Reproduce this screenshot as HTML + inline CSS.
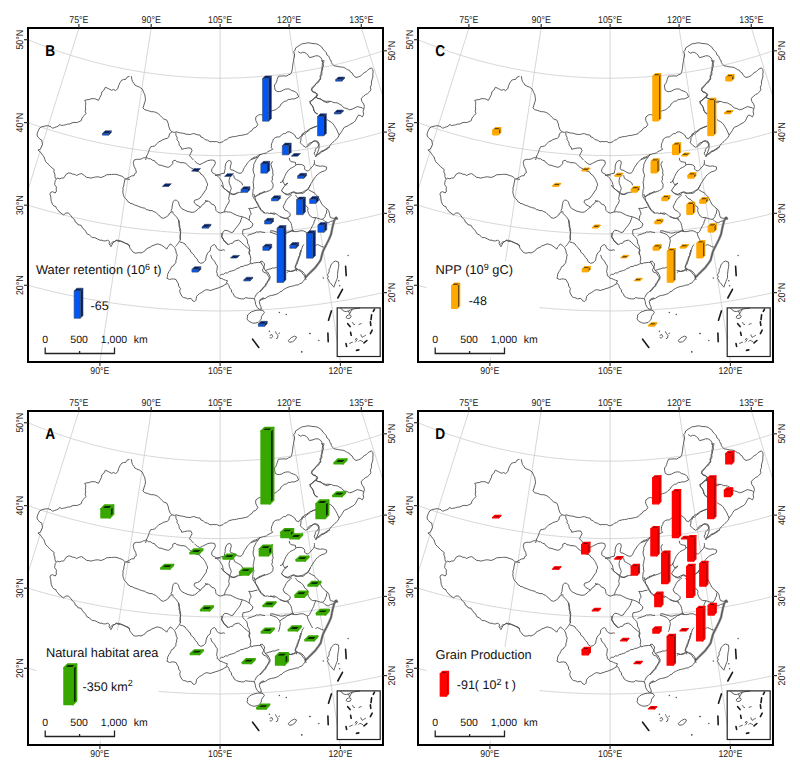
<!DOCTYPE html>
<html><head><meta charset="utf-8"><style>
html,body{margin:0;padding:0;background:#fff;}
svg{display:block;}
.tl{font-size:9.9px;fill:#1a1a1a;}
.pl{font-size:15.6px;font-weight:bold;fill:#000;}
.lg{font-size:12.8px;fill:#111;}
.lv{font-size:12.5px;fill:#111;}
.sup{font-size:9px;}
.sc{font-size:10.5px;fill:#111;}
.tk{stroke:#333;stroke-width:1.2;}
text{font-family:"Liberation Sans",Arial,Helvetica,sans-serif;text-rendering:geometricPrecision;}
</style></head><body>
<svg width="800" height="773" viewBox="0 0 800 773">
<defs><clipPath id="clip"><rect x="28" y="28" width="355" height="334"/></clipPath></defs>
<rect width="800" height="773" fill="#fff"/>
<g transform="translate(0,0)"><g fill="none" stroke="#cdcdcd" stroke-width="0.8" clip-path="url(#clip)"><polyline points="-102.9,235.8 -96.2,239 -89.5,242.2 -82.8,245.3 -76,248.4 -69.2,251.4 -62.3,254.3 -55.4,257.1 -48.5,259.9 -41.6,262.6 -34.7,265.2 -27.7,267.7 -20.7,270.2 -13.6,272.6 -6.6,275 0.5,277.2 7.6,279.4 14.7,281.6 21.9,283.6 29,285.6 36.2,287.5 43.4,289.3 50.7,291.1 57.9,292.8 65.2,294.4 72.4,295.9 79.7,297.4 87,298.8 94.4,300.1 101.7,301.3 109,302.5 116.4,303.6 123.7,304.6 131.1,305.5 138.5,306.4 145.9,307.2 153.3,307.9 160.7,308.6 168.1,309.1 175.5,309.6 183,310 190.4,310.4 197.8,310.6 205.3,310.8 212.7,310.9 220.1,311 227.6,310.9 235,310.8 242.4,310.6 249.9,310.4 257.3,310 264.7,309.6 272.1,309.1 279.5,308.6 287,307.9 294.4,307.2 301.7,306.4 309.1,305.5 316.5,304.6 323.9,303.6 331.2,302.5 338.6,301.3 345.9,300.1 353.2,298.8 360.5,297.4 367.8,295.9 375.1,294.4 382.3,292.8 389.6,291.1 396.8,289.3 404,287.5 411.2,285.6 418.4,283.6 425.5,281.6 432.6,279.4 439.8,277.2 446.8,275 453.9,272.6 460.9,270.2 467.9,267.7 474.9,265.2 481.9,262.6 488.8,259.9 495.7,257.1 502.6,254.3 509.4,251.4 516.2,248.4 523,245.3 529.8,242.2 536.5,239 543.2,235.8"/><polyline points="-68.9,166.7 -62.9,169.6 -56.9,172.5 -50.9,175.3 -44.8,178 -38.7,180.6 -32.6,183.2 -26.5,185.8 -20.3,188.2 -14.1,190.7 -7.8,193 -1.6,195.3 4.7,197.5 11,199.7 17.3,201.8 23.6,203.8 30,205.8 36.3,207.7 42.7,209.5 49.2,211.3 55.6,213 62,214.6 68.5,216.2 75,217.7 81.5,219.1 88,220.5 94.5,221.8 101,223.1 107.6,224.2 114.1,225.3 120.7,226.4 127.3,227.4 133.9,228.3 140.5,229.1 147.1,229.9 153.7,230.6 160.3,231.2 167,231.8 173.6,232.3 180.2,232.8 186.9,233.1 193.5,233.4 200.2,233.7 206.8,233.8 213.5,233.9 220.1,234 226.8,233.9 233.4,233.8 240.1,233.7 246.7,233.4 253.4,233.1 260,232.8 266.7,232.3 273.3,231.8 279.9,231.2 286.5,230.6 293.2,229.9 299.8,229.1 306.4,228.3 313,227.4 319.5,226.4 326.1,225.3 332.7,224.2 339.2,223.1 345.8,221.8 352.3,220.5 358.8,219.1 365.3,217.7 371.8,216.2 378.2,214.6 384.7,213 391.1,211.3 397.5,209.5 403.9,207.7 410.3,205.8 416.6,203.8 423,201.8 429.3,199.7 435.6,197.5 441.9,195.3 448.1,193 454.3,190.7 460.5,188.2 466.7,185.8 472.9,183.2 479,180.6 485.1,178 491.2,175.3 497.2,172.5 503.2,169.6 509.2,166.7"/><polyline points="-34.3,96.4 -29.1,99 -23.8,101.5 -18.5,103.9 -13.1,106.3 -7.7,108.7 -2.3,110.9 3.1,113.2 8.5,115.4 14,117.5 19.4,119.5 24.9,121.6 30.5,123.5 36,125.4 41.6,127.3 47.1,129 52.7,130.8 58.3,132.4 64,134.1 69.6,135.6 75.3,137.1 81,138.6 86.6,139.9 92.4,141.3 98.1,142.5 103.8,143.8 109.5,144.9 115.3,146 121.1,147 126.8,148 132.6,148.9 138.4,149.8 144.2,150.6 150,151.3 155.8,152 161.7,152.6 167.5,153.2 173.3,153.7 179.2,154.2 185,154.5 190.9,154.9 196.7,155.1 202.6,155.3 208.4,155.5 214.3,155.6 220.1,155.6 226,155.6 231.8,155.5 237.7,155.3 243.5,155.1 249.4,154.9 255.2,154.5 261.1,154.2 266.9,153.7 272.8,153.2 278.6,152.6 284.4,152 290.2,151.3 296,150.6 301.8,149.8 307.6,148.9 313.4,148 319.2,147 325,146 330.7,144.9 336.5,143.8 342.2,142.5 347.9,141.3 353.6,139.9 359.3,138.6 365,137.1 370.6,135.6 376.3,134.1 381.9,132.4 387.5,130.8 393.1,129 398.7,127.3 404.3,125.4 409.8,123.5 415.3,121.6 420.8,119.5 426.3,117.5 431.8,115.4 437.2,113.2 442.6,110.9 448,108.7 453.4,106.3 458.7,103.9 464,101.5 469.3,99 474.6,96.4"/><polyline points="-0.1,26.9 4.4,29.1 9,31.3 13.6,33.4 18.2,35.5 22.9,37.5 27.5,39.5 32.2,41.4 36.9,43.3 41.7,45.2 46.4,46.9 51.2,48.7 55.9,50.4 60.7,52 65.6,53.6 70.4,55.2 75.2,56.7 80.1,58.1 85,59.5 89.8,60.9 94.7,62.2 99.7,63.4 104.6,64.6 109.5,65.8 114.5,66.8 119.4,67.9 124.4,68.9 129.4,69.8 134.4,70.7 139.4,71.6 144.4,72.4 149.4,73.1 154.4,73.8 159.4,74.5 164.5,75.1 169.5,75.6 174.6,76.1 179.6,76.5 184.7,76.9 189.7,77.2 194.8,77.5 199.9,77.8 204.9,77.9 210,78.1 215.1,78.1 220.1,78.2 225.2,78.1 230.3,78.1 235.3,77.9 240.4,77.8 245.5,77.5 250.5,77.2 255.6,76.9 260.6,76.5 265.7,76.1 270.7,75.6 275.8,75.1 280.8,74.5 285.8,73.8 290.9,73.1 295.9,72.4 300.9,71.6 305.9,70.7 310.9,69.8 315.9,68.9 320.8,67.9 325.8,66.8 330.7,65.8 335.7,64.6 340.6,63.4 345.5,62.2 350.4,60.9 355.3,59.5 360.2,58.1 365,56.7 369.9,55.2 374.7,53.6 379.5,52 384.3,50.4 389.1,48.7 393.8,46.9 398.6,45.2 403.3,43.3 408,41.4 412.7,39.5 417.4,37.5 422,35.5 426.6,33.4 431.3,31.3 435.8,29.1 440.4,26.9"/><line x1="-32.4" y1="381.7" x2="88.1" y2="-1.1"/><line x1="92.4" y1="410.7" x2="153.3" y2="14"/><line x1="220.1" y1="420.4" x2="220.1" y2="19.1"/><line x1="347.9" y1="410.7" x2="286.9" y2="14"/><line x1="472.6" y1="381.7" x2="352.2" y2="-1.1"/></g><rect x="337.2" y="307.9" width="43" height="48.6" fill="#fff"/><g fill="none" stroke="#8a8a8a" stroke-width="2.4" stroke-linejoin="round"><polyline points="337.5,219.2 336.2,217.6 334.2,220.7 333.1,224.8 332.1,229 331.1,234.2 329,239.3 326.9,243.5 324.8,247.6 322.8,251.8 321.7,255.9 320.7,260 318.6,263.1 315.5,267.3 311.4,271.4 308.3,274.5 305.2,277.6"/></g><g fill="none" stroke="#4d4d4d" stroke-width="0.9" stroke-linejoin="round"><polyline points="131.3,76.2 131.9,79.4 132.5,81.6 133.9,83.3 134.8,85 136.5,85.9 139.7,87.2 142.3,89.1 143.6,92.3 144.9,94.9 145.1,96.9 145.5,98.8 145.1,101.5 144.2,104 143.7,106 142.9,107.9 144.9,109.8 147.2,110.3 149.4,111.1 151.3,111.7 153.3,111.7 155.3,112.2 157.2,113 158.9,114.2 160.4,115.6 161.9,117.3 163.6,118.9 166.9,120.2 168.2,123.4 168.8,126.6 170.1,129.9 172,131.8 174.3,132.4 176.6,131.8 179.1,132.7 181.7,133.1 183.9,133.4 186,134.2 188.2,134.4 190.4,134.5 192.5,133.7 194.7,133.7 197.2,134.8 199.9,135 200.9,137 203.1,137.6 204.9,139.6 207.6,140.2 210,141.8 212.8,141.5 214.8,141.7 216.7,141.5 219.3,142.8 221.2,142.3 223,141.7 224.4,140.2 226.6,139.6 228.2,138.3 230,137"/><polyline points="172,131.8 169.5,133.7 168.8,137 167.1,138.4 164.9,138.9 162.8,139.7 161,140.9 158.8,141.7 157.2,143.4 156,144.8 154.6,146 152.7,146.4 150.7,146.7 149.4,149.3 148.8,151.2 148.1,153.1 147.3,154.8 146.4,156.4 146.2,158.3 145.5,160"/><polyline points="175.9,132.4 175.9,135.2 177.2,137.6 177,139.8 178.5,141.5 179.1,143.4 179.2,145.4 181,147 181.7,149.3 184.3,148.6 187.6,148 190.8,148 192.1,150.6 190.8,153.1 189.5,155.7 190.7,157.1 192.1,158.3 193.4,160"/><polyline points="230,137.6 232.1,136.8 234.3,136.6 236.5,136.3 238.6,135.6 240.8,135.5 242.9,135 245.5,134.5 248.1,133.7 249.7,131.7 252,130.5 253.4,128.2 255.9,127.3 257.8,124.7 256.9,122.7 255.9,120.8 255.6,118.8 255.9,116.9 258.5,115 260.4,114.5 262.3,115 264.2,114.8 265.8,113.8 267.5,113 269.5,112.7 271.1,111.5 272.7,110.5 274.7,110.1 276.6,109.2 278,107.6 279.8,106.6 281.1,104 282.7,102.7 284.3,101.4 286.5,100.9 288.2,99.5 290.2,99.4 292.1,98.8 294.1,99 296,98.2 298.6,96.9 297.3,93.6 295.6,91.9 293.4,91 291.3,90.4 289.5,89.1 287.6,88.9 285.6,89.1 283.6,89.9 281.7,91 279.8,91.5 277.9,91.7 275.3,90.4 274.6,87.2 274.5,85 275.9,83.3 276.7,81.4 277.2,79.4 278.5,76.2"/><polyline points="323.8,60 323.8,62 323.1,63.9 323.5,66 322.5,67.8 322.6,69.8 321.8,71.6 321.9,74.4 320.6,76.8 320.8,79 319.3,80.7 318.4,82.4 316.7,83.3 315.2,84.4 314.1,85.9 312.4,87.1 311.5,89.1 312.8,91.7 315.4,92.3 316.7,94.3 316,97.5 314,98.3 312.8,100.1 309.6,101.4 310.9,104 312.8,106.6 313.6,108.5 314.1,110.5 315.4,113 317.3,114.3"/><polyline points="316.7,126 314.7,126.8 312.8,127.9 310.6,128.9 308.9,130.5 306.3,132.4 304.4,134.4"/><polyline points="316,97.5 318.2,98.5 320.6,98.8 322,100.2 323.9,100.8 325.7,101.4 327.9,101.2 330,101.4"/><polyline points="250.7,159.6 252.3,158.5 253.9,157.3 255.9,157 257.6,156.1 259,154.7 261,154.4 263.5,153.5 266.2,153.1 268,151.6 270.1,150.6 272.7,149.3 271.3,147.6 271.4,145.4 271.7,143.3 272.7,141.5 273.3,139.1 275.3,137.6 277.2,136.9 279.2,137 281.7,135 283.4,133.6 285.6,133.7 287.1,131.9 289.5,131.8 292.1,133.1 294.7,135 296,137.6 298.6,138.9 299.5,137.2 301.2,136.3 302.4,133.7 304.4,134.4"/><polyline points="307.6,145.4 308.6,143.8 310.2,142.8 312.4,142.3 314.1,140.9 316.1,140.9 318,141.5 319.3,144.1 318,146.7 316.6,147.9 315.4,149.3 315.2,151.4 314.1,153.1 315.4,155.7"/><polyline points="315.4,157 316.7,155.7 317.9,154.3 319.3,153.1 320.9,151.4 323.1,150.6 325.2,149.5 327,148 330,146.7"/><polyline points="330.8,60 331.4,62.6 332.6,64.3 334,65.8 336,66.1 337.9,66.5 339.8,66.9 341.7,67.1 343.8,67.4 345.6,68.4 347.4,69.6 349.5,70.3 350.4,72 352.1,72.9 353.4,75.5 356,77.5 358.6,76.8 360.8,75.9 362.4,74.2 364.2,72.7 366.3,71.6 367.5,70.3 368.9,69.1 371.5,67.8 372.8,69.7 373.1,72 372.8,74.2 372.9,76.9 372.1,79.4 371.4,82 371.5,84.6 370.3,87.1 370.9,89.8 369.4,91.9 367.6,93.6 365.4,94.6 363.7,96.2 362.2,97.3 361.2,98.8 361.8,101.4 363.7,104 364.4,106.6 363.7,109.2 363.1,111.7 363.7,114.3 362.4,116.9 360.5,115.6 358.6,115 357.3,116.9 356.3,118.9 355.3,120.8 353.9,122.3 352.1,123.4 349.5,124.7 347.6,126 344.3,127.3 343,129.2 342.4,130.5 341.1,132.4 339.2,135 337.9,137.6 336.5,138.8 335.3,140.2 334,141.5 332.5,142.6 331.2,143.9 330.1,145.4 328.8,147.6 326.9,149.3 325.1,150.1 323.6,151.2 321.3,151.9 319.8,153.8 317.3,154.3 315.9,156.4"/><polyline points="315.9,156.4 316.8,154.1 317.8,151.8 318.5,149.9 319.1,148 319,145.3 317.8,142.8 315.2,140.9 312.6,141.5 310.7,144.1 308.1,146 305.5,147.3"/><polyline points="305.5,147.3 302.9,145.4 301.6,144.1 300.3,142.8 300.9,140.2 301,137.6 302.2,136.2 302.9,134.4"/><polyline points="317.2,126 315.4,127 313.3,127.3 311.3,128.2 309.4,129.2 306.8,131.2 304.2,132.4 302.9,134.4"/><polyline points="321.7,60 322.5,62.5 322.3,65.2 322,67.7 321.7,70.3 321.1,72.2 321,74.2 320,76 320.4,78.1 318.5,80.7 317.2,82.3 315.9,83.9 314.9,85.8 313.3,87.2 312.2,88.7 311.3,90.4 313.3,92.3 315.9,93 317.8,94.3 317.2,96.2 315.1,97.3 313.3,98.8 312.1,100.2 310.7,101.4 310.1,103.3 312,105.3 313.3,107.9 313.9,111.1 315.9,113 317.8,113.7"/><polyline points="315.9,96.9 317.6,98.4 319.8,98.8 321.9,99.8 323.6,101.4 325.5,102.2 327.5,102.7 329.3,101.7 331.4,101.4 333.2,102.5 335.3,102.7 337.4,102.9 339.2,104 341.7,105.3 342.8,106.8 344.3,107.9 346.9,108.5 349.5,109.8 352.1,109.2 354.7,107.9 357.3,106.6 359.9,107.2 362.4,107.9 363.7,109.2"/><polyline points="326.9,119.5 328.8,120.8 330.9,121.9 332.7,123.4 334.1,125.3 335.3,127.3 336.3,128.9 337.2,130.6 337.9,132.4 339.2,135"/><polyline points="57.2,178.1 55.2,180.7 54.9,182.6 54.6,184.6 56.5,187.2 56.1,189.1 56.5,191 55.2,193 52.6,191.7 50.7,192.3 49.9,194.2 50.7,196.2 50.9,198.8 51.3,201.4 52.6,204.6 54,206 55.9,206.6 56.4,208.4 57.8,209.8 59.1,211.7 61,213 63.6,215 65.6,213 68.2,213 69.7,214.1 70.8,215.6 72.7,218.2 74.7,219.7 75.3,222.1 77,223 77.9,224.7 81.1,225.3 82,227 83,228.6 84.5,229.7 85.6,231.2 86.9,233.7 89.5,235 90.9,236.2 92.1,237.6 94.7,237.6 97.3,238.9 99.9,240.2 101.9,240.2 103.7,240.9 105.7,240.9 107.6,240.2 109.6,241.5 109.1,243.6 110.2,245.4 110.9,246.7 112,244.8 112.8,242.8 115.4,240.9 118,240.2 120.6,240.9 123.1,242.1 125.7,243.4 128.3,244.1 130,246"/><polyline points="57.2,178.1 59.8,178.8 61.6,178 63.6,178.1 64.9,176.2 66.2,174.2 68.8,172.9 70.8,173.3 72.7,174.2 74.8,174.4 76.6,175.5 79.2,174.2 81.7,173.6 84.3,175.5 86.9,177.5 88.9,177.6 90.8,178.1 93.4,177.5 95.3,177 97.3,176.8 99.3,177.1 101.2,177.5 104.4,176.2 106.3,174.9 108.9,174.6 111.5,174.5 113.7,174.3 115.9,174.3 118,174.9 119.9,175.6 121.8,176.2 123.6,177.3 125.1,178.8 127.5,179.2 130,179.4"/><polyline points="125.1,178.8 124.4,182 123.9,183.9 123.8,185.9 122.9,187.8 123.1,189.8 122.8,191.7 123.1,193.6 123.6,195.6 124.4,197.5 125.8,198.7 127,200.1 128.1,201.9 130,202.7"/><polyline points="146.8,157.5 148.6,158.7 150.7,158.8 152.4,160.2 154.6,160.7 155.5,162.4 157.2,163.3 158.7,165 161,165.2 162.9,165.9 164.9,166.5 166.8,167.1 168.8,167.2 171.4,165.2 172.7,163.5 172.7,161.3 175.3,160.1 176.9,161.8 179.2,162 181,162.8 183,162.6 185.6,163.3 187.1,164.4 188.2,165.9 190.8,167.8 193.4,169.1 196,171 198,171.4 199.9,172.3 200.7,174 202.4,174.9 204.4,177.5 205.6,179.3 206.3,181.4 207.3,183.2 207.6,185.3 206.5,187.1 206.3,189.2 204.9,191 203.7,193 201.8,195.6 199.9,198.2 197.3,199.5 194.7,200.2 194,202.1 196,204.7 198.6,206 200.5,207.3"/><polyline points="130,203.4 132.1,203.6 133.9,204.7 135.8,205.4 137.8,206 139.4,206.8 141.2,207.3 142.9,207.9 144.8,208.2 146.3,209.5 148.1,209.9 150,210.7 152,210.5 153.8,211.7 155.9,212.4 157.1,213.8 158.5,215 160,216.1 161,217.6 163.6,218.3 166.2,217 168.8,215 169.5,213.1 171.4,212.4 171.1,210.4 172,208.6 172.2,206 172.7,203.4 173.1,201.5 174.6,200.2 176.6,200.2 178.5,202.1 179,204.1 179.8,206 181.7,208.6 184.3,209.9 186.9,211.2 189.5,211.8 192.1,212.4 194.7,211.8 197.3,209.9 198.7,208.3 200.5,207.3"/><polyline points="172.7,211.2 173.1,213.4 174.6,215 176.4,216.8 177.9,218.9 179.3,221.3 179.2,224.1 179,226.3 179.9,228.4 179.8,230.6 180.6,232.4 180.2,234.4 180.5,236.2 179.9,238.2 180.5,240"/><polyline points="200.5,207.3 202.4,204.7 204.1,203.8 205,202.1 207.6,200.8"/><polyline points="194.7,160.7 195.8,162.2 197.3,163.3 199.9,164.6 202.4,163.3 205,162 207.6,160.7 210.2,160.1 212.8,160.1 214.7,160.7 215.4,163.3 214.1,165.9 212.1,168.5 211.5,171 212.4,172.7 214.1,173.6 216.7,174.9 219.3,174.9 220.6,176.2"/><polyline points="110,244.6 111.2,243.2 112.6,242 114.8,241.5 116.5,240.1 118.2,241.4 120.3,241.3 122.3,241.9 124.2,242.6 126.8,243.9 129.4,245.9 129.9,248.1 131.3,249.8 133.3,252.3 135.2,253.1 137.2,253 139.1,252.5 141,253 143.6,251.7 145.2,250.7 146.2,249.1 148.1,248 150.1,247.2 151.9,245.9 154,245.2 155.9,244.3 157.9,243.9 159.8,244.6 161.7,245.2 164.3,247.2 166.9,249.1 167.5,247.2 168.9,245.9 170.2,243.9 172.1,245.2 173.4,246.5 174.7,247.8 176,251 176.2,253.1 177.3,254.9 176.7,256.8 176.6,258.8 175.8,260.7 176,262.7 174.4,264 173.4,265.9 171.6,266.7 170.8,268.5 170,270.2 168.9,271.7 167.6,274.3 167.5,276.3 166.9,278.2 169.5,279.5 171.4,279 173.4,278.9 176,279.5 177.3,282.1 178.5,283.9 178.6,286 180.5,288.6 179.8,290.4 179.9,292.4 181.2,295 182.2,296.6 183.7,297.6 185.8,297.9 187.6,298.9 190.9,298.3 192.8,300.9 194.7,301.5 196,300.2 196.3,298.2 196.7,296.3 197.9,294.9 199.3,293.7 201.8,292.4 204.4,290.5 206.3,289.7 208.3,289.9 210,290.5"/><polyline points="178.6,220 178.6,222 179.2,223.9 179.8,225.8 179.9,227.8 180.7,230.3 180.5,232.9 180.3,234.9 179.9,236.8 180.6,238.8 179.9,240.7 178.6,242.6 177.3,244.6 175.3,246.5"/><polyline points="179.9,242 182.4,242.6 185,243.9 186.1,245.7 187.6,247.2 188.6,248.8 190.2,249.8 190.8,252.2 192.8,253.6 194.2,255.5 195.4,257.5 197.2,259.1 198,261.4 200.6,263.3 203.1,262.7 204.5,261.5 205.7,260.1 205.9,258.1 206.4,256.2 207.1,254.1 208.3,252.3 210,251"/><polyline points="221,232.9 221.9,234.8 221.7,236.8 223.3,238.4 223.6,240.7 225,241.9 226.2,243.3 228.8,244.6 230.6,243.4 232.7,243.3 233.8,241.4 235.9,240.7 238.5,240.1 241.1,242 243,243.9 245,245.9 247.6,247.8 249.5,249.8 248.9,253 250.2,255.6 250.8,258.8 250.2,261.4 251.4,264 253.6,263 256,262.7 258.6,262.4 261.2,262.7"/><polyline points="210.1,251 210.5,249.1 210.7,247.2 212.6,245.2 214.6,244.6 215.9,245.9 216.5,247.8 218.5,249.8 221,250.4 223.6,249.8 224.9,250.4"/><polyline points="210.7,254.9 211.3,256.9 212,258.8 213.5,259.9 214.6,261.4 215.9,264 217.3,265.7 217.2,267.9 217,269.8 216.5,271.7 217.3,273.6 217.2,275.6 218.9,276.5 219.8,278.2 221.8,278.5 223.6,279.5 225.5,280.2 227.5,280.8 226.2,283.4"/><polyline points="219.8,275.6 221.5,274.3 223.6,274.3 225.3,272.8 227.5,273 229.2,271.6 231.4,271.1 233.4,270.5 235.3,269.8 237,268.4 239.2,267.9 240.9,266.5 243,266.6 244.7,265.3 246.9,265.3 248.9,264.3 250.8,263.3"/><polyline points="261.2,262.7 262.4,265.3 263.9,267 264.4,269.2 266.3,271.7 268.1,272.5 268.9,274.3 270.2,276.9 269.6,279.5 267.6,282.1 266.3,284.7 265.4,286.4 263.7,287.3 262.2,288.4 261.2,289.9 259.8,291.1 258.6,292.4 257,293.4 256,295 254.7,297.6"/><polyline points="265,270.5 267,269.9 268.9,269.2 270.9,268.8 272.8,267.9 274.8,268.1 276.7,267.2 279.3,266.6"/><polyline points="210.1,290.6 212,289.9 214,289.3 215.9,288.6 217.9,288.1 219.8,287.3 223,286 224.9,284.7 227.5,283.4 228.8,285.3 229.6,287.9 231.4,289.9 231.6,292.2 233.3,293.7 234.3,296.2 236.6,297.6 239.1,298.5 241.7,298.9 243.9,298.9 245.6,297.6 248.2,298.2 250.8,298.3 252.8,298.4 254.7,298.9"/><polyline points="221.3,185 223.1,187.7 224.9,189.1 226.7,190.4 229.4,192.2 232.1,194 234,194.2 235.8,193.6 237.6,192.2"/><polyline points="229.4,193.1 229.4,195 229,196.8 228.6,198.7 229.4,200.4 228.5,203.1 226.7,205.8 225.4,208.5 224.5,211.2 223.6,212.1"/><polyline points="205,200.4 206.7,201.1 208.6,201.3 210.3,202.3 211.3,204 214,204.9 215.4,206.7 215.7,208.5 215.9,210.3 217.7,212.1 220.4,213.1 223.6,212.1"/><polyline points="223.6,212.1 226.7,211.7 228.5,212.1 230.3,212.1 232.2,213 234,214 236.7,215.3 239.4,216.2 242.1,216.7 244.8,217.6 247.5,218.9 249.3,220.3"/><polyline points="242.1,217.1 241.2,219.4 240.3,222.1 238.5,224.8 236.7,227.1 234.9,229.3 233.1,232.1 231.2,232.5 229.4,231.6 227.6,230.7 224.9,230.2 223.1,232.1 222.2,234.8 221.7,237.5 223.1,239.3 224.9,241.1 226.7,242.9 227.6,244.7"/><polyline points="249.3,220.3 251.2,222.1 253,223.9 252.1,226.6 249.3,228.4 247.5,228.9 245.7,229.3 243,229.8 242.6,232.1 243,234.8 244.8,236.6 246.6,238.4 247.5,241.1 247.5,243 248.4,244.7 249.3,246.4 249.3,248.3 250,250.5 249.2,252.8 249.8,255"/><polyline points="248.4,208.5 250.2,208.3 252.1,208.5 254.8,207.6 257.5,207.2"/><polyline points="249.3,208.5 250.2,211.2 251.2,214 249.8,215.8 249.3,218.5 249.3,220.3"/><polyline points="253.9,194 254.8,196.8 257.5,195 259,193.5 261.1,193.1 263,192.2 265,191.3"/><polyline points="254.8,196.8 255.4,198.6 255.7,200.4 257.5,203.1 258.4,204.9 259.3,206.7 261.1,209.4 262.9,211.2 265,213.1"/><polyline points="247.5,235.7 249.2,234.7 251.2,234.3 252.9,233.5 254.8,233 256.4,231.9 258.4,232.1 260.2,231.6 262,232.1 265,232.5"/><polyline points="281.6,190.4 282.8,192.3 284.7,193.5 287.8,194.3 290.9,192.8 293.2,192 295.5,193.5 297.5,193.3 299.4,192.8 302.5,193.5 304.2,192.5 305.6,191.2 308,188.9 309.5,186.6 310.3,185"/><polyline points="308.7,189.7 311.1,191.2 314.2,192.8 316.5,195.1 317.8,196.5 318.8,198.2 320.4,201.3 321.9,204.4 323.6,205.8 325,207.5 327.4,209.1 328.9,211.4 329.4,213.3 329.7,215.3 330.5,217.6 333.6,218.4 335.9,217.6 337.5,219.2"/><polyline points="295.5,195.1 296.6,196.7 297.9,198.2 301,199.8 303.3,202.1 304.8,205.2 307.2,206.7 308,208.3 307.6,210.6 308.7,213.7 310.3,216.1 312.6,217.6 315.7,217.6 318,218.4 320.4,219.2 322.7,219.2 325,216.8 325.4,214.7 326.6,213 326.6,210.6 327.4,209.1"/><polyline points="322.7,219.2 325,221.5 328.1,223 330.5,221.5 333.6,220.7"/><polyline points="315.7,217.6 315,219.6 314.2,221.5 313.7,223.6 312.6,225.4 311.1,228.5 309.5,231.6 308,233.1 306.4,232.4"/><polyline points="306.4,232.4 303.3,230.8 300.2,230.8 297.1,231.6 294,231.6 291.6,230.8 289.8,231.9 287.8,232.4 286.3,233.7 284.7,234.7 282.3,236.2 280,237.8"/><polyline points="307.2,233.1 308,236.2 309.5,239.3 311.1,242.5 312.6,245"/><polyline points="291.6,195.1 290.1,196.6 287.8,198.2 286.2,200.5 284.7,203.6 283.1,206.7 284.7,209.8 287.8,211.4 290.1,213.7 290.1,216.1 287.8,217.6 285.4,218.4 282.3,217.6 280,216.8"/><polyline points="287.8,218.4 288.5,220.3 290.1,221.5 291.1,223.4 291.6,225.4 292,227.3 292.4,229.3 293.2,231.6"/><polyline points="260,301.2 261.4,299.6 263.5,298.9 265.4,298.4 267,297.2 269.2,296 271.6,295.4 274,295 276.3,294.2 278.4,293.5 279.8,291.9 281.9,291.3 283.3,289.6 285.6,288.4 287.9,287.3 290.2,286.5 292.6,286.1 294.4,285.7 296.1,284.9 298.1,285.1 299.6,283.8 301.7,283.1 303.1,281.4 304.5,279.8 305.4,277.9"/><polyline points="305.4,277.9 305.4,275.4 304.2,273.3 301.9,271 300.3,270 298.4,269.8 296.1,268.6 294.9,267.5 295.6,265.8 296.1,264 296.8,262.3 297.3,260.5 298.2,258.9 298.4,257 299.8,255.5 299.6,253.5 300.4,251.8 300.7,250"/><polyline points="286.8,272.7 288.3,271.5 290.3,271.5 293.8,271 296.1,269.8"/><polyline points="260,261.6 262.3,261.1 263.4,262.6 264.7,264 264.1,266.3 263.5,268.2 262.3,269.8 263.5,272.1 265.2,272.7 267,273.3 267.6,275.4 269.3,276.8 269,278.7 268.1,280.3 267.1,282.2 265.8,283.8 264.9,285.7 263.5,287.3 262.7,289.2 261.2,290.7 260,291.9"/><polyline points="254.2,298.3 255.2,301.4 255.7,304.5 257.3,307.6 259.3,309.2 261.4,309.2 260.9,306.6 259.9,304.5 259.3,301.4 260.4,299.3 263.5,297.8 264,299"/><polyline points="288.3,340.7 289.7,339 291.4,337.6 294.5,336.1 296.6,337.1 295.1,339.7 292.5,341.8 289.4,342.3 288.3,340.7"/><polyline points="269.7,335.5 271.8,334.5 272.8,336.6 271.2,338.1 269.7,337.6"/><polyline points="275.4,331.4 276.4,333.5 278,335.5 277.5,338.1 275.9,338.7"/><polyline points="278.5,333.5 280,333"/><polyline points="247.5,315 249.4,313.4 251.3,311.9 253.2,311.4 255,310.6 257.5,310.2 260,310 263.1,310.6 264.4,312.5 262.5,315 261.4,316.7 261.3,318.8 260,320.6 258.1,322.5 255,323.1 253.1,323.2 251.3,322.5 248.8,321.3 246.9,318.8 247.7,317 247.5,315"/><polyline points="278.5,76.2 281.5,76 284.1,75.9 286.8,76 288.4,74.8 290.3,74.3 291.4,72.7 292,70.8 292.4,68.5 292.7,66.1 292.9,63.8 293.4,61.6 293.6,59.4 294.3,57.2 294.6,55 293.8,51.5 295.2,50 295.5,48 298.1,46.3 300.8,44.5 302.5,43.7 304.3,43.6 307.8,42.8 310.4,43.1 313,43.6 315.7,43.7 318.3,44.5 320,45.8 321.8,47.1 322.9,49 324.4,50.6 326.2,52.5 327,55 328.8,56.3 329.6,58.4 330.5,60.3"/><polyline points="298.1,51.5 300.8,53.3 302.4,52.3 304.3,52.4 306.3,53.4 307.8,55 309.5,57.6 313,56.8 315.6,55.8 318.3,55.9 320.9,57.6 322,59.7 322.6,62"/><polyline points="340.5,308 342,309.8 344.1,311.2 346.3,311.6 348.5,310.9 350.7,309.8 352.8,309.1 355,308.7 357.9,308.3 360.1,308"/><polyline points="348.5,310.9 349.2,312.7 349.6,314.1"/><polyline points="352.8,309.4 351,311.2 349.9,313.1 349.6,314.1"/><polyline points="346.7,316 348.5,314.9 350.3,314.9 351.2,316.3 350.1,318.1 347.8,318.6 346.2,317.6 346.7,316"/><polyline points="352.5,322.1 353.2,323.6 353.9,324.7 355,324.3"/><polyline points="358.6,324.7 360.1,323.9 361.5,323.6"/><polyline points="355,340.2 356.5,338.1 357.2,339.5 355.7,341.7 355,342.4"/><polyline points="360.8,334.4 361.5,336.6 363,337.3 364.4,335.9 365.9,335.2"/><polyline points="358.6,341.7 360.1,340.2 361.5,341 363,341.7"/><polyline points="349.2,343.5 351,342.8 352.8,342"/><polyline points="215,175.6 217.3,175.2 219.7,174.4 222,173.6 224.3,173.2"/><polyline points="224.3,173.2 224.7,170.5 225.3,168.6 225.1,166.6 225.9,163.5 227.4,161.2 229.4,160.4 230.9,161.2 231.3,163.5 230.5,165.9 230.1,168.2 230.9,169.8 232.9,170.1 235.2,171.3 237.1,172.5 239.1,173.2 241,173.2 242.6,171.7 243.3,169.8 244.5,167.4 246.1,165.1 247.6,162.8 249.2,161.2 250.7,159.7 253,158.9 255.4,158.1 257.3,157.3 258.9,156.2 260,155"/><polyline points="216.6,175.2 218.9,177.5 220.4,178.8 221.2,180.6 222.4,182.4 222.8,184.5 223.5,187.6 225.9,189.9 228.2,191.9 229.4,193"/><polyline points="232.1,175.2 229.8,177.5 229,180.6 229.4,183.7 230.5,186.1 231.3,188.4 230.5,190.7 229.4,193"/><polyline points="233.6,175.2 234.4,178.3 236.3,179.5 238.3,180.6 240.1,181.7 241.8,183 242.6,185.3"/><polyline points="241.8,192.3 239.8,192.3 237.5,193 235.2,194.2 232.9,194.6 230.5,193.8 229.4,193"/><polyline points="258.5,156.6 257.3,158.2 256.1,159.7 254.6,162.8 253.7,164.6 253.8,166.6 253,169 253.4,172.1 254.6,175.2 253.8,178.3 253.7,180.3 253,182.2 253.5,184.1 253.4,186.1 254,188.1 253,189.9 253,191.9 252.7,193.8 253,196.9 254.6,199.3 256.1,201.6 257.7,204.7 259.3,207.8 260.8,210.1 263.1,212.5 265.5,213.2 267.5,212.9 269.3,213.6 271.3,213.3 273.2,214 275,214.4"/><polyline points="272.5,161.2 270.9,164.3 271.7,167.4 272.8,170.5 272.7,172.9 273.2,175.2 272.1,177 272.5,179.1 271.7,181.4 273.2,184.5 272.8,187.6 271.7,189.2 269.3,190.7 267,191.5 264.7,192.3 262.4,193 260,194.2 257.7,195.4 254.6,196.9"/><polyline points="280,182.6 282.3,181.8 283.5,179.5 284.7,176.4 286.2,173.3 287.8,171 290.1,168.6 292.4,167.5 294.8,166.3 295.9,164.8 297.9,164.4 300.2,164.4 302.5,164.8 304.1,165.9 304.8,167.5 304.5,169 305.6,170.2 307.2,171 308.7,170.6 310.3,169 311.8,167.1 313.4,165.5 314.2,164"/><polyline points="314.2,164 315.7,165.1 318,165.9 320.4,166.3 322.3,165.9 324.3,166.3 326.6,167.1 326.6,169 325.8,170.2 324.3,171 321.9,171.7 319.6,172.9 317.3,174.8 315.7,176.4 314.2,178.7 312.6,181.1 311.1,183.4 309.9,185.7 308.7,188 308,189.6"/><polyline points="283.1,179.5 282.7,181.1 283.9,183.4 284.7,184.9 287,183.4 287.8,183 286.6,184.7 284.7,185.7 283.1,188 281.6,190.4 282.3,191.5 284.7,193.5 286.2,194.6 288.5,195 290.9,194.6 291.6,193.5 292.4,192.3 294,191.9 296.3,192.7 298.6,193.5 301,192.7 303.3,191.9 305.6,190.4 308,189.6"/><polyline points="289.3,157.8 289.7,160.1 290.9,161.6 293.2,162 295.5,162.4 295.5,164 295.9,164.8"/><polyline points="314.2,164 314.5,161.6 314.2,160.1"/><polyline points="55.7,178.8 54.9,176.5 54.9,174.1 53.8,171.9 54.2,169.5 52.2,168 50.3,166.4 48.8,164.8 47.3,163.1 45.6,161.7 44.8,159.4 44.1,157 42.8,155.5 41.7,153.9 40.1,151.7 37.9,150.1 39.9,149.4 41,147.7 42.5,144.6 42.1,142.3 41.7,140 39.9,139.1 38.6,137.6 37.2,136 37.1,133.8 37.8,131.8 38.6,129.9 39.7,127.9 41.7,126.8 44.9,126 48,125.7 51.1,126.8 52.6,128.3 54.5,127.5 56.5,126.8 58.4,126.1 59.6,124.4 61.4,125.5 63.5,125.2 65.5,124.8 67.4,124.1 69.8,124 72,122.9 74,122.3 76.2,122.6 78.2,122.1 81.3,120.6 81.8,118.5 82.9,116.7 84.5,115.2 86,113.6 85.2,111.3 85.7,108.9 85.4,106.6 85.7,104.3 85.7,102.2 84.7,100.4 86.9,99.8 89.1,99.6 91.1,98.7 93.2,98.7 95.3,98.8 98.4,100.4 100,97.3 101.5,94.2 101.9,91.8 103.8,90.3 105.4,87.2 108.5,88.7 111.6,90.3 113.6,89.5 115.5,90.6 117.8,88.7 118.6,85.6 120.1,82.5 121.7,80.2 123.6,79.6 125.6,79.4 127.1,77.1 129.5,76.3"/><polyline points="126.4,178.8 129.5,177.2 131.6,175.9 134.1,175.7 134.7,173.7 136.4,172.6 135.7,169.5 134.1,166.4 133.6,164.5 133.3,162.5 134.1,160.1 136.4,159.3 138.8,159.4 141.2,159 143.4,157.8 145.5,157.7 147,156.3"/><polyline points="335.5,261 338.4,262 338.8,264.9 338.6,267.2 338.1,269.4 337.8,272 337.5,274.6 337.5,277.8 336.6,279.7 335.9,281.7 334.6,285 333.9,287.2 332,285 330.7,283.2 329.1,281.7 328.7,279.9 327.4,278.5 328.3,276.6 327.4,274.6 328.6,273.1 329.2,271.4 329.1,269.4 330.2,267.8 330.7,266 331.3,264.2 333.6,262 335.5,261"/><polyline points="270,212.9 272.1,213.5 274.1,212.9 277.2,214.5 278.7,215.8 280.4,216.6 283.5,218.1 286.6,218.6 289.2,219.2"/><polyline points="315.5,245.5 317.6,244.5 319.7,245.5 321.8,246.6 323.8,247.1"/><polyline points="304.2,244.5 302.8,245.8 302.1,247.6 301.4,249.7 301.1,251.8 300,254.9 299,258 298,261.1 296.9,264.2 295.6,266.1 295.9,268.3 296.9,271.4"/><polyline points="270,232.1 273.1,233.1 276.2,234.2 277.9,235.6 279.3,237.3 280.4,240.4 279.8,243.5 279.3,246.6 278.3,248.7"/><polyline points="270,231.1 272.1,230.7 274.1,231.1 276.1,232 278.3,232.4 280.4,233.1 283,233 285.5,232.1 288.2,232.2 290.7,231.1 293.8,230.5"/><polyline points="286.6,270.4 288.7,270.7 290.7,271.4 293.8,270.4 295.9,268.8 298,269.4 299.3,270.7 301.1,271.4 302.1,272.9 303.1,274.5 304.7,275.7 305.2,277.6 306.2,280"/><polyline points="337.5,219.2 336.2,217.6 334.2,220.7 333.1,224.8 332.1,229 331.1,234.2 329,239.3 326.9,243.5 324.8,247.6 322.8,251.8 321.7,255.9 320.7,260 318.6,263.1 315.5,267.3 311.4,271.4 308.3,274.5 305.2,277.6"/></g><rect x="337.2" y="307.9" width="43" height="48.6" fill="none" stroke="#222" stroke-width="1.2"/><g stroke="#1a1a1a" stroke-width="1.6" stroke-linecap="round"><line x1="337.8" y1="298.0" x2="342.5" y2="289.3"/><line x1="328.5" y1="320.2" x2="331.4" y2="310.9"/><line x1="327.9" y1="333.0" x2="328.2" y2="341.7"/><line x1="345.6" y1="266.3" x2="346.2" y2="275.6"/><line x1="252.6" y1="339.2" x2="258.8" y2="347.5"/><line x1="374.5" y1="309.1" x2="373.3" y2="311.4"/><line x1="371.6" y1="314.9" x2="371.0" y2="319.6"/><line x1="370.4" y1="321.9" x2="370.8" y2="325.4"/><line x1="372.2" y1="330.1" x2="370.4" y2="333.6"/><line x1="366.9" y1="340.5" x2="364.0" y2="342.9"/><line x1="356.5" y1="350.4" x2="358.8" y2="349.9"/><line x1="346.0" y1="343.5" x2="346.6" y2="346.4"/><line x1="350.6" y1="332.4" x2="351.2" y2="335.3"/><line x1="347.7" y1="323.7" x2="350.1" y2="326.6"/></g><g fill="#555"><circle cx="279.4" cy="312.5" r="0.75"/><circle cx="286.3" cy="314.4" r="0.75"/><circle cx="269.4" cy="331.3" r="0.75"/><circle cx="310" cy="333.5" r="0.75"/><circle cx="318.8" cy="340.6" r="0.75"/><circle cx="301.9" cy="351.9" r="0.75"/><circle cx="348.1" cy="255.4" r="0.75"/><circle cx="323.3" cy="278" r="0.75"/><circle cx="309.9" cy="333.6" r="0.75"/><circle cx="301.6" cy="351.7" r="0.75"/><circle cx="339.6" cy="285.7" r="0.75"/><circle cx="338.8" cy="280.7" r="0.75"/></g><polygon points="335.6,79.8 341.8,79.8 344.5,77.1 338.3,77.1" fill="#00206e" stroke="#3a4a66" stroke-width="0.6" stroke-linejoin="round"/><polygon points="341.8,79.8 341.8,81.2 344.5,78.5 344.5,77.1" fill="#00206e" stroke="#3a4a66" stroke-width="0.6" stroke-linejoin="round"/><rect x="335.6" y="79.8" width="6.2" height="1.4" fill="#0057f5" stroke="#3a4a66" stroke-width="0.6" stroke-linejoin="round"/><polygon points="334.3,112.8 340.5,112.8 343.2,110.1 337,110.1" fill="#00206e" stroke="#3a4a66" stroke-width="0.6" stroke-linejoin="round"/><polygon points="340.5,112.8 340.5,114 343.2,111.3 343.2,110.1" fill="#00206e" stroke="#3a4a66" stroke-width="0.6" stroke-linejoin="round"/><rect x="334.3" y="112.8" width="6.2" height="1.2" fill="#0057f5" stroke="#3a4a66" stroke-width="0.6" stroke-linejoin="round"/><polygon points="262.5,78.6 268.7,78.6 271.4,75.9 265.2,75.9" fill="#00206e" stroke="#3a4a66" stroke-width="0.6" stroke-linejoin="round"/><polygon points="268.7,78.6 268.7,121.2 271.4,118.5 271.4,75.9" fill="#00206e" stroke="#3a4a66" stroke-width="0.6" stroke-linejoin="round"/><rect x="262.5" y="78.6" width="6.2" height="42.6" fill="#0057f5" stroke="#3a4a66" stroke-width="0.6" stroke-linejoin="round"/><polygon points="102.4,133.5 108.6,133.5 111.3,130.8 105.1,130.8" fill="#00206e" stroke="#3a4a66" stroke-width="0.6" stroke-linejoin="round"/><polygon points="108.6,133.5 108.6,135.2 111.3,132.5 111.3,130.8" fill="#00206e" stroke="#3a4a66" stroke-width="0.6" stroke-linejoin="round"/><rect x="102.4" y="133.5" width="6.2" height="1.7" fill="#0057f5" stroke="#3a4a66" stroke-width="0.6" stroke-linejoin="round"/><polygon points="317.5,116.5 323.7,116.5 326.4,113.8 320.2,113.8" fill="#00206e" stroke="#3a4a66" stroke-width="0.6" stroke-linejoin="round"/><polygon points="323.7,116.5 323.7,135.9 326.4,133.2 326.4,113.8" fill="#00206e" stroke="#3a4a66" stroke-width="0.6" stroke-linejoin="round"/><rect x="317.5" y="116.5" width="6.2" height="19.4" fill="#0057f5" stroke="#3a4a66" stroke-width="0.6" stroke-linejoin="round"/><polygon points="282.3,145.8 288.5,145.8 291.2,143.1 285,143.1" fill="#00206e" stroke="#3a4a66" stroke-width="0.6" stroke-linejoin="round"/><polygon points="288.5,145.8 288.5,154.9 291.2,152.2 291.2,143.1" fill="#00206e" stroke="#3a4a66" stroke-width="0.6" stroke-linejoin="round"/><rect x="282.3" y="145.8" width="6.2" height="9.1" fill="#0057f5" stroke="#3a4a66" stroke-width="0.6" stroke-linejoin="round"/><polygon points="291.3,156.2 297.5,156.2 300.2,153.5 294,153.5" fill="#00206e" stroke="#3a4a66" stroke-width="0.6" stroke-linejoin="round"/><polygon points="297.5,156.2 297.5,156.2 300.2,153.5 300.2,153.5" fill="#00206e" stroke="#3a4a66" stroke-width="0.6" stroke-linejoin="round"/><polygon points="191.5,171.2 197.7,171.2 200.4,168.5 194.2,168.5" fill="#00206e" stroke="#3a4a66" stroke-width="0.6" stroke-linejoin="round"/><polygon points="197.7,171.2 197.7,171.2 200.4,168.5 200.4,168.5" fill="#00206e" stroke="#3a4a66" stroke-width="0.6" stroke-linejoin="round"/><polygon points="260.8,164 267,164 269.7,161.3 263.5,161.3" fill="#00206e" stroke="#3a4a66" stroke-width="0.6" stroke-linejoin="round"/><polygon points="267,164 267,173.2 269.7,170.5 269.7,161.3" fill="#00206e" stroke="#3a4a66" stroke-width="0.6" stroke-linejoin="round"/><rect x="260.8" y="164" width="6.2" height="9.2" fill="#0057f5" stroke="#3a4a66" stroke-width="0.6" stroke-linejoin="round"/><polygon points="224.5,176.4 230.7,176.4 233.4,173.7 227.2,173.7" fill="#00206e" stroke="#3a4a66" stroke-width="0.6" stroke-linejoin="round"/><polygon points="230.7,176.4 230.7,176.4 233.4,173.7 233.4,173.7" fill="#00206e" stroke="#3a4a66" stroke-width="0.6" stroke-linejoin="round"/><polygon points="297.6,176 303.8,176 306.5,173.3 300.3,173.3" fill="#00206e" stroke="#3a4a66" stroke-width="0.6" stroke-linejoin="round"/><polygon points="303.8,176 303.8,178.4 306.5,175.7 306.5,173.3" fill="#00206e" stroke="#3a4a66" stroke-width="0.6" stroke-linejoin="round"/><rect x="297.6" y="176" width="6.2" height="2.4" fill="#0057f5" stroke="#3a4a66" stroke-width="0.6" stroke-linejoin="round"/><polygon points="162.3,186.5 168.5,186.5 171.2,183.8 165,183.8" fill="#00206e" stroke="#3a4a66" stroke-width="0.6" stroke-linejoin="round"/><polygon points="168.5,186.5 168.5,186.5 171.2,183.8 171.2,183.8" fill="#00206e" stroke="#3a4a66" stroke-width="0.6" stroke-linejoin="round"/><polygon points="241,189.5 247.2,189.5 249.9,186.8 243.7,186.8" fill="#00206e" stroke="#3a4a66" stroke-width="0.6" stroke-linejoin="round"/><polygon points="247.2,189.5 247.2,192.4 249.9,189.7 249.9,186.8" fill="#00206e" stroke="#3a4a66" stroke-width="0.6" stroke-linejoin="round"/><rect x="241" y="189.5" width="6.2" height="2.9" fill="#0057f5" stroke="#3a4a66" stroke-width="0.6" stroke-linejoin="round"/><polygon points="271.5,198.5 277.7,198.5 280.4,195.8 274.2,195.8" fill="#00206e" stroke="#3a4a66" stroke-width="0.6" stroke-linejoin="round"/><polygon points="277.7,198.5 277.7,200.9 280.4,198.2 280.4,195.8" fill="#00206e" stroke="#3a4a66" stroke-width="0.6" stroke-linejoin="round"/><rect x="271.5" y="198.5" width="6.2" height="2.4" fill="#0057f5" stroke="#3a4a66" stroke-width="0.6" stroke-linejoin="round"/><polygon points="309.6,199.3 315.8,199.3 318.5,196.6 312.3,196.6" fill="#00206e" stroke="#3a4a66" stroke-width="0.6" stroke-linejoin="round"/><polygon points="315.8,199.3 315.8,203.5 318.5,200.8 318.5,196.6" fill="#00206e" stroke="#3a4a66" stroke-width="0.6" stroke-linejoin="round"/><rect x="309.6" y="199.3" width="6.2" height="4.2" fill="#0057f5" stroke="#3a4a66" stroke-width="0.6" stroke-linejoin="round"/><polygon points="296.5,199.8 302.7,199.8 305.4,197.1 299.2,197.1" fill="#00206e" stroke="#3a4a66" stroke-width="0.6" stroke-linejoin="round"/><polygon points="302.7,199.8 302.7,214.7 305.4,212 305.4,197.1" fill="#00206e" stroke="#3a4a66" stroke-width="0.6" stroke-linejoin="round"/><rect x="296.5" y="199.8" width="6.2" height="14.9" fill="#0057f5" stroke="#3a4a66" stroke-width="0.6" stroke-linejoin="round"/><polygon points="264.6,221 270.8,221 273.5,218.3 267.3,218.3" fill="#00206e" stroke="#3a4a66" stroke-width="0.6" stroke-linejoin="round"/><polygon points="270.8,221 270.8,224 273.5,221.3 273.5,218.3" fill="#00206e" stroke="#3a4a66" stroke-width="0.6" stroke-linejoin="round"/><rect x="264.6" y="221" width="6.2" height="3" fill="#0057f5" stroke="#3a4a66" stroke-width="0.6" stroke-linejoin="round"/><polygon points="202,227 208.2,227 210.9,224.3 204.7,224.3" fill="#00206e" stroke="#3a4a66" stroke-width="0.6" stroke-linejoin="round"/><polygon points="208.2,227 208.2,228.2 210.9,225.5 210.9,224.3" fill="#00206e" stroke="#3a4a66" stroke-width="0.6" stroke-linejoin="round"/><rect x="202" y="227" width="6.2" height="1.2" fill="#0057f5" stroke="#3a4a66" stroke-width="0.6" stroke-linejoin="round"/><polygon points="317.9,225.1 324.1,225.1 326.8,222.4 320.6,222.4" fill="#00206e" stroke="#3a4a66" stroke-width="0.6" stroke-linejoin="round"/><polygon points="324.1,225.1 324.1,232.3 326.8,229.6 326.8,222.4" fill="#00206e" stroke="#3a4a66" stroke-width="0.6" stroke-linejoin="round"/><rect x="317.9" y="225.1" width="6.2" height="7.2" fill="#0057f5" stroke="#3a4a66" stroke-width="0.6" stroke-linejoin="round"/><polygon points="289.8,245.3 296,245.3 298.7,242.6 292.5,242.6" fill="#00206e" stroke="#3a4a66" stroke-width="0.6" stroke-linejoin="round"/><polygon points="296,245.3 296,248.3 298.7,245.6 298.7,242.6" fill="#00206e" stroke="#3a4a66" stroke-width="0.6" stroke-linejoin="round"/><rect x="289.8" y="245.3" width="6.2" height="3" fill="#0057f5" stroke="#3a4a66" stroke-width="0.6" stroke-linejoin="round"/><polygon points="262.8,246.9 269,246.9 271.7,244.2 265.5,244.2" fill="#00206e" stroke="#3a4a66" stroke-width="0.6" stroke-linejoin="round"/><polygon points="269,246.9 269,250.4 271.7,247.7 271.7,244.2" fill="#00206e" stroke="#3a4a66" stroke-width="0.6" stroke-linejoin="round"/><rect x="262.8" y="246.9" width="6.2" height="3.5" fill="#0057f5" stroke="#3a4a66" stroke-width="0.6" stroke-linejoin="round"/><polygon points="230.4,258.1 236.6,258.1 239.3,255.4 233.1,255.4" fill="#00206e" stroke="#3a4a66" stroke-width="0.6" stroke-linejoin="round"/><polygon points="236.6,258.1 236.6,258.1 239.3,255.4 239.3,255.4" fill="#00206e" stroke="#3a4a66" stroke-width="0.6" stroke-linejoin="round"/><polygon points="306.5,233.4 312.7,233.4 315.4,230.7 309.2,230.7" fill="#00206e" stroke="#3a4a66" stroke-width="0.6" stroke-linejoin="round"/><polygon points="312.7,233.4 312.7,258.2 315.4,255.5 315.4,230.7" fill="#00206e" stroke="#3a4a66" stroke-width="0.6" stroke-linejoin="round"/><rect x="306.5" y="233.4" width="6.2" height="24.8" fill="#0057f5" stroke="#3a4a66" stroke-width="0.6" stroke-linejoin="round"/><polygon points="191.9,269.4 198.1,269.4 200.8,266.7 194.6,266.7" fill="#00206e" stroke="#3a4a66" stroke-width="0.6" stroke-linejoin="round"/><polygon points="198.1,269.4 198.1,272.1 200.8,269.4 200.8,266.7" fill="#00206e" stroke="#3a4a66" stroke-width="0.6" stroke-linejoin="round"/><rect x="191.9" y="269.4" width="6.2" height="2.7" fill="#0057f5" stroke="#3a4a66" stroke-width="0.6" stroke-linejoin="round"/><polygon points="243.8,279.9 250,279.9 252.7,277.2 246.5,277.2" fill="#00206e" stroke="#3a4a66" stroke-width="0.6" stroke-linejoin="round"/><polygon points="250,279.9 250,281 252.7,278.3 252.7,277.2" fill="#00206e" stroke="#3a4a66" stroke-width="0.6" stroke-linejoin="round"/><rect x="243.8" y="279.9" width="6.2" height="1.1" fill="#0057f5" stroke="#3a4a66" stroke-width="0.6" stroke-linejoin="round"/><polygon points="277,228.3 283.2,228.3 285.9,225.6 279.7,225.6" fill="#00206e" stroke="#3a4a66" stroke-width="0.6" stroke-linejoin="round"/><polygon points="283.2,228.3 283.2,282.5 285.9,279.8 285.9,225.6" fill="#00206e" stroke="#3a4a66" stroke-width="0.6" stroke-linejoin="round"/><rect x="277" y="228.3" width="6.2" height="54.2" fill="#0057f5" stroke="#3a4a66" stroke-width="0.6" stroke-linejoin="round"/><polygon points="258.3,324 264.5,324 267.2,321.3 261,321.3" fill="#00206e" stroke="#3a4a66" stroke-width="0.6" stroke-linejoin="round"/><polygon points="264.5,324 264.5,326.4 267.2,323.7 267.2,321.3" fill="#00206e" stroke="#3a4a66" stroke-width="0.6" stroke-linejoin="round"/><rect x="258.3" y="324" width="6.2" height="2.4" fill="#0057f5" stroke="#3a4a66" stroke-width="0.6" stroke-linejoin="round"/><rect x="28" y="28" width="355" height="334" fill="none" stroke="#000" stroke-width="2"/><line x1="78.9" y1="24" x2="78.9" y2="28" class="tk"/><text transform="translate(78.9,23) scale(0.89,1)" class="tl" text-anchor="middle">75°E</text><line x1="151.2" y1="24" x2="151.2" y2="28" class="tk"/><text transform="translate(151.2,23) scale(0.89,1)" class="tl" text-anchor="middle">90°E</text><line x1="220.1" y1="24" x2="220.1" y2="28" class="tk"/><text transform="translate(220.1,23) scale(0.89,1)" class="tl" text-anchor="middle">105°E</text><line x1="289.1" y1="24" x2="289.1" y2="28" class="tk"/><text transform="translate(289.1,23) scale(0.89,1)" class="tl" text-anchor="middle">120°E</text><line x1="361.3" y1="24" x2="361.3" y2="28" class="tk"/><text transform="translate(361.3,23) scale(0.89,1)" class="tl" text-anchor="middle">135°E</text><line x1="99.9" y1="362" x2="99.9" y2="366" class="tk"/><text transform="translate(99.9,374) scale(0.89,1)" class="tl" text-anchor="middle">90°E</text><line x1="220.1" y1="362" x2="220.1" y2="366" class="tk"/><text transform="translate(220.1,374) scale(0.89,1)" class="tl" text-anchor="middle">105°E</text><line x1="340.4" y1="362" x2="340.4" y2="366" class="tk"/><text transform="translate(340.4,374) scale(0.89,1)" class="tl" text-anchor="middle">120°E</text><line x1="24" y1="285.3" x2="28" y2="285.3" class="tk"/><line x1="383" y1="292.6" x2="387" y2="292.6" class="tk"/><text transform="translate(22.6,285.3) rotate(-90) scale(0.89,1)" class="tl" text-anchor="middle">20°N</text><text transform="translate(395,292.6) rotate(-90) scale(0.89,1)" class="tl" text-anchor="middle">20°N</text><line x1="24" y1="205.2" x2="28" y2="205.2" class="tk"/><line x1="383" y1="213.4" x2="387" y2="213.4" class="tk"/><text transform="translate(22.6,205.2) rotate(-90) scale(0.89,1)" class="tl" text-anchor="middle">30°N</text><text transform="translate(395,213.4) rotate(-90) scale(0.89,1)" class="tl" text-anchor="middle">30°N</text><line x1="24" y1="122.6" x2="28" y2="122.6" class="tk"/><line x1="383" y1="132.1" x2="387" y2="132.1" class="tk"/><text transform="translate(22.6,122.6) rotate(-90) scale(0.89,1)" class="tl" text-anchor="middle">40°N</text><text transform="translate(395,132.1) rotate(-90) scale(0.89,1)" class="tl" text-anchor="middle">40°N</text><line x1="24" y1="39.7" x2="28" y2="39.7" class="tk"/><line x1="383" y1="50.8" x2="387" y2="50.8" class="tk"/><text transform="translate(22.6,39.7) rotate(-90) scale(0.89,1)" class="tl" text-anchor="middle">50°N</text><text transform="translate(395,50.8) rotate(-90) scale(0.89,1)" class="tl" text-anchor="middle">50°N</text><text transform="translate(45.2,55.8) scale(0.88,1)" class="pl">B</text><text x="36" y="273.6" class="lg">Water retention (10<tspan dy="-4" class="sup">6</tspan><tspan dy="4"> t)</tspan></text><text x="90.6" y="310" class="lv">-65</text><polygon points="74.1,290.9 80.3,290.9 83,288.2 76.8,288.2" fill="#00206e" stroke="#3a4a66" stroke-width="0.6" stroke-linejoin="round"/><polygon points="80.3,290.9 80.3,318.3 83,315.6 83,288.2" fill="#00206e" stroke="#3a4a66" stroke-width="0.6" stroke-linejoin="round"/><rect x="74.1" y="290.9" width="6.2" height="27.4" fill="#0057f5" stroke="#3a4a66" stroke-width="0.6" stroke-linejoin="round"/><path d="M45.2,347.5 V353.5 H114.5 V347.5 M79.6,351 V353.5" fill="none" stroke="#222" stroke-width="1.3"/><text y="342.5" class="sc"><tspan x="42.2">0</tspan><tspan x="70.3">500</tspan><tspan x="100.8">1,000</tspan><tspan x="133.8">km</tspan></text></g><g transform="translate(390,0)"><g fill="none" stroke="#cdcdcd" stroke-width="0.8" clip-path="url(#clip)"><polyline points="-102.9,235.8 -96.2,239 -89.5,242.2 -82.8,245.3 -76,248.4 -69.2,251.4 -62.3,254.3 -55.4,257.1 -48.5,259.9 -41.6,262.6 -34.7,265.2 -27.7,267.7 -20.7,270.2 -13.6,272.6 -6.6,275 0.5,277.2 7.6,279.4 14.7,281.6 21.9,283.6 29,285.6 36.2,287.5 43.4,289.3 50.7,291.1 57.9,292.8 65.2,294.4 72.4,295.9 79.7,297.4 87,298.8 94.4,300.1 101.7,301.3 109,302.5 116.4,303.6 123.7,304.6 131.1,305.5 138.5,306.4 145.9,307.2 153.3,307.9 160.7,308.6 168.1,309.1 175.5,309.6 183,310 190.4,310.4 197.8,310.6 205.3,310.8 212.7,310.9 220.1,311 227.6,310.9 235,310.8 242.4,310.6 249.9,310.4 257.3,310 264.7,309.6 272.1,309.1 279.5,308.6 287,307.9 294.4,307.2 301.7,306.4 309.1,305.5 316.5,304.6 323.9,303.6 331.2,302.5 338.6,301.3 345.9,300.1 353.2,298.8 360.5,297.4 367.8,295.9 375.1,294.4 382.3,292.8 389.6,291.1 396.8,289.3 404,287.5 411.2,285.6 418.4,283.6 425.5,281.6 432.6,279.4 439.8,277.2 446.8,275 453.9,272.6 460.9,270.2 467.9,267.7 474.9,265.2 481.9,262.6 488.8,259.9 495.7,257.1 502.6,254.3 509.4,251.4 516.2,248.4 523,245.3 529.8,242.2 536.5,239 543.2,235.8"/><polyline points="-68.9,166.7 -62.9,169.6 -56.9,172.5 -50.9,175.3 -44.8,178 -38.7,180.6 -32.6,183.2 -26.5,185.8 -20.3,188.2 -14.1,190.7 -7.8,193 -1.6,195.3 4.7,197.5 11,199.7 17.3,201.8 23.6,203.8 30,205.8 36.3,207.7 42.7,209.5 49.2,211.3 55.6,213 62,214.6 68.5,216.2 75,217.7 81.5,219.1 88,220.5 94.5,221.8 101,223.1 107.6,224.2 114.1,225.3 120.7,226.4 127.3,227.4 133.9,228.3 140.5,229.1 147.1,229.9 153.7,230.6 160.3,231.2 167,231.8 173.6,232.3 180.2,232.8 186.9,233.1 193.5,233.4 200.2,233.7 206.8,233.8 213.5,233.9 220.1,234 226.8,233.9 233.4,233.8 240.1,233.7 246.7,233.4 253.4,233.1 260,232.8 266.7,232.3 273.3,231.8 279.9,231.2 286.5,230.6 293.2,229.9 299.8,229.1 306.4,228.3 313,227.4 319.5,226.4 326.1,225.3 332.7,224.2 339.2,223.1 345.8,221.8 352.3,220.5 358.8,219.1 365.3,217.7 371.8,216.2 378.2,214.6 384.7,213 391.1,211.3 397.5,209.5 403.9,207.7 410.3,205.8 416.6,203.8 423,201.8 429.3,199.7 435.6,197.5 441.9,195.3 448.1,193 454.3,190.7 460.5,188.2 466.7,185.8 472.9,183.2 479,180.6 485.1,178 491.2,175.3 497.2,172.5 503.2,169.6 509.2,166.7"/><polyline points="-34.3,96.4 -29.1,99 -23.8,101.5 -18.5,103.9 -13.1,106.3 -7.7,108.7 -2.3,110.9 3.1,113.2 8.5,115.4 14,117.5 19.4,119.5 24.9,121.6 30.5,123.5 36,125.4 41.6,127.3 47.1,129 52.7,130.8 58.3,132.4 64,134.1 69.6,135.6 75.3,137.1 81,138.6 86.6,139.9 92.4,141.3 98.1,142.5 103.8,143.8 109.5,144.9 115.3,146 121.1,147 126.8,148 132.6,148.9 138.4,149.8 144.2,150.6 150,151.3 155.8,152 161.7,152.6 167.5,153.2 173.3,153.7 179.2,154.2 185,154.5 190.9,154.9 196.7,155.1 202.6,155.3 208.4,155.5 214.3,155.6 220.1,155.6 226,155.6 231.8,155.5 237.7,155.3 243.5,155.1 249.4,154.9 255.2,154.5 261.1,154.2 266.9,153.7 272.8,153.2 278.6,152.6 284.4,152 290.2,151.3 296,150.6 301.8,149.8 307.6,148.9 313.4,148 319.2,147 325,146 330.7,144.9 336.5,143.8 342.2,142.5 347.9,141.3 353.6,139.9 359.3,138.6 365,137.1 370.6,135.6 376.3,134.1 381.9,132.4 387.5,130.8 393.1,129 398.7,127.3 404.3,125.4 409.8,123.5 415.3,121.6 420.8,119.5 426.3,117.5 431.8,115.4 437.2,113.2 442.6,110.9 448,108.7 453.4,106.3 458.7,103.9 464,101.5 469.3,99 474.6,96.4"/><polyline points="-0.1,26.9 4.4,29.1 9,31.3 13.6,33.4 18.2,35.5 22.9,37.5 27.5,39.5 32.2,41.4 36.9,43.3 41.7,45.2 46.4,46.9 51.2,48.7 55.9,50.4 60.7,52 65.6,53.6 70.4,55.2 75.2,56.7 80.1,58.1 85,59.5 89.8,60.9 94.7,62.2 99.7,63.4 104.6,64.6 109.5,65.8 114.5,66.8 119.4,67.9 124.4,68.9 129.4,69.8 134.4,70.7 139.4,71.6 144.4,72.4 149.4,73.1 154.4,73.8 159.4,74.5 164.5,75.1 169.5,75.6 174.6,76.1 179.6,76.5 184.7,76.9 189.7,77.2 194.8,77.5 199.9,77.8 204.9,77.9 210,78.1 215.1,78.1 220.1,78.2 225.2,78.1 230.3,78.1 235.3,77.9 240.4,77.8 245.5,77.5 250.5,77.2 255.6,76.9 260.6,76.5 265.7,76.1 270.7,75.6 275.8,75.1 280.8,74.5 285.8,73.8 290.9,73.1 295.9,72.4 300.9,71.6 305.9,70.7 310.9,69.8 315.9,68.9 320.8,67.9 325.8,66.8 330.7,65.8 335.7,64.6 340.6,63.4 345.5,62.2 350.4,60.9 355.3,59.5 360.2,58.1 365,56.7 369.9,55.2 374.7,53.6 379.5,52 384.3,50.4 389.1,48.7 393.8,46.9 398.6,45.2 403.3,43.3 408,41.4 412.7,39.5 417.4,37.5 422,35.5 426.6,33.4 431.3,31.3 435.8,29.1 440.4,26.9"/><line x1="-32.4" y1="381.7" x2="88.1" y2="-1.1"/><line x1="92.4" y1="410.7" x2="153.3" y2="14"/><line x1="220.1" y1="420.4" x2="220.1" y2="19.1"/><line x1="347.9" y1="410.7" x2="286.9" y2="14"/><line x1="472.6" y1="381.7" x2="352.2" y2="-1.1"/></g><rect x="36.5" y="261" width="113.1" height="96.5" fill="#fff"/><rect x="337.2" y="307.9" width="43" height="48.6" fill="#fff"/><g fill="none" stroke="#8a8a8a" stroke-width="2.4" stroke-linejoin="round"><polyline points="337.5,219.2 336.2,217.6 334.2,220.7 333.1,224.8 332.1,229 331.1,234.2 329,239.3 326.9,243.5 324.8,247.6 322.8,251.8 321.7,255.9 320.7,260 318.6,263.1 315.5,267.3 311.4,271.4 308.3,274.5 305.2,277.6"/></g><g fill="none" stroke="#4d4d4d" stroke-width="0.9" stroke-linejoin="round"><polyline points="131.3,76.2 131.9,79.4 132.5,81.6 133.9,83.3 134.8,85 136.5,85.9 139.7,87.2 142.3,89.1 143.6,92.3 144.9,94.9 145.1,96.9 145.5,98.8 145.1,101.5 144.2,104 143.7,106 142.9,107.9 144.9,109.8 147.2,110.3 149.4,111.1 151.3,111.7 153.3,111.7 155.3,112.2 157.2,113 158.9,114.2 160.4,115.6 161.9,117.3 163.6,118.9 166.9,120.2 168.2,123.4 168.8,126.6 170.1,129.9 172,131.8 174.3,132.4 176.6,131.8 179.1,132.7 181.7,133.1 183.9,133.4 186,134.2 188.2,134.4 190.4,134.5 192.5,133.7 194.7,133.7 197.2,134.8 199.9,135 200.9,137 203.1,137.6 204.9,139.6 207.6,140.2 210,141.8 212.8,141.5 214.8,141.7 216.7,141.5 219.3,142.8 221.2,142.3 223,141.7 224.4,140.2 226.6,139.6 228.2,138.3 230,137"/><polyline points="172,131.8 169.5,133.7 168.8,137 167.1,138.4 164.9,138.9 162.8,139.7 161,140.9 158.8,141.7 157.2,143.4 156,144.8 154.6,146 152.7,146.4 150.7,146.7 149.4,149.3 148.8,151.2 148.1,153.1 147.3,154.8 146.4,156.4 146.2,158.3 145.5,160"/><polyline points="175.9,132.4 175.9,135.2 177.2,137.6 177,139.8 178.5,141.5 179.1,143.4 179.2,145.4 181,147 181.7,149.3 184.3,148.6 187.6,148 190.8,148 192.1,150.6 190.8,153.1 189.5,155.7 190.7,157.1 192.1,158.3 193.4,160"/><polyline points="230,137.6 232.1,136.8 234.3,136.6 236.5,136.3 238.6,135.6 240.8,135.5 242.9,135 245.5,134.5 248.1,133.7 249.7,131.7 252,130.5 253.4,128.2 255.9,127.3 257.8,124.7 256.9,122.7 255.9,120.8 255.6,118.8 255.9,116.9 258.5,115 260.4,114.5 262.3,115 264.2,114.8 265.8,113.8 267.5,113 269.5,112.7 271.1,111.5 272.7,110.5 274.7,110.1 276.6,109.2 278,107.6 279.8,106.6 281.1,104 282.7,102.7 284.3,101.4 286.5,100.9 288.2,99.5 290.2,99.4 292.1,98.8 294.1,99 296,98.2 298.6,96.9 297.3,93.6 295.6,91.9 293.4,91 291.3,90.4 289.5,89.1 287.6,88.9 285.6,89.1 283.6,89.9 281.7,91 279.8,91.5 277.9,91.7 275.3,90.4 274.6,87.2 274.5,85 275.9,83.3 276.7,81.4 277.2,79.4 278.5,76.2"/><polyline points="323.8,60 323.8,62 323.1,63.9 323.5,66 322.5,67.8 322.6,69.8 321.8,71.6 321.9,74.4 320.6,76.8 320.8,79 319.3,80.7 318.4,82.4 316.7,83.3 315.2,84.4 314.1,85.9 312.4,87.1 311.5,89.1 312.8,91.7 315.4,92.3 316.7,94.3 316,97.5 314,98.3 312.8,100.1 309.6,101.4 310.9,104 312.8,106.6 313.6,108.5 314.1,110.5 315.4,113 317.3,114.3"/><polyline points="316.7,126 314.7,126.8 312.8,127.9 310.6,128.9 308.9,130.5 306.3,132.4 304.4,134.4"/><polyline points="316,97.5 318.2,98.5 320.6,98.8 322,100.2 323.9,100.8 325.7,101.4 327.9,101.2 330,101.4"/><polyline points="250.7,159.6 252.3,158.5 253.9,157.3 255.9,157 257.6,156.1 259,154.7 261,154.4 263.5,153.5 266.2,153.1 268,151.6 270.1,150.6 272.7,149.3 271.3,147.6 271.4,145.4 271.7,143.3 272.7,141.5 273.3,139.1 275.3,137.6 277.2,136.9 279.2,137 281.7,135 283.4,133.6 285.6,133.7 287.1,131.9 289.5,131.8 292.1,133.1 294.7,135 296,137.6 298.6,138.9 299.5,137.2 301.2,136.3 302.4,133.7 304.4,134.4"/><polyline points="307.6,145.4 308.6,143.8 310.2,142.8 312.4,142.3 314.1,140.9 316.1,140.9 318,141.5 319.3,144.1 318,146.7 316.6,147.9 315.4,149.3 315.2,151.4 314.1,153.1 315.4,155.7"/><polyline points="315.4,157 316.7,155.7 317.9,154.3 319.3,153.1 320.9,151.4 323.1,150.6 325.2,149.5 327,148 330,146.7"/><polyline points="330.8,60 331.4,62.6 332.6,64.3 334,65.8 336,66.1 337.9,66.5 339.8,66.9 341.7,67.1 343.8,67.4 345.6,68.4 347.4,69.6 349.5,70.3 350.4,72 352.1,72.9 353.4,75.5 356,77.5 358.6,76.8 360.8,75.9 362.4,74.2 364.2,72.7 366.3,71.6 367.5,70.3 368.9,69.1 371.5,67.8 372.8,69.7 373.1,72 372.8,74.2 372.9,76.9 372.1,79.4 371.4,82 371.5,84.6 370.3,87.1 370.9,89.8 369.4,91.9 367.6,93.6 365.4,94.6 363.7,96.2 362.2,97.3 361.2,98.8 361.8,101.4 363.7,104 364.4,106.6 363.7,109.2 363.1,111.7 363.7,114.3 362.4,116.9 360.5,115.6 358.6,115 357.3,116.9 356.3,118.9 355.3,120.8 353.9,122.3 352.1,123.4 349.5,124.7 347.6,126 344.3,127.3 343,129.2 342.4,130.5 341.1,132.4 339.2,135 337.9,137.6 336.5,138.8 335.3,140.2 334,141.5 332.5,142.6 331.2,143.9 330.1,145.4 328.8,147.6 326.9,149.3 325.1,150.1 323.6,151.2 321.3,151.9 319.8,153.8 317.3,154.3 315.9,156.4"/><polyline points="315.9,156.4 316.8,154.1 317.8,151.8 318.5,149.9 319.1,148 319,145.3 317.8,142.8 315.2,140.9 312.6,141.5 310.7,144.1 308.1,146 305.5,147.3"/><polyline points="305.5,147.3 302.9,145.4 301.6,144.1 300.3,142.8 300.9,140.2 301,137.6 302.2,136.2 302.9,134.4"/><polyline points="317.2,126 315.4,127 313.3,127.3 311.3,128.2 309.4,129.2 306.8,131.2 304.2,132.4 302.9,134.4"/><polyline points="321.7,60 322.5,62.5 322.3,65.2 322,67.7 321.7,70.3 321.1,72.2 321,74.2 320,76 320.4,78.1 318.5,80.7 317.2,82.3 315.9,83.9 314.9,85.8 313.3,87.2 312.2,88.7 311.3,90.4 313.3,92.3 315.9,93 317.8,94.3 317.2,96.2 315.1,97.3 313.3,98.8 312.1,100.2 310.7,101.4 310.1,103.3 312,105.3 313.3,107.9 313.9,111.1 315.9,113 317.8,113.7"/><polyline points="315.9,96.9 317.6,98.4 319.8,98.8 321.9,99.8 323.6,101.4 325.5,102.2 327.5,102.7 329.3,101.7 331.4,101.4 333.2,102.5 335.3,102.7 337.4,102.9 339.2,104 341.7,105.3 342.8,106.8 344.3,107.9 346.9,108.5 349.5,109.8 352.1,109.2 354.7,107.9 357.3,106.6 359.9,107.2 362.4,107.9 363.7,109.2"/><polyline points="326.9,119.5 328.8,120.8 330.9,121.9 332.7,123.4 334.1,125.3 335.3,127.3 336.3,128.9 337.2,130.6 337.9,132.4 339.2,135"/><polyline points="57.2,178.1 55.2,180.7 54.9,182.6 54.6,184.6 56.5,187.2 56.1,189.1 56.5,191 55.2,193 52.6,191.7 50.7,192.3 49.9,194.2 50.7,196.2 50.9,198.8 51.3,201.4 52.6,204.6 54,206 55.9,206.6 56.4,208.4 57.8,209.8 59.1,211.7 61,213 63.6,215 65.6,213 68.2,213 69.7,214.1 70.8,215.6 72.7,218.2 74.7,219.7 75.3,222.1 77,223 77.9,224.7 81.1,225.3 82,227 83,228.6 84.5,229.7 85.6,231.2 86.9,233.7 89.5,235 90.9,236.2 92.1,237.6 94.7,237.6 97.3,238.9 99.9,240.2 101.9,240.2 103.7,240.9 105.7,240.9 107.6,240.2 109.6,241.5 109.1,243.6 110.2,245.4 110.9,246.7 112,244.8 112.8,242.8 115.4,240.9 118,240.2 120.6,240.9 123.1,242.1 125.7,243.4 128.3,244.1 130,246"/><polyline points="57.2,178.1 59.8,178.8 61.6,178 63.6,178.1 64.9,176.2 66.2,174.2 68.8,172.9 70.8,173.3 72.7,174.2 74.8,174.4 76.6,175.5 79.2,174.2 81.7,173.6 84.3,175.5 86.9,177.5 88.9,177.6 90.8,178.1 93.4,177.5 95.3,177 97.3,176.8 99.3,177.1 101.2,177.5 104.4,176.2 106.3,174.9 108.9,174.6 111.5,174.5 113.7,174.3 115.9,174.3 118,174.9 119.9,175.6 121.8,176.2 123.6,177.3 125.1,178.8 127.5,179.2 130,179.4"/><polyline points="125.1,178.8 124.4,182 123.9,183.9 123.8,185.9 122.9,187.8 123.1,189.8 122.8,191.7 123.1,193.6 123.6,195.6 124.4,197.5 125.8,198.7 127,200.1 128.1,201.9 130,202.7"/><polyline points="146.8,157.5 148.6,158.7 150.7,158.8 152.4,160.2 154.6,160.7 155.5,162.4 157.2,163.3 158.7,165 161,165.2 162.9,165.9 164.9,166.5 166.8,167.1 168.8,167.2 171.4,165.2 172.7,163.5 172.7,161.3 175.3,160.1 176.9,161.8 179.2,162 181,162.8 183,162.6 185.6,163.3 187.1,164.4 188.2,165.9 190.8,167.8 193.4,169.1 196,171 198,171.4 199.9,172.3 200.7,174 202.4,174.9 204.4,177.5 205.6,179.3 206.3,181.4 207.3,183.2 207.6,185.3 206.5,187.1 206.3,189.2 204.9,191 203.7,193 201.8,195.6 199.9,198.2 197.3,199.5 194.7,200.2 194,202.1 196,204.7 198.6,206 200.5,207.3"/><polyline points="130,203.4 132.1,203.6 133.9,204.7 135.8,205.4 137.8,206 139.4,206.8 141.2,207.3 142.9,207.9 144.8,208.2 146.3,209.5 148.1,209.9 150,210.7 152,210.5 153.8,211.7 155.9,212.4 157.1,213.8 158.5,215 160,216.1 161,217.6 163.6,218.3 166.2,217 168.8,215 169.5,213.1 171.4,212.4 171.1,210.4 172,208.6 172.2,206 172.7,203.4 173.1,201.5 174.6,200.2 176.6,200.2 178.5,202.1 179,204.1 179.8,206 181.7,208.6 184.3,209.9 186.9,211.2 189.5,211.8 192.1,212.4 194.7,211.8 197.3,209.9 198.7,208.3 200.5,207.3"/><polyline points="172.7,211.2 173.1,213.4 174.6,215 176.4,216.8 177.9,218.9 179.3,221.3 179.2,224.1 179,226.3 179.9,228.4 179.8,230.6 180.6,232.4 180.2,234.4 180.5,236.2 179.9,238.2 180.5,240"/><polyline points="200.5,207.3 202.4,204.7 204.1,203.8 205,202.1 207.6,200.8"/><polyline points="194.7,160.7 195.8,162.2 197.3,163.3 199.9,164.6 202.4,163.3 205,162 207.6,160.7 210.2,160.1 212.8,160.1 214.7,160.7 215.4,163.3 214.1,165.9 212.1,168.5 211.5,171 212.4,172.7 214.1,173.6 216.7,174.9 219.3,174.9 220.6,176.2"/><polyline points="110,244.6 111.2,243.2 112.6,242 114.8,241.5 116.5,240.1 118.2,241.4 120.3,241.3 122.3,241.9 124.2,242.6 126.8,243.9 129.4,245.9 129.9,248.1 131.3,249.8 133.3,252.3 135.2,253.1 137.2,253 139.1,252.5 141,253 143.6,251.7 145.2,250.7 146.2,249.1 148.1,248 150.1,247.2 151.9,245.9 154,245.2 155.9,244.3 157.9,243.9 159.8,244.6 161.7,245.2 164.3,247.2 166.9,249.1 167.5,247.2 168.9,245.9 170.2,243.9 172.1,245.2 173.4,246.5 174.7,247.8 176,251 176.2,253.1 177.3,254.9 176.7,256.8 176.6,258.8 175.8,260.7 176,262.7 174.4,264 173.4,265.9 171.6,266.7 170.8,268.5 170,270.2 168.9,271.7 167.6,274.3 167.5,276.3 166.9,278.2 169.5,279.5 171.4,279 173.4,278.9 176,279.5 177.3,282.1 178.5,283.9 178.6,286 180.5,288.6 179.8,290.4 179.9,292.4 181.2,295 182.2,296.6 183.7,297.6 185.8,297.9 187.6,298.9 190.9,298.3 192.8,300.9 194.7,301.5 196,300.2 196.3,298.2 196.7,296.3 197.9,294.9 199.3,293.7 201.8,292.4 204.4,290.5 206.3,289.7 208.3,289.9 210,290.5"/><polyline points="178.6,220 178.6,222 179.2,223.9 179.8,225.8 179.9,227.8 180.7,230.3 180.5,232.9 180.3,234.9 179.9,236.8 180.6,238.8 179.9,240.7 178.6,242.6 177.3,244.6 175.3,246.5"/><polyline points="179.9,242 182.4,242.6 185,243.9 186.1,245.7 187.6,247.2 188.6,248.8 190.2,249.8 190.8,252.2 192.8,253.6 194.2,255.5 195.4,257.5 197.2,259.1 198,261.4 200.6,263.3 203.1,262.7 204.5,261.5 205.7,260.1 205.9,258.1 206.4,256.2 207.1,254.1 208.3,252.3 210,251"/><polyline points="221,232.9 221.9,234.8 221.7,236.8 223.3,238.4 223.6,240.7 225,241.9 226.2,243.3 228.8,244.6 230.6,243.4 232.7,243.3 233.8,241.4 235.9,240.7 238.5,240.1 241.1,242 243,243.9 245,245.9 247.6,247.8 249.5,249.8 248.9,253 250.2,255.6 250.8,258.8 250.2,261.4 251.4,264 253.6,263 256,262.7 258.6,262.4 261.2,262.7"/><polyline points="210.1,251 210.5,249.1 210.7,247.2 212.6,245.2 214.6,244.6 215.9,245.9 216.5,247.8 218.5,249.8 221,250.4 223.6,249.8 224.9,250.4"/><polyline points="210.7,254.9 211.3,256.9 212,258.8 213.5,259.9 214.6,261.4 215.9,264 217.3,265.7 217.2,267.9 217,269.8 216.5,271.7 217.3,273.6 217.2,275.6 218.9,276.5 219.8,278.2 221.8,278.5 223.6,279.5 225.5,280.2 227.5,280.8 226.2,283.4"/><polyline points="219.8,275.6 221.5,274.3 223.6,274.3 225.3,272.8 227.5,273 229.2,271.6 231.4,271.1 233.4,270.5 235.3,269.8 237,268.4 239.2,267.9 240.9,266.5 243,266.6 244.7,265.3 246.9,265.3 248.9,264.3 250.8,263.3"/><polyline points="261.2,262.7 262.4,265.3 263.9,267 264.4,269.2 266.3,271.7 268.1,272.5 268.9,274.3 270.2,276.9 269.6,279.5 267.6,282.1 266.3,284.7 265.4,286.4 263.7,287.3 262.2,288.4 261.2,289.9 259.8,291.1 258.6,292.4 257,293.4 256,295 254.7,297.6"/><polyline points="265,270.5 267,269.9 268.9,269.2 270.9,268.8 272.8,267.9 274.8,268.1 276.7,267.2 279.3,266.6"/><polyline points="210.1,290.6 212,289.9 214,289.3 215.9,288.6 217.9,288.1 219.8,287.3 223,286 224.9,284.7 227.5,283.4 228.8,285.3 229.6,287.9 231.4,289.9 231.6,292.2 233.3,293.7 234.3,296.2 236.6,297.6 239.1,298.5 241.7,298.9 243.9,298.9 245.6,297.6 248.2,298.2 250.8,298.3 252.8,298.4 254.7,298.9"/><polyline points="221.3,185 223.1,187.7 224.9,189.1 226.7,190.4 229.4,192.2 232.1,194 234,194.2 235.8,193.6 237.6,192.2"/><polyline points="229.4,193.1 229.4,195 229,196.8 228.6,198.7 229.4,200.4 228.5,203.1 226.7,205.8 225.4,208.5 224.5,211.2 223.6,212.1"/><polyline points="205,200.4 206.7,201.1 208.6,201.3 210.3,202.3 211.3,204 214,204.9 215.4,206.7 215.7,208.5 215.9,210.3 217.7,212.1 220.4,213.1 223.6,212.1"/><polyline points="223.6,212.1 226.7,211.7 228.5,212.1 230.3,212.1 232.2,213 234,214 236.7,215.3 239.4,216.2 242.1,216.7 244.8,217.6 247.5,218.9 249.3,220.3"/><polyline points="242.1,217.1 241.2,219.4 240.3,222.1 238.5,224.8 236.7,227.1 234.9,229.3 233.1,232.1 231.2,232.5 229.4,231.6 227.6,230.7 224.9,230.2 223.1,232.1 222.2,234.8 221.7,237.5 223.1,239.3 224.9,241.1 226.7,242.9 227.6,244.7"/><polyline points="249.3,220.3 251.2,222.1 253,223.9 252.1,226.6 249.3,228.4 247.5,228.9 245.7,229.3 243,229.8 242.6,232.1 243,234.8 244.8,236.6 246.6,238.4 247.5,241.1 247.5,243 248.4,244.7 249.3,246.4 249.3,248.3 250,250.5 249.2,252.8 249.8,255"/><polyline points="248.4,208.5 250.2,208.3 252.1,208.5 254.8,207.6 257.5,207.2"/><polyline points="249.3,208.5 250.2,211.2 251.2,214 249.8,215.8 249.3,218.5 249.3,220.3"/><polyline points="253.9,194 254.8,196.8 257.5,195 259,193.5 261.1,193.1 263,192.2 265,191.3"/><polyline points="254.8,196.8 255.4,198.6 255.7,200.4 257.5,203.1 258.4,204.9 259.3,206.7 261.1,209.4 262.9,211.2 265,213.1"/><polyline points="247.5,235.7 249.2,234.7 251.2,234.3 252.9,233.5 254.8,233 256.4,231.9 258.4,232.1 260.2,231.6 262,232.1 265,232.5"/><polyline points="281.6,190.4 282.8,192.3 284.7,193.5 287.8,194.3 290.9,192.8 293.2,192 295.5,193.5 297.5,193.3 299.4,192.8 302.5,193.5 304.2,192.5 305.6,191.2 308,188.9 309.5,186.6 310.3,185"/><polyline points="308.7,189.7 311.1,191.2 314.2,192.8 316.5,195.1 317.8,196.5 318.8,198.2 320.4,201.3 321.9,204.4 323.6,205.8 325,207.5 327.4,209.1 328.9,211.4 329.4,213.3 329.7,215.3 330.5,217.6 333.6,218.4 335.9,217.6 337.5,219.2"/><polyline points="295.5,195.1 296.6,196.7 297.9,198.2 301,199.8 303.3,202.1 304.8,205.2 307.2,206.7 308,208.3 307.6,210.6 308.7,213.7 310.3,216.1 312.6,217.6 315.7,217.6 318,218.4 320.4,219.2 322.7,219.2 325,216.8 325.4,214.7 326.6,213 326.6,210.6 327.4,209.1"/><polyline points="322.7,219.2 325,221.5 328.1,223 330.5,221.5 333.6,220.7"/><polyline points="315.7,217.6 315,219.6 314.2,221.5 313.7,223.6 312.6,225.4 311.1,228.5 309.5,231.6 308,233.1 306.4,232.4"/><polyline points="306.4,232.4 303.3,230.8 300.2,230.8 297.1,231.6 294,231.6 291.6,230.8 289.8,231.9 287.8,232.4 286.3,233.7 284.7,234.7 282.3,236.2 280,237.8"/><polyline points="307.2,233.1 308,236.2 309.5,239.3 311.1,242.5 312.6,245"/><polyline points="291.6,195.1 290.1,196.6 287.8,198.2 286.2,200.5 284.7,203.6 283.1,206.7 284.7,209.8 287.8,211.4 290.1,213.7 290.1,216.1 287.8,217.6 285.4,218.4 282.3,217.6 280,216.8"/><polyline points="287.8,218.4 288.5,220.3 290.1,221.5 291.1,223.4 291.6,225.4 292,227.3 292.4,229.3 293.2,231.6"/><polyline points="260,301.2 261.4,299.6 263.5,298.9 265.4,298.4 267,297.2 269.2,296 271.6,295.4 274,295 276.3,294.2 278.4,293.5 279.8,291.9 281.9,291.3 283.3,289.6 285.6,288.4 287.9,287.3 290.2,286.5 292.6,286.1 294.4,285.7 296.1,284.9 298.1,285.1 299.6,283.8 301.7,283.1 303.1,281.4 304.5,279.8 305.4,277.9"/><polyline points="305.4,277.9 305.4,275.4 304.2,273.3 301.9,271 300.3,270 298.4,269.8 296.1,268.6 294.9,267.5 295.6,265.8 296.1,264 296.8,262.3 297.3,260.5 298.2,258.9 298.4,257 299.8,255.5 299.6,253.5 300.4,251.8 300.7,250"/><polyline points="286.8,272.7 288.3,271.5 290.3,271.5 293.8,271 296.1,269.8"/><polyline points="260,261.6 262.3,261.1 263.4,262.6 264.7,264 264.1,266.3 263.5,268.2 262.3,269.8 263.5,272.1 265.2,272.7 267,273.3 267.6,275.4 269.3,276.8 269,278.7 268.1,280.3 267.1,282.2 265.8,283.8 264.9,285.7 263.5,287.3 262.7,289.2 261.2,290.7 260,291.9"/><polyline points="254.2,298.3 255.2,301.4 255.7,304.5 257.3,307.6 259.3,309.2 261.4,309.2 260.9,306.6 259.9,304.5 259.3,301.4 260.4,299.3 263.5,297.8 264,299"/><polyline points="288.3,340.7 289.7,339 291.4,337.6 294.5,336.1 296.6,337.1 295.1,339.7 292.5,341.8 289.4,342.3 288.3,340.7"/><polyline points="269.7,335.5 271.8,334.5 272.8,336.6 271.2,338.1 269.7,337.6"/><polyline points="275.4,331.4 276.4,333.5 278,335.5 277.5,338.1 275.9,338.7"/><polyline points="278.5,333.5 280,333"/><polyline points="247.5,315 249.4,313.4 251.3,311.9 253.2,311.4 255,310.6 257.5,310.2 260,310 263.1,310.6 264.4,312.5 262.5,315 261.4,316.7 261.3,318.8 260,320.6 258.1,322.5 255,323.1 253.1,323.2 251.3,322.5 248.8,321.3 246.9,318.8 247.7,317 247.5,315"/><polyline points="278.5,76.2 281.5,76 284.1,75.9 286.8,76 288.4,74.8 290.3,74.3 291.4,72.7 292,70.8 292.4,68.5 292.7,66.1 292.9,63.8 293.4,61.6 293.6,59.4 294.3,57.2 294.6,55 293.8,51.5 295.2,50 295.5,48 298.1,46.3 300.8,44.5 302.5,43.7 304.3,43.6 307.8,42.8 310.4,43.1 313,43.6 315.7,43.7 318.3,44.5 320,45.8 321.8,47.1 322.9,49 324.4,50.6 326.2,52.5 327,55 328.8,56.3 329.6,58.4 330.5,60.3"/><polyline points="298.1,51.5 300.8,53.3 302.4,52.3 304.3,52.4 306.3,53.4 307.8,55 309.5,57.6 313,56.8 315.6,55.8 318.3,55.9 320.9,57.6 322,59.7 322.6,62"/><polyline points="340.5,308 342,309.8 344.1,311.2 346.3,311.6 348.5,310.9 350.7,309.8 352.8,309.1 355,308.7 357.9,308.3 360.1,308"/><polyline points="348.5,310.9 349.2,312.7 349.6,314.1"/><polyline points="352.8,309.4 351,311.2 349.9,313.1 349.6,314.1"/><polyline points="346.7,316 348.5,314.9 350.3,314.9 351.2,316.3 350.1,318.1 347.8,318.6 346.2,317.6 346.7,316"/><polyline points="352.5,322.1 353.2,323.6 353.9,324.7 355,324.3"/><polyline points="358.6,324.7 360.1,323.9 361.5,323.6"/><polyline points="355,340.2 356.5,338.1 357.2,339.5 355.7,341.7 355,342.4"/><polyline points="360.8,334.4 361.5,336.6 363,337.3 364.4,335.9 365.9,335.2"/><polyline points="358.6,341.7 360.1,340.2 361.5,341 363,341.7"/><polyline points="349.2,343.5 351,342.8 352.8,342"/><polyline points="215,175.6 217.3,175.2 219.7,174.4 222,173.6 224.3,173.2"/><polyline points="224.3,173.2 224.7,170.5 225.3,168.6 225.1,166.6 225.9,163.5 227.4,161.2 229.4,160.4 230.9,161.2 231.3,163.5 230.5,165.9 230.1,168.2 230.9,169.8 232.9,170.1 235.2,171.3 237.1,172.5 239.1,173.2 241,173.2 242.6,171.7 243.3,169.8 244.5,167.4 246.1,165.1 247.6,162.8 249.2,161.2 250.7,159.7 253,158.9 255.4,158.1 257.3,157.3 258.9,156.2 260,155"/><polyline points="216.6,175.2 218.9,177.5 220.4,178.8 221.2,180.6 222.4,182.4 222.8,184.5 223.5,187.6 225.9,189.9 228.2,191.9 229.4,193"/><polyline points="232.1,175.2 229.8,177.5 229,180.6 229.4,183.7 230.5,186.1 231.3,188.4 230.5,190.7 229.4,193"/><polyline points="233.6,175.2 234.4,178.3 236.3,179.5 238.3,180.6 240.1,181.7 241.8,183 242.6,185.3"/><polyline points="241.8,192.3 239.8,192.3 237.5,193 235.2,194.2 232.9,194.6 230.5,193.8 229.4,193"/><polyline points="258.5,156.6 257.3,158.2 256.1,159.7 254.6,162.8 253.7,164.6 253.8,166.6 253,169 253.4,172.1 254.6,175.2 253.8,178.3 253.7,180.3 253,182.2 253.5,184.1 253.4,186.1 254,188.1 253,189.9 253,191.9 252.7,193.8 253,196.9 254.6,199.3 256.1,201.6 257.7,204.7 259.3,207.8 260.8,210.1 263.1,212.5 265.5,213.2 267.5,212.9 269.3,213.6 271.3,213.3 273.2,214 275,214.4"/><polyline points="272.5,161.2 270.9,164.3 271.7,167.4 272.8,170.5 272.7,172.9 273.2,175.2 272.1,177 272.5,179.1 271.7,181.4 273.2,184.5 272.8,187.6 271.7,189.2 269.3,190.7 267,191.5 264.7,192.3 262.4,193 260,194.2 257.7,195.4 254.6,196.9"/><polyline points="280,182.6 282.3,181.8 283.5,179.5 284.7,176.4 286.2,173.3 287.8,171 290.1,168.6 292.4,167.5 294.8,166.3 295.9,164.8 297.9,164.4 300.2,164.4 302.5,164.8 304.1,165.9 304.8,167.5 304.5,169 305.6,170.2 307.2,171 308.7,170.6 310.3,169 311.8,167.1 313.4,165.5 314.2,164"/><polyline points="314.2,164 315.7,165.1 318,165.9 320.4,166.3 322.3,165.9 324.3,166.3 326.6,167.1 326.6,169 325.8,170.2 324.3,171 321.9,171.7 319.6,172.9 317.3,174.8 315.7,176.4 314.2,178.7 312.6,181.1 311.1,183.4 309.9,185.7 308.7,188 308,189.6"/><polyline points="283.1,179.5 282.7,181.1 283.9,183.4 284.7,184.9 287,183.4 287.8,183 286.6,184.7 284.7,185.7 283.1,188 281.6,190.4 282.3,191.5 284.7,193.5 286.2,194.6 288.5,195 290.9,194.6 291.6,193.5 292.4,192.3 294,191.9 296.3,192.7 298.6,193.5 301,192.7 303.3,191.9 305.6,190.4 308,189.6"/><polyline points="289.3,157.8 289.7,160.1 290.9,161.6 293.2,162 295.5,162.4 295.5,164 295.9,164.8"/><polyline points="314.2,164 314.5,161.6 314.2,160.1"/><polyline points="55.7,178.8 54.9,176.5 54.9,174.1 53.8,171.9 54.2,169.5 52.2,168 50.3,166.4 48.8,164.8 47.3,163.1 45.6,161.7 44.8,159.4 44.1,157 42.8,155.5 41.7,153.9 40.1,151.7 37.9,150.1 39.9,149.4 41,147.7 42.5,144.6 42.1,142.3 41.7,140 39.9,139.1 38.6,137.6 37.2,136 37.1,133.8 37.8,131.8 38.6,129.9 39.7,127.9 41.7,126.8 44.9,126 48,125.7 51.1,126.8 52.6,128.3 54.5,127.5 56.5,126.8 58.4,126.1 59.6,124.4 61.4,125.5 63.5,125.2 65.5,124.8 67.4,124.1 69.8,124 72,122.9 74,122.3 76.2,122.6 78.2,122.1 81.3,120.6 81.8,118.5 82.9,116.7 84.5,115.2 86,113.6 85.2,111.3 85.7,108.9 85.4,106.6 85.7,104.3 85.7,102.2 84.7,100.4 86.9,99.8 89.1,99.6 91.1,98.7 93.2,98.7 95.3,98.8 98.4,100.4 100,97.3 101.5,94.2 101.9,91.8 103.8,90.3 105.4,87.2 108.5,88.7 111.6,90.3 113.6,89.5 115.5,90.6 117.8,88.7 118.6,85.6 120.1,82.5 121.7,80.2 123.6,79.6 125.6,79.4 127.1,77.1 129.5,76.3"/><polyline points="126.4,178.8 129.5,177.2 131.6,175.9 134.1,175.7 134.7,173.7 136.4,172.6 135.7,169.5 134.1,166.4 133.6,164.5 133.3,162.5 134.1,160.1 136.4,159.3 138.8,159.4 141.2,159 143.4,157.8 145.5,157.7 147,156.3"/><polyline points="335.5,261 338.4,262 338.8,264.9 338.6,267.2 338.1,269.4 337.8,272 337.5,274.6 337.5,277.8 336.6,279.7 335.9,281.7 334.6,285 333.9,287.2 332,285 330.7,283.2 329.1,281.7 328.7,279.9 327.4,278.5 328.3,276.6 327.4,274.6 328.6,273.1 329.2,271.4 329.1,269.4 330.2,267.8 330.7,266 331.3,264.2 333.6,262 335.5,261"/><polyline points="270,212.9 272.1,213.5 274.1,212.9 277.2,214.5 278.7,215.8 280.4,216.6 283.5,218.1 286.6,218.6 289.2,219.2"/><polyline points="315.5,245.5 317.6,244.5 319.7,245.5 321.8,246.6 323.8,247.1"/><polyline points="304.2,244.5 302.8,245.8 302.1,247.6 301.4,249.7 301.1,251.8 300,254.9 299,258 298,261.1 296.9,264.2 295.6,266.1 295.9,268.3 296.9,271.4"/><polyline points="270,232.1 273.1,233.1 276.2,234.2 277.9,235.6 279.3,237.3 280.4,240.4 279.8,243.5 279.3,246.6 278.3,248.7"/><polyline points="270,231.1 272.1,230.7 274.1,231.1 276.1,232 278.3,232.4 280.4,233.1 283,233 285.5,232.1 288.2,232.2 290.7,231.1 293.8,230.5"/><polyline points="286.6,270.4 288.7,270.7 290.7,271.4 293.8,270.4 295.9,268.8 298,269.4 299.3,270.7 301.1,271.4 302.1,272.9 303.1,274.5 304.7,275.7 305.2,277.6 306.2,280"/><polyline points="337.5,219.2 336.2,217.6 334.2,220.7 333.1,224.8 332.1,229 331.1,234.2 329,239.3 326.9,243.5 324.8,247.6 322.8,251.8 321.7,255.9 320.7,260 318.6,263.1 315.5,267.3 311.4,271.4 308.3,274.5 305.2,277.6"/></g><rect x="337.2" y="307.9" width="43" height="48.6" fill="none" stroke="#222" stroke-width="1.2"/><g stroke="#1a1a1a" stroke-width="1.6" stroke-linecap="round"><line x1="337.8" y1="298.0" x2="342.5" y2="289.3"/><line x1="328.5" y1="320.2" x2="331.4" y2="310.9"/><line x1="327.9" y1="333.0" x2="328.2" y2="341.7"/><line x1="345.6" y1="266.3" x2="346.2" y2="275.6"/><line x1="252.6" y1="339.2" x2="258.8" y2="347.5"/><line x1="374.5" y1="309.1" x2="373.3" y2="311.4"/><line x1="371.6" y1="314.9" x2="371.0" y2="319.6"/><line x1="370.4" y1="321.9" x2="370.8" y2="325.4"/><line x1="372.2" y1="330.1" x2="370.4" y2="333.6"/><line x1="366.9" y1="340.5" x2="364.0" y2="342.9"/><line x1="356.5" y1="350.4" x2="358.8" y2="349.9"/><line x1="346.0" y1="343.5" x2="346.6" y2="346.4"/><line x1="350.6" y1="332.4" x2="351.2" y2="335.3"/><line x1="347.7" y1="323.7" x2="350.1" y2="326.6"/></g><g fill="#555"><circle cx="279.4" cy="312.5" r="0.75"/><circle cx="286.3" cy="314.4" r="0.75"/><circle cx="269.4" cy="331.3" r="0.75"/><circle cx="310" cy="333.5" r="0.75"/><circle cx="318.8" cy="340.6" r="0.75"/><circle cx="301.9" cy="351.9" r="0.75"/><circle cx="348.1" cy="255.4" r="0.75"/><circle cx="323.3" cy="278" r="0.75"/><circle cx="309.9" cy="333.6" r="0.75"/><circle cx="301.6" cy="351.7" r="0.75"/><circle cx="339.6" cy="285.7" r="0.75"/><circle cx="338.8" cy="280.7" r="0.75"/></g><polygon points="335.8,77 341.5,77 344,74.5 338.3,74.5" fill="#6e4a00" stroke="#ffa800" stroke-width="1.0" stroke-linejoin="round"/><polygon points="341.5,77 341.5,81 344,78.5 344,74.5" fill="#6e4a00" stroke="#ffa800" stroke-width="1.0" stroke-linejoin="round"/><rect x="335.8" y="77" width="5.7" height="4" fill="#ffa800" stroke="#ffa800" stroke-width="1.0" stroke-linejoin="round"/><polygon points="334.5,113 340.2,113 342.7,110.5 337,110.5" fill="#6e4a00" stroke="#ffa800" stroke-width="1.0" stroke-linejoin="round"/><polygon points="340.2,113 340.2,113.8 342.7,111.3 342.7,110.5" fill="#6e4a00" stroke="#ffa800" stroke-width="1.0" stroke-linejoin="round"/><rect x="334.5" y="113" width="5.7" height="0.8" fill="#ffa800" stroke="#ffa800" stroke-width="1.0" stroke-linejoin="round"/><polygon points="262.8,76 268.4,76 270.9,73.5 265.2,73.5" fill="#6e4a00" stroke="#ffa800" stroke-width="1.0" stroke-linejoin="round"/><polygon points="268.4,76 268.4,121 270.9,118.5 270.9,73.5" fill="#6e4a00" stroke="#ffa800" stroke-width="1.0" stroke-linejoin="round"/><rect x="262.8" y="76" width="5.7" height="45" fill="#ffa800" stroke="#ffa800" stroke-width="1.0" stroke-linejoin="round"/><polygon points="102.7,130 108.4,130 110.9,127.5 105.2,127.5" fill="#6e4a00" stroke="#ffa800" stroke-width="1.0" stroke-linejoin="round"/><polygon points="108.4,130 108.4,135 110.9,132.5 110.9,127.5" fill="#6e4a00" stroke="#ffa800" stroke-width="1.0" stroke-linejoin="round"/><rect x="102.7" y="130" width="5.7" height="5" fill="#ffa800" stroke="#ffa800" stroke-width="1.0" stroke-linejoin="round"/><polygon points="317.8,100.7 323.4,100.7 325.9,98.2 320.2,98.2" fill="#6e4a00" stroke="#ffa800" stroke-width="1.0" stroke-linejoin="round"/><polygon points="323.4,100.7 323.4,135.7 325.9,133.2 325.9,98.2" fill="#6e4a00" stroke="#ffa800" stroke-width="1.0" stroke-linejoin="round"/><rect x="317.8" y="100.7" width="5.7" height="35" fill="#ffa800" stroke="#ffa800" stroke-width="1.0" stroke-linejoin="round"/><polygon points="282.5,145.2 288.2,145.2 290.7,142.7 285,142.7" fill="#6e4a00" stroke="#ffa800" stroke-width="1.0" stroke-linejoin="round"/><polygon points="288.2,145.2 288.2,154.7 290.7,152.2 290.7,142.7" fill="#6e4a00" stroke="#ffa800" stroke-width="1.0" stroke-linejoin="round"/><rect x="282.5" y="145.2" width="5.7" height="9.5" fill="#ffa800" stroke="#ffa800" stroke-width="1.0" stroke-linejoin="round"/><polygon points="291.5,155.5 297.2,155.5 299.7,153 294,153" fill="#6e4a00" stroke="#ffa800" stroke-width="1.0" stroke-linejoin="round"/><polygon points="297.2,155.5 297.2,156 299.7,153.5 299.7,153" fill="#6e4a00" stroke="#ffa800" stroke-width="1.0" stroke-linejoin="round"/><rect x="291.5" y="155.5" width="5.7" height="0.5" fill="#ffa800" stroke="#ffa800" stroke-width="1.0" stroke-linejoin="round"/><polygon points="191.8,170.5 197.4,170.5 199.9,168 194.2,168" fill="#6e4a00" stroke="#ffa800" stroke-width="1.0" stroke-linejoin="round"/><polygon points="197.4,170.5 197.4,171 199.9,168.5 199.9,168" fill="#6e4a00" stroke="#ffa800" stroke-width="1.0" stroke-linejoin="round"/><rect x="191.8" y="170.5" width="5.7" height="0.5" fill="#ffa800" stroke="#ffa800" stroke-width="1.0" stroke-linejoin="round"/><polygon points="261,161.2 266.7,161.2 269.2,158.8 263.5,158.8" fill="#6e4a00" stroke="#ffa800" stroke-width="1.0" stroke-linejoin="round"/><polygon points="266.7,161.2 266.7,173 269.2,170.5 269.2,158.8" fill="#6e4a00" stroke="#ffa800" stroke-width="1.0" stroke-linejoin="round"/><rect x="261" y="161.2" width="5.7" height="11.8" fill="#ffa800" stroke="#ffa800" stroke-width="1.0" stroke-linejoin="round"/><polygon points="224.8,175.7 230.4,175.7 232.9,173.2 227.2,173.2" fill="#6e4a00" stroke="#ffa800" stroke-width="1.0" stroke-linejoin="round"/><polygon points="230.4,175.7 230.4,176.2 232.9,173.7 232.9,173.2" fill="#6e4a00" stroke="#ffa800" stroke-width="1.0" stroke-linejoin="round"/><rect x="224.8" y="175.7" width="5.7" height="0.5" fill="#ffa800" stroke="#ffa800" stroke-width="1.0" stroke-linejoin="round"/><polygon points="297.8,175.2 303.5,175.2 306,172.7 300.3,172.7" fill="#6e4a00" stroke="#ffa800" stroke-width="1.0" stroke-linejoin="round"/><polygon points="303.5,175.2 303.5,178.2 306,175.7 306,172.7" fill="#6e4a00" stroke="#ffa800" stroke-width="1.0" stroke-linejoin="round"/><rect x="297.8" y="175.2" width="5.7" height="3" fill="#ffa800" stroke="#ffa800" stroke-width="1.0" stroke-linejoin="round"/><polygon points="162.6,185.8 168.2,185.8 170.8,183.3 165.1,183.3" fill="#6e4a00" stroke="#ffa800" stroke-width="1.0" stroke-linejoin="round"/><polygon points="168.2,185.8 168.2,186.3 170.8,183.8 170.8,183.3" fill="#6e4a00" stroke="#ffa800" stroke-width="1.0" stroke-linejoin="round"/><rect x="162.6" y="185.8" width="5.7" height="0.5" fill="#ffa800" stroke="#ffa800" stroke-width="1.0" stroke-linejoin="round"/><polygon points="241.2,189 246.9,189 249.4,186.5 243.8,186.5" fill="#6e4a00" stroke="#ffa800" stroke-width="1.0" stroke-linejoin="round"/><polygon points="246.9,189 246.9,192.2 249.4,189.7 249.4,186.5" fill="#6e4a00" stroke="#ffa800" stroke-width="1.0" stroke-linejoin="round"/><rect x="241.2" y="189" width="5.7" height="3.2" fill="#ffa800" stroke="#ffa800" stroke-width="1.0" stroke-linejoin="round"/><polygon points="271.8,198 277.4,198 279.9,195.5 274.2,195.5" fill="#6e4a00" stroke="#ffa800" stroke-width="1.0" stroke-linejoin="round"/><polygon points="277.4,198 277.4,200.7 279.9,198.2 279.9,195.5" fill="#6e4a00" stroke="#ffa800" stroke-width="1.0" stroke-linejoin="round"/><rect x="271.8" y="198" width="5.7" height="2.7" fill="#ffa800" stroke="#ffa800" stroke-width="1.0" stroke-linejoin="round"/><polygon points="309.8,200 315.5,200 318,197.5 312.3,197.5" fill="#6e4a00" stroke="#ffa800" stroke-width="1.0" stroke-linejoin="round"/><polygon points="315.5,200 315.5,203.3 318,200.8 318,197.5" fill="#6e4a00" stroke="#ffa800" stroke-width="1.0" stroke-linejoin="round"/><rect x="309.8" y="200" width="5.7" height="3.3" fill="#ffa800" stroke="#ffa800" stroke-width="1.0" stroke-linejoin="round"/><polygon points="296.8,204.6 302.4,204.6 304.9,202.1 299.2,202.1" fill="#6e4a00" stroke="#ffa800" stroke-width="1.0" stroke-linejoin="round"/><polygon points="302.4,204.6 302.4,214.5 304.9,212 304.9,202.1" fill="#6e4a00" stroke="#ffa800" stroke-width="1.0" stroke-linejoin="round"/><rect x="296.8" y="204.6" width="5.7" height="9.9" fill="#ffa800" stroke="#ffa800" stroke-width="1.0" stroke-linejoin="round"/><polygon points="264.8,221.7 270.5,221.7 273,219.2 267.3,219.2" fill="#6e4a00" stroke="#ffa800" stroke-width="1.0" stroke-linejoin="round"/><polygon points="270.5,221.7 270.5,223.8 273,221.3 273,219.2" fill="#6e4a00" stroke="#ffa800" stroke-width="1.0" stroke-linejoin="round"/><rect x="264.8" y="221.7" width="5.7" height="2.1" fill="#ffa800" stroke="#ffa800" stroke-width="1.0" stroke-linejoin="round"/><polygon points="202.2,227.5 207.9,227.5 210.4,225 204.8,225" fill="#6e4a00" stroke="#ffa800" stroke-width="1.0" stroke-linejoin="round"/><polygon points="207.9,227.5 207.9,228 210.4,225.5 210.4,225" fill="#6e4a00" stroke="#ffa800" stroke-width="1.0" stroke-linejoin="round"/><rect x="202.2" y="227.5" width="5.7" height="0.5" fill="#ffa800" stroke="#ffa800" stroke-width="1.0" stroke-linejoin="round"/><polygon points="318.1,226.2 323.8,226.2 326.3,223.7 320.6,223.7" fill="#6e4a00" stroke="#ffa800" stroke-width="1.0" stroke-linejoin="round"/><polygon points="323.8,226.2 323.8,232.1 326.3,229.6 326.3,223.7" fill="#6e4a00" stroke="#ffa800" stroke-width="1.0" stroke-linejoin="round"/><rect x="318.1" y="226.2" width="5.7" height="5.9" fill="#ffa800" stroke="#ffa800" stroke-width="1.0" stroke-linejoin="round"/><polygon points="290,247.1 295.7,247.1 298.2,244.6 292.5,244.6" fill="#6e4a00" stroke="#ffa800" stroke-width="1.0" stroke-linejoin="round"/><polygon points="295.7,247.1 295.7,248.1 298.2,245.6 298.2,244.6" fill="#6e4a00" stroke="#ffa800" stroke-width="1.0" stroke-linejoin="round"/><rect x="290" y="247.1" width="5.7" height="1" fill="#ffa800" stroke="#ffa800" stroke-width="1.0" stroke-linejoin="round"/><polygon points="263,247.2 268.7,247.2 271.2,244.7 265.5,244.7" fill="#6e4a00" stroke="#ffa800" stroke-width="1.0" stroke-linejoin="round"/><polygon points="268.7,247.2 268.7,250.2 271.2,247.7 271.2,244.7" fill="#6e4a00" stroke="#ffa800" stroke-width="1.0" stroke-linejoin="round"/><rect x="263" y="247.2" width="5.7" height="3" fill="#ffa800" stroke="#ffa800" stroke-width="1.0" stroke-linejoin="round"/><polygon points="230.7,257.9 236.3,257.9 238.8,255.4 233.2,255.4" fill="#6e4a00" stroke="#ffa800" stroke-width="1.0" stroke-linejoin="round"/><polygon points="236.3,257.9 236.3,257.9 238.8,255.4 238.8,255.4" fill="#6e4a00" stroke="#ffa800" stroke-width="1.0" stroke-linejoin="round"/><polygon points="306.8,243.2 312.4,243.2 314.9,240.7 309.2,240.7" fill="#6e4a00" stroke="#ffa800" stroke-width="1.0" stroke-linejoin="round"/><polygon points="312.4,243.2 312.4,258 314.9,255.5 314.9,240.7" fill="#6e4a00" stroke="#ffa800" stroke-width="1.0" stroke-linejoin="round"/><rect x="306.8" y="243.2" width="5.7" height="14.8" fill="#ffa800" stroke="#ffa800" stroke-width="1.0" stroke-linejoin="round"/><polygon points="192.2,268.9 197.8,268.9 200.3,266.4 194.7,266.4" fill="#6e4a00" stroke="#ffa800" stroke-width="1.0" stroke-linejoin="round"/><polygon points="197.8,268.9 197.8,271.9 200.3,269.4 200.3,266.4" fill="#6e4a00" stroke="#ffa800" stroke-width="1.0" stroke-linejoin="round"/><rect x="192.2" y="268.9" width="5.7" height="3" fill="#ffa800" stroke="#ffa800" stroke-width="1.0" stroke-linejoin="round"/><polygon points="244.1,280.8 249.8,280.8 252.2,278.3 246.6,278.3" fill="#6e4a00" stroke="#ffa800" stroke-width="1.0" stroke-linejoin="round"/><polygon points="249.8,280.8 249.8,280.8 252.2,278.3 252.2,278.3" fill="#6e4a00" stroke="#ffa800" stroke-width="1.0" stroke-linejoin="round"/><polygon points="277.2,251 282.9,251 285.4,248.5 279.8,248.5" fill="#6e4a00" stroke="#ffa800" stroke-width="1.0" stroke-linejoin="round"/><polygon points="282.9,251 282.9,282.3 285.4,279.8 285.4,248.5" fill="#6e4a00" stroke="#ffa800" stroke-width="1.0" stroke-linejoin="round"/><rect x="277.2" y="251" width="5.7" height="31.3" fill="#ffa800" stroke="#ffa800" stroke-width="1.0" stroke-linejoin="round"/><polygon points="258.5,325.2 264.2,325.2 266.7,322.7 261,322.7" fill="#6e4a00" stroke="#ffa800" stroke-width="1.0" stroke-linejoin="round"/><polygon points="264.2,325.2 264.2,326.2 266.7,323.7 266.7,322.7" fill="#6e4a00" stroke="#ffa800" stroke-width="1.0" stroke-linejoin="round"/><rect x="258.5" y="325.2" width="5.7" height="1" fill="#ffa800" stroke="#ffa800" stroke-width="1.0" stroke-linejoin="round"/><rect x="28" y="28" width="355" height="334" fill="none" stroke="#000" stroke-width="2"/><line x1="78.9" y1="24" x2="78.9" y2="28" class="tk"/><text transform="translate(78.9,23) scale(0.89,1)" class="tl" text-anchor="middle">75°E</text><line x1="151.2" y1="24" x2="151.2" y2="28" class="tk"/><text transform="translate(151.2,23) scale(0.89,1)" class="tl" text-anchor="middle">90°E</text><line x1="220.1" y1="24" x2="220.1" y2="28" class="tk"/><text transform="translate(220.1,23) scale(0.89,1)" class="tl" text-anchor="middle">105°E</text><line x1="289.1" y1="24" x2="289.1" y2="28" class="tk"/><text transform="translate(289.1,23) scale(0.89,1)" class="tl" text-anchor="middle">120°E</text><line x1="361.3" y1="24" x2="361.3" y2="28" class="tk"/><text transform="translate(361.3,23) scale(0.89,1)" class="tl" text-anchor="middle">135°E</text><line x1="99.9" y1="362" x2="99.9" y2="366" class="tk"/><text transform="translate(99.9,374) scale(0.89,1)" class="tl" text-anchor="middle">90°E</text><line x1="220.1" y1="362" x2="220.1" y2="366" class="tk"/><text transform="translate(220.1,374) scale(0.89,1)" class="tl" text-anchor="middle">105°E</text><line x1="340.4" y1="362" x2="340.4" y2="366" class="tk"/><text transform="translate(340.4,374) scale(0.89,1)" class="tl" text-anchor="middle">120°E</text><line x1="24" y1="285.3" x2="28" y2="285.3" class="tk"/><line x1="383" y1="292.6" x2="387" y2="292.6" class="tk"/><text transform="translate(22.6,285.3) rotate(-90) scale(0.89,1)" class="tl" text-anchor="middle">20°N</text><text transform="translate(395,292.6) rotate(-90) scale(0.89,1)" class="tl" text-anchor="middle">20°N</text><line x1="24" y1="205.2" x2="28" y2="205.2" class="tk"/><line x1="383" y1="213.4" x2="387" y2="213.4" class="tk"/><text transform="translate(22.6,205.2) rotate(-90) scale(0.89,1)" class="tl" text-anchor="middle">30°N</text><text transform="translate(395,213.4) rotate(-90) scale(0.89,1)" class="tl" text-anchor="middle">30°N</text><line x1="24" y1="122.6" x2="28" y2="122.6" class="tk"/><line x1="383" y1="132.1" x2="387" y2="132.1" class="tk"/><text transform="translate(22.6,122.6) rotate(-90) scale(0.89,1)" class="tl" text-anchor="middle">40°N</text><text transform="translate(395,132.1) rotate(-90) scale(0.89,1)" class="tl" text-anchor="middle">40°N</text><line x1="24" y1="39.7" x2="28" y2="39.7" class="tk"/><line x1="383" y1="50.8" x2="387" y2="50.8" class="tk"/><text transform="translate(22.6,39.7) rotate(-90) scale(0.89,1)" class="tl" text-anchor="middle">50°N</text><text transform="translate(395,50.8) rotate(-90) scale(0.89,1)" class="tl" text-anchor="middle">50°N</text><text transform="translate(45.2,55.8) scale(0.88,1)" class="pl">C</text><text x="45.6" y="273.6" class="lg">NPP (10<tspan dy="-4" class="sup">9</tspan><tspan dy="4"> gC)</tspan></text><text x="78.8" y="304.6" class="lv">-48</text><polygon points="61.6,285.5 67.3,285.5 69.8,283 64.2,283" fill="#6e4a00" stroke="#ffa800" stroke-width="1.0" stroke-linejoin="round"/><polygon points="67.3,285.5 67.3,308.5 69.8,306 69.8,283" fill="#6e4a00" stroke="#ffa800" stroke-width="1.0" stroke-linejoin="round"/><rect x="61.6" y="285.5" width="5.7" height="23" fill="#ffa800" stroke="#ffa800" stroke-width="1.0" stroke-linejoin="round"/><path d="M45.2,347.5 V353.5 H114.5 V347.5 M79.6,351 V353.5" fill="none" stroke="#222" stroke-width="1.3"/><text y="342.5" class="sc"><tspan x="42.2">0</tspan><tspan x="70.3">500</tspan><tspan x="100.8">1,000</tspan><tspan x="133.8">km</tspan></text></g><g transform="translate(0,383)"><g fill="none" stroke="#cdcdcd" stroke-width="0.8" clip-path="url(#clip)"><polyline points="-102.9,235.8 -96.2,239 -89.5,242.2 -82.8,245.3 -76,248.4 -69.2,251.4 -62.3,254.3 -55.4,257.1 -48.5,259.9 -41.6,262.6 -34.7,265.2 -27.7,267.7 -20.7,270.2 -13.6,272.6 -6.6,275 0.5,277.2 7.6,279.4 14.7,281.6 21.9,283.6 29,285.6 36.2,287.5 43.4,289.3 50.7,291.1 57.9,292.8 65.2,294.4 72.4,295.9 79.7,297.4 87,298.8 94.4,300.1 101.7,301.3 109,302.5 116.4,303.6 123.7,304.6 131.1,305.5 138.5,306.4 145.9,307.2 153.3,307.9 160.7,308.6 168.1,309.1 175.5,309.6 183,310 190.4,310.4 197.8,310.6 205.3,310.8 212.7,310.9 220.1,311 227.6,310.9 235,310.8 242.4,310.6 249.9,310.4 257.3,310 264.7,309.6 272.1,309.1 279.5,308.6 287,307.9 294.4,307.2 301.7,306.4 309.1,305.5 316.5,304.6 323.9,303.6 331.2,302.5 338.6,301.3 345.9,300.1 353.2,298.8 360.5,297.4 367.8,295.9 375.1,294.4 382.3,292.8 389.6,291.1 396.8,289.3 404,287.5 411.2,285.6 418.4,283.6 425.5,281.6 432.6,279.4 439.8,277.2 446.8,275 453.9,272.6 460.9,270.2 467.9,267.7 474.9,265.2 481.9,262.6 488.8,259.9 495.7,257.1 502.6,254.3 509.4,251.4 516.2,248.4 523,245.3 529.8,242.2 536.5,239 543.2,235.8"/><polyline points="-68.9,166.7 -62.9,169.6 -56.9,172.5 -50.9,175.3 -44.8,178 -38.7,180.6 -32.6,183.2 -26.5,185.8 -20.3,188.2 -14.1,190.7 -7.8,193 -1.6,195.3 4.7,197.5 11,199.7 17.3,201.8 23.6,203.8 30,205.8 36.3,207.7 42.7,209.5 49.2,211.3 55.6,213 62,214.6 68.5,216.2 75,217.7 81.5,219.1 88,220.5 94.5,221.8 101,223.1 107.6,224.2 114.1,225.3 120.7,226.4 127.3,227.4 133.9,228.3 140.5,229.1 147.1,229.9 153.7,230.6 160.3,231.2 167,231.8 173.6,232.3 180.2,232.8 186.9,233.1 193.5,233.4 200.2,233.7 206.8,233.8 213.5,233.9 220.1,234 226.8,233.9 233.4,233.8 240.1,233.7 246.7,233.4 253.4,233.1 260,232.8 266.7,232.3 273.3,231.8 279.9,231.2 286.5,230.6 293.2,229.9 299.8,229.1 306.4,228.3 313,227.4 319.5,226.4 326.1,225.3 332.7,224.2 339.2,223.1 345.8,221.8 352.3,220.5 358.8,219.1 365.3,217.7 371.8,216.2 378.2,214.6 384.7,213 391.1,211.3 397.5,209.5 403.9,207.7 410.3,205.8 416.6,203.8 423,201.8 429.3,199.7 435.6,197.5 441.9,195.3 448.1,193 454.3,190.7 460.5,188.2 466.7,185.8 472.9,183.2 479,180.6 485.1,178 491.2,175.3 497.2,172.5 503.2,169.6 509.2,166.7"/><polyline points="-34.3,96.4 -29.1,99 -23.8,101.5 -18.5,103.9 -13.1,106.3 -7.7,108.7 -2.3,110.9 3.1,113.2 8.5,115.4 14,117.5 19.4,119.5 24.9,121.6 30.5,123.5 36,125.4 41.6,127.3 47.1,129 52.7,130.8 58.3,132.4 64,134.1 69.6,135.6 75.3,137.1 81,138.6 86.6,139.9 92.4,141.3 98.1,142.5 103.8,143.8 109.5,144.9 115.3,146 121.1,147 126.8,148 132.6,148.9 138.4,149.8 144.2,150.6 150,151.3 155.8,152 161.7,152.6 167.5,153.2 173.3,153.7 179.2,154.2 185,154.5 190.9,154.9 196.7,155.1 202.6,155.3 208.4,155.5 214.3,155.6 220.1,155.6 226,155.6 231.8,155.5 237.7,155.3 243.5,155.1 249.4,154.9 255.2,154.5 261.1,154.2 266.9,153.7 272.8,153.2 278.6,152.6 284.4,152 290.2,151.3 296,150.6 301.8,149.8 307.6,148.9 313.4,148 319.2,147 325,146 330.7,144.9 336.5,143.8 342.2,142.5 347.9,141.3 353.6,139.9 359.3,138.6 365,137.1 370.6,135.6 376.3,134.1 381.9,132.4 387.5,130.8 393.1,129 398.7,127.3 404.3,125.4 409.8,123.5 415.3,121.6 420.8,119.5 426.3,117.5 431.8,115.4 437.2,113.2 442.6,110.9 448,108.7 453.4,106.3 458.7,103.9 464,101.5 469.3,99 474.6,96.4"/><polyline points="-0.1,26.9 4.4,29.1 9,31.3 13.6,33.4 18.2,35.5 22.9,37.5 27.5,39.5 32.2,41.4 36.9,43.3 41.7,45.2 46.4,46.9 51.2,48.7 55.9,50.4 60.7,52 65.6,53.6 70.4,55.2 75.2,56.7 80.1,58.1 85,59.5 89.8,60.9 94.7,62.2 99.7,63.4 104.6,64.6 109.5,65.8 114.5,66.8 119.4,67.9 124.4,68.9 129.4,69.8 134.4,70.7 139.4,71.6 144.4,72.4 149.4,73.1 154.4,73.8 159.4,74.5 164.5,75.1 169.5,75.6 174.6,76.1 179.6,76.5 184.7,76.9 189.7,77.2 194.8,77.5 199.9,77.8 204.9,77.9 210,78.1 215.1,78.1 220.1,78.2 225.2,78.1 230.3,78.1 235.3,77.9 240.4,77.8 245.5,77.5 250.5,77.2 255.6,76.9 260.6,76.5 265.7,76.1 270.7,75.6 275.8,75.1 280.8,74.5 285.8,73.8 290.9,73.1 295.9,72.4 300.9,71.6 305.9,70.7 310.9,69.8 315.9,68.9 320.8,67.9 325.8,66.8 330.7,65.8 335.7,64.6 340.6,63.4 345.5,62.2 350.4,60.9 355.3,59.5 360.2,58.1 365,56.7 369.9,55.2 374.7,53.6 379.5,52 384.3,50.4 389.1,48.7 393.8,46.9 398.6,45.2 403.3,43.3 408,41.4 412.7,39.5 417.4,37.5 422,35.5 426.6,33.4 431.3,31.3 435.8,29.1 440.4,26.9"/><line x1="-32.4" y1="381.7" x2="88.1" y2="-1.1"/><line x1="92.4" y1="410.7" x2="153.3" y2="14"/><line x1="220.1" y1="420.4" x2="220.1" y2="19.1"/><line x1="347.9" y1="410.7" x2="286.9" y2="14"/><line x1="472.6" y1="381.7" x2="352.2" y2="-1.1"/></g><rect x="36.5" y="247.6" width="122.1" height="109.9" fill="#fff"/><rect x="337.2" y="307.9" width="43" height="48.6" fill="#fff"/><g fill="none" stroke="#8a8a8a" stroke-width="2.4" stroke-linejoin="round"><polyline points="337.5,219.2 336.2,217.6 334.2,220.7 333.1,224.8 332.1,229 331.1,234.2 329,239.3 326.9,243.5 324.8,247.6 322.8,251.8 321.7,255.9 320.7,260 318.6,263.1 315.5,267.3 311.4,271.4 308.3,274.5 305.2,277.6"/></g><g fill="none" stroke="#4d4d4d" stroke-width="0.9" stroke-linejoin="round"><polyline points="131.3,76.2 131.9,79.4 132.5,81.6 133.9,83.3 134.8,85 136.5,85.9 139.7,87.2 142.3,89.1 143.6,92.3 144.9,94.9 145.1,96.9 145.5,98.8 145.1,101.5 144.2,104 143.7,106 142.9,107.9 144.9,109.8 147.2,110.3 149.4,111.1 151.3,111.7 153.3,111.7 155.3,112.2 157.2,113 158.9,114.2 160.4,115.6 161.9,117.3 163.6,118.9 166.9,120.2 168.2,123.4 168.8,126.6 170.1,129.9 172,131.8 174.3,132.4 176.6,131.8 179.1,132.7 181.7,133.1 183.9,133.4 186,134.2 188.2,134.4 190.4,134.5 192.5,133.7 194.7,133.7 197.2,134.8 199.9,135 200.9,137 203.1,137.6 204.9,139.6 207.6,140.2 210,141.8 212.8,141.5 214.8,141.7 216.7,141.5 219.3,142.8 221.2,142.3 223,141.7 224.4,140.2 226.6,139.6 228.2,138.3 230,137"/><polyline points="172,131.8 169.5,133.7 168.8,137 167.1,138.4 164.9,138.9 162.8,139.7 161,140.9 158.8,141.7 157.2,143.4 156,144.8 154.6,146 152.7,146.4 150.7,146.7 149.4,149.3 148.8,151.2 148.1,153.1 147.3,154.8 146.4,156.4 146.2,158.3 145.5,160"/><polyline points="175.9,132.4 175.9,135.2 177.2,137.6 177,139.8 178.5,141.5 179.1,143.4 179.2,145.4 181,147 181.7,149.3 184.3,148.6 187.6,148 190.8,148 192.1,150.6 190.8,153.1 189.5,155.7 190.7,157.1 192.1,158.3 193.4,160"/><polyline points="230,137.6 232.1,136.8 234.3,136.6 236.5,136.3 238.6,135.6 240.8,135.5 242.9,135 245.5,134.5 248.1,133.7 249.7,131.7 252,130.5 253.4,128.2 255.9,127.3 257.8,124.7 256.9,122.7 255.9,120.8 255.6,118.8 255.9,116.9 258.5,115 260.4,114.5 262.3,115 264.2,114.8 265.8,113.8 267.5,113 269.5,112.7 271.1,111.5 272.7,110.5 274.7,110.1 276.6,109.2 278,107.6 279.8,106.6 281.1,104 282.7,102.7 284.3,101.4 286.5,100.9 288.2,99.5 290.2,99.4 292.1,98.8 294.1,99 296,98.2 298.6,96.9 297.3,93.6 295.6,91.9 293.4,91 291.3,90.4 289.5,89.1 287.6,88.9 285.6,89.1 283.6,89.9 281.7,91 279.8,91.5 277.9,91.7 275.3,90.4 274.6,87.2 274.5,85 275.9,83.3 276.7,81.4 277.2,79.4 278.5,76.2"/><polyline points="323.8,60 323.8,62 323.1,63.9 323.5,66 322.5,67.8 322.6,69.8 321.8,71.6 321.9,74.4 320.6,76.8 320.8,79 319.3,80.7 318.4,82.4 316.7,83.3 315.2,84.4 314.1,85.9 312.4,87.1 311.5,89.1 312.8,91.7 315.4,92.3 316.7,94.3 316,97.5 314,98.3 312.8,100.1 309.6,101.4 310.9,104 312.8,106.6 313.6,108.5 314.1,110.5 315.4,113 317.3,114.3"/><polyline points="316.7,126 314.7,126.8 312.8,127.9 310.6,128.9 308.9,130.5 306.3,132.4 304.4,134.4"/><polyline points="316,97.5 318.2,98.5 320.6,98.8 322,100.2 323.9,100.8 325.7,101.4 327.9,101.2 330,101.4"/><polyline points="250.7,159.6 252.3,158.5 253.9,157.3 255.9,157 257.6,156.1 259,154.7 261,154.4 263.5,153.5 266.2,153.1 268,151.6 270.1,150.6 272.7,149.3 271.3,147.6 271.4,145.4 271.7,143.3 272.7,141.5 273.3,139.1 275.3,137.6 277.2,136.9 279.2,137 281.7,135 283.4,133.6 285.6,133.7 287.1,131.9 289.5,131.8 292.1,133.1 294.7,135 296,137.6 298.6,138.9 299.5,137.2 301.2,136.3 302.4,133.7 304.4,134.4"/><polyline points="307.6,145.4 308.6,143.8 310.2,142.8 312.4,142.3 314.1,140.9 316.1,140.9 318,141.5 319.3,144.1 318,146.7 316.6,147.9 315.4,149.3 315.2,151.4 314.1,153.1 315.4,155.7"/><polyline points="315.4,157 316.7,155.7 317.9,154.3 319.3,153.1 320.9,151.4 323.1,150.6 325.2,149.5 327,148 330,146.7"/><polyline points="330.8,60 331.4,62.6 332.6,64.3 334,65.8 336,66.1 337.9,66.5 339.8,66.9 341.7,67.1 343.8,67.4 345.6,68.4 347.4,69.6 349.5,70.3 350.4,72 352.1,72.9 353.4,75.5 356,77.5 358.6,76.8 360.8,75.9 362.4,74.2 364.2,72.7 366.3,71.6 367.5,70.3 368.9,69.1 371.5,67.8 372.8,69.7 373.1,72 372.8,74.2 372.9,76.9 372.1,79.4 371.4,82 371.5,84.6 370.3,87.1 370.9,89.8 369.4,91.9 367.6,93.6 365.4,94.6 363.7,96.2 362.2,97.3 361.2,98.8 361.8,101.4 363.7,104 364.4,106.6 363.7,109.2 363.1,111.7 363.7,114.3 362.4,116.9 360.5,115.6 358.6,115 357.3,116.9 356.3,118.9 355.3,120.8 353.9,122.3 352.1,123.4 349.5,124.7 347.6,126 344.3,127.3 343,129.2 342.4,130.5 341.1,132.4 339.2,135 337.9,137.6 336.5,138.8 335.3,140.2 334,141.5 332.5,142.6 331.2,143.9 330.1,145.4 328.8,147.6 326.9,149.3 325.1,150.1 323.6,151.2 321.3,151.9 319.8,153.8 317.3,154.3 315.9,156.4"/><polyline points="315.9,156.4 316.8,154.1 317.8,151.8 318.5,149.9 319.1,148 319,145.3 317.8,142.8 315.2,140.9 312.6,141.5 310.7,144.1 308.1,146 305.5,147.3"/><polyline points="305.5,147.3 302.9,145.4 301.6,144.1 300.3,142.8 300.9,140.2 301,137.6 302.2,136.2 302.9,134.4"/><polyline points="317.2,126 315.4,127 313.3,127.3 311.3,128.2 309.4,129.2 306.8,131.2 304.2,132.4 302.9,134.4"/><polyline points="321.7,60 322.5,62.5 322.3,65.2 322,67.7 321.7,70.3 321.1,72.2 321,74.2 320,76 320.4,78.1 318.5,80.7 317.2,82.3 315.9,83.9 314.9,85.8 313.3,87.2 312.2,88.7 311.3,90.4 313.3,92.3 315.9,93 317.8,94.3 317.2,96.2 315.1,97.3 313.3,98.8 312.1,100.2 310.7,101.4 310.1,103.3 312,105.3 313.3,107.9 313.9,111.1 315.9,113 317.8,113.7"/><polyline points="315.9,96.9 317.6,98.4 319.8,98.8 321.9,99.8 323.6,101.4 325.5,102.2 327.5,102.7 329.3,101.7 331.4,101.4 333.2,102.5 335.3,102.7 337.4,102.9 339.2,104 341.7,105.3 342.8,106.8 344.3,107.9 346.9,108.5 349.5,109.8 352.1,109.2 354.7,107.9 357.3,106.6 359.9,107.2 362.4,107.9 363.7,109.2"/><polyline points="326.9,119.5 328.8,120.8 330.9,121.9 332.7,123.4 334.1,125.3 335.3,127.3 336.3,128.9 337.2,130.6 337.9,132.4 339.2,135"/><polyline points="57.2,178.1 55.2,180.7 54.9,182.6 54.6,184.6 56.5,187.2 56.1,189.1 56.5,191 55.2,193 52.6,191.7 50.7,192.3 49.9,194.2 50.7,196.2 50.9,198.8 51.3,201.4 52.6,204.6 54,206 55.9,206.6 56.4,208.4 57.8,209.8 59.1,211.7 61,213 63.6,215 65.6,213 68.2,213 69.7,214.1 70.8,215.6 72.7,218.2 74.7,219.7 75.3,222.1 77,223 77.9,224.7 81.1,225.3 82,227 83,228.6 84.5,229.7 85.6,231.2 86.9,233.7 89.5,235 90.9,236.2 92.1,237.6 94.7,237.6 97.3,238.9 99.9,240.2 101.9,240.2 103.7,240.9 105.7,240.9 107.6,240.2 109.6,241.5 109.1,243.6 110.2,245.4 110.9,246.7 112,244.8 112.8,242.8 115.4,240.9 118,240.2 120.6,240.9 123.1,242.1 125.7,243.4 128.3,244.1 130,246"/><polyline points="57.2,178.1 59.8,178.8 61.6,178 63.6,178.1 64.9,176.2 66.2,174.2 68.8,172.9 70.8,173.3 72.7,174.2 74.8,174.4 76.6,175.5 79.2,174.2 81.7,173.6 84.3,175.5 86.9,177.5 88.9,177.6 90.8,178.1 93.4,177.5 95.3,177 97.3,176.8 99.3,177.1 101.2,177.5 104.4,176.2 106.3,174.9 108.9,174.6 111.5,174.5 113.7,174.3 115.9,174.3 118,174.9 119.9,175.6 121.8,176.2 123.6,177.3 125.1,178.8 127.5,179.2 130,179.4"/><polyline points="125.1,178.8 124.4,182 123.9,183.9 123.8,185.9 122.9,187.8 123.1,189.8 122.8,191.7 123.1,193.6 123.6,195.6 124.4,197.5 125.8,198.7 127,200.1 128.1,201.9 130,202.7"/><polyline points="146.8,157.5 148.6,158.7 150.7,158.8 152.4,160.2 154.6,160.7 155.5,162.4 157.2,163.3 158.7,165 161,165.2 162.9,165.9 164.9,166.5 166.8,167.1 168.8,167.2 171.4,165.2 172.7,163.5 172.7,161.3 175.3,160.1 176.9,161.8 179.2,162 181,162.8 183,162.6 185.6,163.3 187.1,164.4 188.2,165.9 190.8,167.8 193.4,169.1 196,171 198,171.4 199.9,172.3 200.7,174 202.4,174.9 204.4,177.5 205.6,179.3 206.3,181.4 207.3,183.2 207.6,185.3 206.5,187.1 206.3,189.2 204.9,191 203.7,193 201.8,195.6 199.9,198.2 197.3,199.5 194.7,200.2 194,202.1 196,204.7 198.6,206 200.5,207.3"/><polyline points="130,203.4 132.1,203.6 133.9,204.7 135.8,205.4 137.8,206 139.4,206.8 141.2,207.3 142.9,207.9 144.8,208.2 146.3,209.5 148.1,209.9 150,210.7 152,210.5 153.8,211.7 155.9,212.4 157.1,213.8 158.5,215 160,216.1 161,217.6 163.6,218.3 166.2,217 168.8,215 169.5,213.1 171.4,212.4 171.1,210.4 172,208.6 172.2,206 172.7,203.4 173.1,201.5 174.6,200.2 176.6,200.2 178.5,202.1 179,204.1 179.8,206 181.7,208.6 184.3,209.9 186.9,211.2 189.5,211.8 192.1,212.4 194.7,211.8 197.3,209.9 198.7,208.3 200.5,207.3"/><polyline points="172.7,211.2 173.1,213.4 174.6,215 176.4,216.8 177.9,218.9 179.3,221.3 179.2,224.1 179,226.3 179.9,228.4 179.8,230.6 180.6,232.4 180.2,234.4 180.5,236.2 179.9,238.2 180.5,240"/><polyline points="200.5,207.3 202.4,204.7 204.1,203.8 205,202.1 207.6,200.8"/><polyline points="194.7,160.7 195.8,162.2 197.3,163.3 199.9,164.6 202.4,163.3 205,162 207.6,160.7 210.2,160.1 212.8,160.1 214.7,160.7 215.4,163.3 214.1,165.9 212.1,168.5 211.5,171 212.4,172.7 214.1,173.6 216.7,174.9 219.3,174.9 220.6,176.2"/><polyline points="110,244.6 111.2,243.2 112.6,242 114.8,241.5 116.5,240.1 118.2,241.4 120.3,241.3 122.3,241.9 124.2,242.6 126.8,243.9 129.4,245.9 129.9,248.1 131.3,249.8 133.3,252.3 135.2,253.1 137.2,253 139.1,252.5 141,253 143.6,251.7 145.2,250.7 146.2,249.1 148.1,248 150.1,247.2 151.9,245.9 154,245.2 155.9,244.3 157.9,243.9 159.8,244.6 161.7,245.2 164.3,247.2 166.9,249.1 167.5,247.2 168.9,245.9 170.2,243.9 172.1,245.2 173.4,246.5 174.7,247.8 176,251 176.2,253.1 177.3,254.9 176.7,256.8 176.6,258.8 175.8,260.7 176,262.7 174.4,264 173.4,265.9 171.6,266.7 170.8,268.5 170,270.2 168.9,271.7 167.6,274.3 167.5,276.3 166.9,278.2 169.5,279.5 171.4,279 173.4,278.9 176,279.5 177.3,282.1 178.5,283.9 178.6,286 180.5,288.6 179.8,290.4 179.9,292.4 181.2,295 182.2,296.6 183.7,297.6 185.8,297.9 187.6,298.9 190.9,298.3 192.8,300.9 194.7,301.5 196,300.2 196.3,298.2 196.7,296.3 197.9,294.9 199.3,293.7 201.8,292.4 204.4,290.5 206.3,289.7 208.3,289.9 210,290.5"/><polyline points="178.6,220 178.6,222 179.2,223.9 179.8,225.8 179.9,227.8 180.7,230.3 180.5,232.9 180.3,234.9 179.9,236.8 180.6,238.8 179.9,240.7 178.6,242.6 177.3,244.6 175.3,246.5"/><polyline points="179.9,242 182.4,242.6 185,243.9 186.1,245.7 187.6,247.2 188.6,248.8 190.2,249.8 190.8,252.2 192.8,253.6 194.2,255.5 195.4,257.5 197.2,259.1 198,261.4 200.6,263.3 203.1,262.7 204.5,261.5 205.7,260.1 205.9,258.1 206.4,256.2 207.1,254.1 208.3,252.3 210,251"/><polyline points="221,232.9 221.9,234.8 221.7,236.8 223.3,238.4 223.6,240.7 225,241.9 226.2,243.3 228.8,244.6 230.6,243.4 232.7,243.3 233.8,241.4 235.9,240.7 238.5,240.1 241.1,242 243,243.9 245,245.9 247.6,247.8 249.5,249.8 248.9,253 250.2,255.6 250.8,258.8 250.2,261.4 251.4,264 253.6,263 256,262.7 258.6,262.4 261.2,262.7"/><polyline points="210.1,251 210.5,249.1 210.7,247.2 212.6,245.2 214.6,244.6 215.9,245.9 216.5,247.8 218.5,249.8 221,250.4 223.6,249.8 224.9,250.4"/><polyline points="210.7,254.9 211.3,256.9 212,258.8 213.5,259.9 214.6,261.4 215.9,264 217.3,265.7 217.2,267.9 217,269.8 216.5,271.7 217.3,273.6 217.2,275.6 218.9,276.5 219.8,278.2 221.8,278.5 223.6,279.5 225.5,280.2 227.5,280.8 226.2,283.4"/><polyline points="219.8,275.6 221.5,274.3 223.6,274.3 225.3,272.8 227.5,273 229.2,271.6 231.4,271.1 233.4,270.5 235.3,269.8 237,268.4 239.2,267.9 240.9,266.5 243,266.6 244.7,265.3 246.9,265.3 248.9,264.3 250.8,263.3"/><polyline points="261.2,262.7 262.4,265.3 263.9,267 264.4,269.2 266.3,271.7 268.1,272.5 268.9,274.3 270.2,276.9 269.6,279.5 267.6,282.1 266.3,284.7 265.4,286.4 263.7,287.3 262.2,288.4 261.2,289.9 259.8,291.1 258.6,292.4 257,293.4 256,295 254.7,297.6"/><polyline points="265,270.5 267,269.9 268.9,269.2 270.9,268.8 272.8,267.9 274.8,268.1 276.7,267.2 279.3,266.6"/><polyline points="210.1,290.6 212,289.9 214,289.3 215.9,288.6 217.9,288.1 219.8,287.3 223,286 224.9,284.7 227.5,283.4 228.8,285.3 229.6,287.9 231.4,289.9 231.6,292.2 233.3,293.7 234.3,296.2 236.6,297.6 239.1,298.5 241.7,298.9 243.9,298.9 245.6,297.6 248.2,298.2 250.8,298.3 252.8,298.4 254.7,298.9"/><polyline points="221.3,185 223.1,187.7 224.9,189.1 226.7,190.4 229.4,192.2 232.1,194 234,194.2 235.8,193.6 237.6,192.2"/><polyline points="229.4,193.1 229.4,195 229,196.8 228.6,198.7 229.4,200.4 228.5,203.1 226.7,205.8 225.4,208.5 224.5,211.2 223.6,212.1"/><polyline points="205,200.4 206.7,201.1 208.6,201.3 210.3,202.3 211.3,204 214,204.9 215.4,206.7 215.7,208.5 215.9,210.3 217.7,212.1 220.4,213.1 223.6,212.1"/><polyline points="223.6,212.1 226.7,211.7 228.5,212.1 230.3,212.1 232.2,213 234,214 236.7,215.3 239.4,216.2 242.1,216.7 244.8,217.6 247.5,218.9 249.3,220.3"/><polyline points="242.1,217.1 241.2,219.4 240.3,222.1 238.5,224.8 236.7,227.1 234.9,229.3 233.1,232.1 231.2,232.5 229.4,231.6 227.6,230.7 224.9,230.2 223.1,232.1 222.2,234.8 221.7,237.5 223.1,239.3 224.9,241.1 226.7,242.9 227.6,244.7"/><polyline points="249.3,220.3 251.2,222.1 253,223.9 252.1,226.6 249.3,228.4 247.5,228.9 245.7,229.3 243,229.8 242.6,232.1 243,234.8 244.8,236.6 246.6,238.4 247.5,241.1 247.5,243 248.4,244.7 249.3,246.4 249.3,248.3 250,250.5 249.2,252.8 249.8,255"/><polyline points="248.4,208.5 250.2,208.3 252.1,208.5 254.8,207.6 257.5,207.2"/><polyline points="249.3,208.5 250.2,211.2 251.2,214 249.8,215.8 249.3,218.5 249.3,220.3"/><polyline points="253.9,194 254.8,196.8 257.5,195 259,193.5 261.1,193.1 263,192.2 265,191.3"/><polyline points="254.8,196.8 255.4,198.6 255.7,200.4 257.5,203.1 258.4,204.9 259.3,206.7 261.1,209.4 262.9,211.2 265,213.1"/><polyline points="247.5,235.7 249.2,234.7 251.2,234.3 252.9,233.5 254.8,233 256.4,231.9 258.4,232.1 260.2,231.6 262,232.1 265,232.5"/><polyline points="281.6,190.4 282.8,192.3 284.7,193.5 287.8,194.3 290.9,192.8 293.2,192 295.5,193.5 297.5,193.3 299.4,192.8 302.5,193.5 304.2,192.5 305.6,191.2 308,188.9 309.5,186.6 310.3,185"/><polyline points="308.7,189.7 311.1,191.2 314.2,192.8 316.5,195.1 317.8,196.5 318.8,198.2 320.4,201.3 321.9,204.4 323.6,205.8 325,207.5 327.4,209.1 328.9,211.4 329.4,213.3 329.7,215.3 330.5,217.6 333.6,218.4 335.9,217.6 337.5,219.2"/><polyline points="295.5,195.1 296.6,196.7 297.9,198.2 301,199.8 303.3,202.1 304.8,205.2 307.2,206.7 308,208.3 307.6,210.6 308.7,213.7 310.3,216.1 312.6,217.6 315.7,217.6 318,218.4 320.4,219.2 322.7,219.2 325,216.8 325.4,214.7 326.6,213 326.6,210.6 327.4,209.1"/><polyline points="322.7,219.2 325,221.5 328.1,223 330.5,221.5 333.6,220.7"/><polyline points="315.7,217.6 315,219.6 314.2,221.5 313.7,223.6 312.6,225.4 311.1,228.5 309.5,231.6 308,233.1 306.4,232.4"/><polyline points="306.4,232.4 303.3,230.8 300.2,230.8 297.1,231.6 294,231.6 291.6,230.8 289.8,231.9 287.8,232.4 286.3,233.7 284.7,234.7 282.3,236.2 280,237.8"/><polyline points="307.2,233.1 308,236.2 309.5,239.3 311.1,242.5 312.6,245"/><polyline points="291.6,195.1 290.1,196.6 287.8,198.2 286.2,200.5 284.7,203.6 283.1,206.7 284.7,209.8 287.8,211.4 290.1,213.7 290.1,216.1 287.8,217.6 285.4,218.4 282.3,217.6 280,216.8"/><polyline points="287.8,218.4 288.5,220.3 290.1,221.5 291.1,223.4 291.6,225.4 292,227.3 292.4,229.3 293.2,231.6"/><polyline points="260,301.2 261.4,299.6 263.5,298.9 265.4,298.4 267,297.2 269.2,296 271.6,295.4 274,295 276.3,294.2 278.4,293.5 279.8,291.9 281.9,291.3 283.3,289.6 285.6,288.4 287.9,287.3 290.2,286.5 292.6,286.1 294.4,285.7 296.1,284.9 298.1,285.1 299.6,283.8 301.7,283.1 303.1,281.4 304.5,279.8 305.4,277.9"/><polyline points="305.4,277.9 305.4,275.4 304.2,273.3 301.9,271 300.3,270 298.4,269.8 296.1,268.6 294.9,267.5 295.6,265.8 296.1,264 296.8,262.3 297.3,260.5 298.2,258.9 298.4,257 299.8,255.5 299.6,253.5 300.4,251.8 300.7,250"/><polyline points="286.8,272.7 288.3,271.5 290.3,271.5 293.8,271 296.1,269.8"/><polyline points="260,261.6 262.3,261.1 263.4,262.6 264.7,264 264.1,266.3 263.5,268.2 262.3,269.8 263.5,272.1 265.2,272.7 267,273.3 267.6,275.4 269.3,276.8 269,278.7 268.1,280.3 267.1,282.2 265.8,283.8 264.9,285.7 263.5,287.3 262.7,289.2 261.2,290.7 260,291.9"/><polyline points="254.2,298.3 255.2,301.4 255.7,304.5 257.3,307.6 259.3,309.2 261.4,309.2 260.9,306.6 259.9,304.5 259.3,301.4 260.4,299.3 263.5,297.8 264,299"/><polyline points="288.3,340.7 289.7,339 291.4,337.6 294.5,336.1 296.6,337.1 295.1,339.7 292.5,341.8 289.4,342.3 288.3,340.7"/><polyline points="269.7,335.5 271.8,334.5 272.8,336.6 271.2,338.1 269.7,337.6"/><polyline points="275.4,331.4 276.4,333.5 278,335.5 277.5,338.1 275.9,338.7"/><polyline points="278.5,333.5 280,333"/><polyline points="247.5,315 249.4,313.4 251.3,311.9 253.2,311.4 255,310.6 257.5,310.2 260,310 263.1,310.6 264.4,312.5 262.5,315 261.4,316.7 261.3,318.8 260,320.6 258.1,322.5 255,323.1 253.1,323.2 251.3,322.5 248.8,321.3 246.9,318.8 247.7,317 247.5,315"/><polyline points="278.5,76.2 281.5,76 284.1,75.9 286.8,76 288.4,74.8 290.3,74.3 291.4,72.7 292,70.8 292.4,68.5 292.7,66.1 292.9,63.8 293.4,61.6 293.6,59.4 294.3,57.2 294.6,55 293.8,51.5 295.2,50 295.5,48 298.1,46.3 300.8,44.5 302.5,43.7 304.3,43.6 307.8,42.8 310.4,43.1 313,43.6 315.7,43.7 318.3,44.5 320,45.8 321.8,47.1 322.9,49 324.4,50.6 326.2,52.5 327,55 328.8,56.3 329.6,58.4 330.5,60.3"/><polyline points="298.1,51.5 300.8,53.3 302.4,52.3 304.3,52.4 306.3,53.4 307.8,55 309.5,57.6 313,56.8 315.6,55.8 318.3,55.9 320.9,57.6 322,59.7 322.6,62"/><polyline points="340.5,308 342,309.8 344.1,311.2 346.3,311.6 348.5,310.9 350.7,309.8 352.8,309.1 355,308.7 357.9,308.3 360.1,308"/><polyline points="348.5,310.9 349.2,312.7 349.6,314.1"/><polyline points="352.8,309.4 351,311.2 349.9,313.1 349.6,314.1"/><polyline points="346.7,316 348.5,314.9 350.3,314.9 351.2,316.3 350.1,318.1 347.8,318.6 346.2,317.6 346.7,316"/><polyline points="352.5,322.1 353.2,323.6 353.9,324.7 355,324.3"/><polyline points="358.6,324.7 360.1,323.9 361.5,323.6"/><polyline points="355,340.2 356.5,338.1 357.2,339.5 355.7,341.7 355,342.4"/><polyline points="360.8,334.4 361.5,336.6 363,337.3 364.4,335.9 365.9,335.2"/><polyline points="358.6,341.7 360.1,340.2 361.5,341 363,341.7"/><polyline points="349.2,343.5 351,342.8 352.8,342"/><polyline points="215,175.6 217.3,175.2 219.7,174.4 222,173.6 224.3,173.2"/><polyline points="224.3,173.2 224.7,170.5 225.3,168.6 225.1,166.6 225.9,163.5 227.4,161.2 229.4,160.4 230.9,161.2 231.3,163.5 230.5,165.9 230.1,168.2 230.9,169.8 232.9,170.1 235.2,171.3 237.1,172.5 239.1,173.2 241,173.2 242.6,171.7 243.3,169.8 244.5,167.4 246.1,165.1 247.6,162.8 249.2,161.2 250.7,159.7 253,158.9 255.4,158.1 257.3,157.3 258.9,156.2 260,155"/><polyline points="216.6,175.2 218.9,177.5 220.4,178.8 221.2,180.6 222.4,182.4 222.8,184.5 223.5,187.6 225.9,189.9 228.2,191.9 229.4,193"/><polyline points="232.1,175.2 229.8,177.5 229,180.6 229.4,183.7 230.5,186.1 231.3,188.4 230.5,190.7 229.4,193"/><polyline points="233.6,175.2 234.4,178.3 236.3,179.5 238.3,180.6 240.1,181.7 241.8,183 242.6,185.3"/><polyline points="241.8,192.3 239.8,192.3 237.5,193 235.2,194.2 232.9,194.6 230.5,193.8 229.4,193"/><polyline points="258.5,156.6 257.3,158.2 256.1,159.7 254.6,162.8 253.7,164.6 253.8,166.6 253,169 253.4,172.1 254.6,175.2 253.8,178.3 253.7,180.3 253,182.2 253.5,184.1 253.4,186.1 254,188.1 253,189.9 253,191.9 252.7,193.8 253,196.9 254.6,199.3 256.1,201.6 257.7,204.7 259.3,207.8 260.8,210.1 263.1,212.5 265.5,213.2 267.5,212.9 269.3,213.6 271.3,213.3 273.2,214 275,214.4"/><polyline points="272.5,161.2 270.9,164.3 271.7,167.4 272.8,170.5 272.7,172.9 273.2,175.2 272.1,177 272.5,179.1 271.7,181.4 273.2,184.5 272.8,187.6 271.7,189.2 269.3,190.7 267,191.5 264.7,192.3 262.4,193 260,194.2 257.7,195.4 254.6,196.9"/><polyline points="280,182.6 282.3,181.8 283.5,179.5 284.7,176.4 286.2,173.3 287.8,171 290.1,168.6 292.4,167.5 294.8,166.3 295.9,164.8 297.9,164.4 300.2,164.4 302.5,164.8 304.1,165.9 304.8,167.5 304.5,169 305.6,170.2 307.2,171 308.7,170.6 310.3,169 311.8,167.1 313.4,165.5 314.2,164"/><polyline points="314.2,164 315.7,165.1 318,165.9 320.4,166.3 322.3,165.9 324.3,166.3 326.6,167.1 326.6,169 325.8,170.2 324.3,171 321.9,171.7 319.6,172.9 317.3,174.8 315.7,176.4 314.2,178.7 312.6,181.1 311.1,183.4 309.9,185.7 308.7,188 308,189.6"/><polyline points="283.1,179.5 282.7,181.1 283.9,183.4 284.7,184.9 287,183.4 287.8,183 286.6,184.7 284.7,185.7 283.1,188 281.6,190.4 282.3,191.5 284.7,193.5 286.2,194.6 288.5,195 290.9,194.6 291.6,193.5 292.4,192.3 294,191.9 296.3,192.7 298.6,193.5 301,192.7 303.3,191.9 305.6,190.4 308,189.6"/><polyline points="289.3,157.8 289.7,160.1 290.9,161.6 293.2,162 295.5,162.4 295.5,164 295.9,164.8"/><polyline points="314.2,164 314.5,161.6 314.2,160.1"/><polyline points="55.7,178.8 54.9,176.5 54.9,174.1 53.8,171.9 54.2,169.5 52.2,168 50.3,166.4 48.8,164.8 47.3,163.1 45.6,161.7 44.8,159.4 44.1,157 42.8,155.5 41.7,153.9 40.1,151.7 37.9,150.1 39.9,149.4 41,147.7 42.5,144.6 42.1,142.3 41.7,140 39.9,139.1 38.6,137.6 37.2,136 37.1,133.8 37.8,131.8 38.6,129.9 39.7,127.9 41.7,126.8 44.9,126 48,125.7 51.1,126.8 52.6,128.3 54.5,127.5 56.5,126.8 58.4,126.1 59.6,124.4 61.4,125.5 63.5,125.2 65.5,124.8 67.4,124.1 69.8,124 72,122.9 74,122.3 76.2,122.6 78.2,122.1 81.3,120.6 81.8,118.5 82.9,116.7 84.5,115.2 86,113.6 85.2,111.3 85.7,108.9 85.4,106.6 85.7,104.3 85.7,102.2 84.7,100.4 86.9,99.8 89.1,99.6 91.1,98.7 93.2,98.7 95.3,98.8 98.4,100.4 100,97.3 101.5,94.2 101.9,91.8 103.8,90.3 105.4,87.2 108.5,88.7 111.6,90.3 113.6,89.5 115.5,90.6 117.8,88.7 118.6,85.6 120.1,82.5 121.7,80.2 123.6,79.6 125.6,79.4 127.1,77.1 129.5,76.3"/><polyline points="126.4,178.8 129.5,177.2 131.6,175.9 134.1,175.7 134.7,173.7 136.4,172.6 135.7,169.5 134.1,166.4 133.6,164.5 133.3,162.5 134.1,160.1 136.4,159.3 138.8,159.4 141.2,159 143.4,157.8 145.5,157.7 147,156.3"/><polyline points="335.5,261 338.4,262 338.8,264.9 338.6,267.2 338.1,269.4 337.8,272 337.5,274.6 337.5,277.8 336.6,279.7 335.9,281.7 334.6,285 333.9,287.2 332,285 330.7,283.2 329.1,281.7 328.7,279.9 327.4,278.5 328.3,276.6 327.4,274.6 328.6,273.1 329.2,271.4 329.1,269.4 330.2,267.8 330.7,266 331.3,264.2 333.6,262 335.5,261"/><polyline points="270,212.9 272.1,213.5 274.1,212.9 277.2,214.5 278.7,215.8 280.4,216.6 283.5,218.1 286.6,218.6 289.2,219.2"/><polyline points="315.5,245.5 317.6,244.5 319.7,245.5 321.8,246.6 323.8,247.1"/><polyline points="304.2,244.5 302.8,245.8 302.1,247.6 301.4,249.7 301.1,251.8 300,254.9 299,258 298,261.1 296.9,264.2 295.6,266.1 295.9,268.3 296.9,271.4"/><polyline points="270,232.1 273.1,233.1 276.2,234.2 277.9,235.6 279.3,237.3 280.4,240.4 279.8,243.5 279.3,246.6 278.3,248.7"/><polyline points="270,231.1 272.1,230.7 274.1,231.1 276.1,232 278.3,232.4 280.4,233.1 283,233 285.5,232.1 288.2,232.2 290.7,231.1 293.8,230.5"/><polyline points="286.6,270.4 288.7,270.7 290.7,271.4 293.8,270.4 295.9,268.8 298,269.4 299.3,270.7 301.1,271.4 302.1,272.9 303.1,274.5 304.7,275.7 305.2,277.6 306.2,280"/><polyline points="337.5,219.2 336.2,217.6 334.2,220.7 333.1,224.8 332.1,229 331.1,234.2 329,239.3 326.9,243.5 324.8,247.6 322.8,251.8 321.7,255.9 320.7,260 318.6,263.1 315.5,267.3 311.4,271.4 308.3,274.5 305.2,277.6"/></g><rect x="337.2" y="307.9" width="43" height="48.6" fill="none" stroke="#222" stroke-width="1.2"/><g stroke="#1a1a1a" stroke-width="1.6" stroke-linecap="round"><line x1="337.8" y1="298.0" x2="342.5" y2="289.3"/><line x1="328.5" y1="320.2" x2="331.4" y2="310.9"/><line x1="327.9" y1="333.0" x2="328.2" y2="341.7"/><line x1="345.6" y1="266.3" x2="346.2" y2="275.6"/><line x1="252.6" y1="339.2" x2="258.8" y2="347.5"/><line x1="374.5" y1="309.1" x2="373.3" y2="311.4"/><line x1="371.6" y1="314.9" x2="371.0" y2="319.6"/><line x1="370.4" y1="321.9" x2="370.8" y2="325.4"/><line x1="372.2" y1="330.1" x2="370.4" y2="333.6"/><line x1="366.9" y1="340.5" x2="364.0" y2="342.9"/><line x1="356.5" y1="350.4" x2="358.8" y2="349.9"/><line x1="346.0" y1="343.5" x2="346.6" y2="346.4"/><line x1="350.6" y1="332.4" x2="351.2" y2="335.3"/><line x1="347.7" y1="323.7" x2="350.1" y2="326.6"/></g><g fill="#555"><circle cx="279.4" cy="312.5" r="0.75"/><circle cx="286.3" cy="314.4" r="0.75"/><circle cx="269.4" cy="331.3" r="0.75"/><circle cx="310" cy="333.5" r="0.75"/><circle cx="318.8" cy="340.6" r="0.75"/><circle cx="301.9" cy="351.9" r="0.75"/><circle cx="348.1" cy="255.4" r="0.75"/><circle cx="323.3" cy="278" r="0.75"/><circle cx="309.9" cy="333.6" r="0.75"/><circle cx="301.6" cy="351.7" r="0.75"/><circle cx="339.6" cy="285.7" r="0.75"/><circle cx="338.8" cy="280.7" r="0.75"/></g><polygon points="334.3,79.8 343.1,79.8 346.7,76.2 337.9,76.2" fill="#0a2a00" stroke="#38a800" stroke-width="1.7" stroke-linejoin="round"/><polygon points="343.1,79.8 343.1,80.7 346.7,77.1 346.7,76.2" fill="#0a2a00" stroke="#38a800" stroke-width="1.7" stroke-linejoin="round"/><rect x="334.3" y="79.8" width="8.8" height="0.9" fill="#38a800" stroke="#38a800" stroke-width="1.7" stroke-linejoin="round"/><polygon points="333,112.5 341.8,112.5 345.4,109 336.6,109" fill="#0a2a00" stroke="#38a800" stroke-width="1.7" stroke-linejoin="round"/><polygon points="341.8,112.5 341.8,113.5 345.4,109.9 345.4,109" fill="#0a2a00" stroke="#38a800" stroke-width="1.7" stroke-linejoin="round"/><rect x="333" y="112.5" width="8.8" height="0.9" fill="#38a800" stroke="#38a800" stroke-width="1.7" stroke-linejoin="round"/><polygon points="261.2,48.2 270,48.2 273.6,44.6 264.8,44.6" fill="#0a2a00" stroke="#38a800" stroke-width="1.7" stroke-linejoin="round"/><polygon points="270,48.2 270,120.7 273.6,117.1 273.6,44.6" fill="#0a2a00" stroke="#38a800" stroke-width="1.7" stroke-linejoin="round"/><rect x="261.2" y="48.2" width="8.8" height="72.5" fill="#38a800" stroke="#38a800" stroke-width="1.7" stroke-linejoin="round"/><polygon points="101.1,125.8 109.9,125.8 113.5,122.2 104.7,122.2" fill="#0a2a00" stroke="#38a800" stroke-width="1.7" stroke-linejoin="round"/><polygon points="109.9,125.8 109.9,134.7 113.5,131.1 113.5,122.2" fill="#0a2a00" stroke="#38a800" stroke-width="1.7" stroke-linejoin="round"/><rect x="101.1" y="125.8" width="8.8" height="8.9" fill="#38a800" stroke="#38a800" stroke-width="1.7" stroke-linejoin="round"/><polygon points="316.2,120.8 325,120.8 328.6,117.2 319.8,117.2" fill="#0a2a00" stroke="#38a800" stroke-width="1.7" stroke-linejoin="round"/><polygon points="325,120.8 325,135.3 328.6,131.8 328.6,117.2" fill="#0a2a00" stroke="#38a800" stroke-width="1.7" stroke-linejoin="round"/><rect x="316.2" y="120.8" width="8.8" height="14.6" fill="#38a800" stroke="#38a800" stroke-width="1.7" stroke-linejoin="round"/><polygon points="281,149.4 289.8,149.4 293.4,145.8 284.6,145.8" fill="#0a2a00" stroke="#38a800" stroke-width="1.7" stroke-linejoin="round"/><polygon points="289.8,149.4 289.8,154.3 293.4,150.8 293.4,145.8" fill="#0a2a00" stroke="#38a800" stroke-width="1.7" stroke-linejoin="round"/><rect x="281" y="149.4" width="8.8" height="4.9" fill="#38a800" stroke="#38a800" stroke-width="1.7" stroke-linejoin="round"/><polygon points="290,154.8 298.8,154.8 302.4,151.2 293.6,151.2" fill="#0a2a00" stroke="#38a800" stroke-width="1.7" stroke-linejoin="round"/><polygon points="298.8,154.8 298.8,155.7 302.4,152.1 302.4,151.2" fill="#0a2a00" stroke="#38a800" stroke-width="1.7" stroke-linejoin="round"/><rect x="290" y="154.8" width="8.8" height="0.9" fill="#38a800" stroke="#38a800" stroke-width="1.7" stroke-linejoin="round"/><polygon points="190.2,169.8 199,169.8 202.6,166.2 193.8,166.2" fill="#0a2a00" stroke="#38a800" stroke-width="1.7" stroke-linejoin="round"/><polygon points="199,169.8 199,170.7 202.6,167.1 202.6,166.2" fill="#0a2a00" stroke="#38a800" stroke-width="1.7" stroke-linejoin="round"/><rect x="190.2" y="169.8" width="8.8" height="0.9" fill="#38a800" stroke="#38a800" stroke-width="1.7" stroke-linejoin="round"/><polygon points="259.5,166 268.3,166 271.9,162.4 263.1,162.4" fill="#0a2a00" stroke="#38a800" stroke-width="1.7" stroke-linejoin="round"/><polygon points="268.3,166 268.3,172.7 271.9,169.1 271.9,162.4" fill="#0a2a00" stroke="#38a800" stroke-width="1.7" stroke-linejoin="round"/><rect x="259.5" y="166" width="8.8" height="6.7" fill="#38a800" stroke="#38a800" stroke-width="1.7" stroke-linejoin="round"/><polygon points="223.2,174.9 232,174.9 235.6,171.3 226.8,171.3" fill="#0a2a00" stroke="#38a800" stroke-width="1.7" stroke-linejoin="round"/><polygon points="232,174.9 232,175.8 235.6,172.2 235.6,171.3" fill="#0a2a00" stroke="#38a800" stroke-width="1.7" stroke-linejoin="round"/><rect x="223.2" y="174.9" width="8.8" height="0.9" fill="#38a800" stroke="#38a800" stroke-width="1.7" stroke-linejoin="round"/><polygon points="296.3,176.9 305.1,176.9 308.7,173.3 299.9,173.3" fill="#0a2a00" stroke="#38a800" stroke-width="1.7" stroke-linejoin="round"/><polygon points="305.1,176.9 305.1,177.8 308.7,174.2 308.7,173.3" fill="#0a2a00" stroke="#38a800" stroke-width="1.7" stroke-linejoin="round"/><rect x="296.3" y="176.9" width="8.8" height="0.9" fill="#38a800" stroke="#38a800" stroke-width="1.7" stroke-linejoin="round"/><polygon points="161,185.1 169.8,185.1 173.4,181.5 164.6,181.5" fill="#0a2a00" stroke="#38a800" stroke-width="1.7" stroke-linejoin="round"/><polygon points="169.8,185.1 169.8,186 173.4,182.4 173.4,181.5" fill="#0a2a00" stroke="#38a800" stroke-width="1.7" stroke-linejoin="round"/><rect x="161" y="185.1" width="8.8" height="0.9" fill="#38a800" stroke="#38a800" stroke-width="1.7" stroke-linejoin="round"/><polygon points="239.7,188.9 248.5,188.9 252.1,185.3 243.3,185.3" fill="#0a2a00" stroke="#38a800" stroke-width="1.7" stroke-linejoin="round"/><polygon points="248.5,188.9 248.5,191.8 252.1,188.2 252.1,185.3" fill="#0a2a00" stroke="#38a800" stroke-width="1.7" stroke-linejoin="round"/><rect x="239.7" y="188.9" width="8.8" height="2.9" fill="#38a800" stroke="#38a800" stroke-width="1.7" stroke-linejoin="round"/><polygon points="308.3,202.1 317.1,202.1 320.7,198.5 311.9,198.5" fill="#0a2a00" stroke="#38a800" stroke-width="1.7" stroke-linejoin="round"/><polygon points="317.1,202.1 317.1,203 320.7,199.4 320.7,198.5" fill="#0a2a00" stroke="#38a800" stroke-width="1.7" stroke-linejoin="round"/><rect x="308.3" y="202.1" width="8.8" height="0.9" fill="#38a800" stroke="#38a800" stroke-width="1.7" stroke-linejoin="round"/><polygon points="295.2,212 304,212 307.6,208.4 298.8,208.4" fill="#0a2a00" stroke="#38a800" stroke-width="1.7" stroke-linejoin="round"/><polygon points="304,212 304,214.2 307.6,210.6 307.6,208.4" fill="#0a2a00" stroke="#38a800" stroke-width="1.7" stroke-linejoin="round"/><rect x="295.2" y="212" width="8.8" height="2.2" fill="#38a800" stroke="#38a800" stroke-width="1.7" stroke-linejoin="round"/><polygon points="263.3,222.6 272.1,222.6 275.7,219 266.9,219" fill="#0a2a00" stroke="#38a800" stroke-width="1.7" stroke-linejoin="round"/><polygon points="272.1,222.6 272.1,223.5 275.7,219.9 275.7,219" fill="#0a2a00" stroke="#38a800" stroke-width="1.7" stroke-linejoin="round"/><rect x="263.3" y="222.6" width="8.8" height="0.9" fill="#38a800" stroke="#38a800" stroke-width="1.7" stroke-linejoin="round"/><polygon points="200.7,226.8 209.5,226.8 213.1,223.2 204.3,223.2" fill="#0a2a00" stroke="#38a800" stroke-width="1.7" stroke-linejoin="round"/><polygon points="209.5,226.8 209.5,227.7 213.1,224.1 213.1,223.2" fill="#0a2a00" stroke="#38a800" stroke-width="1.7" stroke-linejoin="round"/><rect x="200.7" y="226.8" width="8.8" height="0.9" fill="#38a800" stroke="#38a800" stroke-width="1.7" stroke-linejoin="round"/><polygon points="316.6,230.2 325.4,230.2 329,226.7 320.2,226.7" fill="#0a2a00" stroke="#38a800" stroke-width="1.7" stroke-linejoin="round"/><polygon points="325.4,230.2 325.4,231.8 329,228.2 329,226.7" fill="#0a2a00" stroke="#38a800" stroke-width="1.7" stroke-linejoin="round"/><rect x="316.6" y="230.2" width="8.8" height="1.5" fill="#38a800" stroke="#38a800" stroke-width="1.7" stroke-linejoin="round"/><polygon points="288.5,246.8 297.3,246.8 300.9,243.2 292.1,243.2" fill="#0a2a00" stroke="#38a800" stroke-width="1.7" stroke-linejoin="round"/><polygon points="297.3,246.8 297.3,247.8 300.9,244.2 300.9,243.2" fill="#0a2a00" stroke="#38a800" stroke-width="1.7" stroke-linejoin="round"/><rect x="288.5" y="246.8" width="8.8" height="0.9" fill="#38a800" stroke="#38a800" stroke-width="1.7" stroke-linejoin="round"/><polygon points="261.5,248.9 270.3,248.9 273.9,245.3 265.1,245.3" fill="#0a2a00" stroke="#38a800" stroke-width="1.7" stroke-linejoin="round"/><polygon points="270.3,248.9 270.3,249.8 273.9,246.2 273.9,245.3" fill="#0a2a00" stroke="#38a800" stroke-width="1.7" stroke-linejoin="round"/><rect x="261.5" y="248.9" width="8.8" height="0.9" fill="#38a800" stroke="#38a800" stroke-width="1.7" stroke-linejoin="round"/><polygon points="305.2,256.8 314,256.8 317.6,253.2 308.8,253.2" fill="#0a2a00" stroke="#38a800" stroke-width="1.7" stroke-linejoin="round"/><polygon points="314,256.8 314,257.6 317.6,254 317.6,253.2" fill="#0a2a00" stroke="#38a800" stroke-width="1.7" stroke-linejoin="round"/><rect x="305.2" y="256.8" width="8.8" height="0.9" fill="#38a800" stroke="#38a800" stroke-width="1.7" stroke-linejoin="round"/><polygon points="190.6,270.6 199.4,270.6 203,267 194.2,267" fill="#0a2a00" stroke="#38a800" stroke-width="1.7" stroke-linejoin="round"/><polygon points="199.4,270.6 199.4,271.5 203,267.9 203,267" fill="#0a2a00" stroke="#38a800" stroke-width="1.7" stroke-linejoin="round"/><rect x="190.6" y="270.6" width="8.8" height="0.9" fill="#38a800" stroke="#38a800" stroke-width="1.7" stroke-linejoin="round"/><polygon points="242.5,279.6 251.3,279.6 254.9,275.9 246.1,275.9" fill="#0a2a00" stroke="#38a800" stroke-width="1.7" stroke-linejoin="round"/><polygon points="251.3,279.6 251.3,280.4 254.9,276.8 254.9,275.9" fill="#0a2a00" stroke="#38a800" stroke-width="1.7" stroke-linejoin="round"/><rect x="242.5" y="279.6" width="8.8" height="0.9" fill="#38a800" stroke="#38a800" stroke-width="1.7" stroke-linejoin="round"/><polygon points="275.7,273.6 284.5,273.6 288.1,269.9 279.3,269.9" fill="#0a2a00" stroke="#38a800" stroke-width="1.7" stroke-linejoin="round"/><polygon points="284.5,273.6 284.5,281.9 288.1,278.3 288.1,269.9" fill="#0a2a00" stroke="#38a800" stroke-width="1.7" stroke-linejoin="round"/><rect x="275.7" y="273.6" width="8.8" height="8.4" fill="#38a800" stroke="#38a800" stroke-width="1.7" stroke-linejoin="round"/><polygon points="257,324.9 265.8,324.9 269.4,321.3 260.6,321.3" fill="#0a2a00" stroke="#38a800" stroke-width="1.7" stroke-linejoin="round"/><polygon points="265.8,324.9 265.8,325.8 269.4,322.2 269.4,321.3" fill="#0a2a00" stroke="#38a800" stroke-width="1.7" stroke-linejoin="round"/><rect x="257" y="324.9" width="8.8" height="0.9" fill="#38a800" stroke="#38a800" stroke-width="1.7" stroke-linejoin="round"/><rect x="28" y="28" width="355" height="334" fill="none" stroke="#000" stroke-width="2"/><line x1="78.9" y1="24" x2="78.9" y2="28" class="tk"/><text transform="translate(78.9,23) scale(0.89,1)" class="tl" text-anchor="middle">75°E</text><line x1="151.2" y1="24" x2="151.2" y2="28" class="tk"/><text transform="translate(151.2,23) scale(0.89,1)" class="tl" text-anchor="middle">90°E</text><line x1="220.1" y1="24" x2="220.1" y2="28" class="tk"/><text transform="translate(220.1,23) scale(0.89,1)" class="tl" text-anchor="middle">105°E</text><line x1="289.1" y1="24" x2="289.1" y2="28" class="tk"/><text transform="translate(289.1,23) scale(0.89,1)" class="tl" text-anchor="middle">120°E</text><line x1="361.3" y1="24" x2="361.3" y2="28" class="tk"/><text transform="translate(361.3,23) scale(0.89,1)" class="tl" text-anchor="middle">135°E</text><line x1="99.9" y1="362" x2="99.9" y2="366" class="tk"/><text transform="translate(99.9,374) scale(0.89,1)" class="tl" text-anchor="middle">90°E</text><line x1="220.1" y1="362" x2="220.1" y2="366" class="tk"/><text transform="translate(220.1,374) scale(0.89,1)" class="tl" text-anchor="middle">105°E</text><line x1="340.4" y1="362" x2="340.4" y2="366" class="tk"/><text transform="translate(340.4,374) scale(0.89,1)" class="tl" text-anchor="middle">120°E</text><line x1="24" y1="285.3" x2="28" y2="285.3" class="tk"/><line x1="383" y1="292.6" x2="387" y2="292.6" class="tk"/><text transform="translate(22.6,285.3) rotate(-90) scale(0.89,1)" class="tl" text-anchor="middle">20°N</text><text transform="translate(395,292.6) rotate(-90) scale(0.89,1)" class="tl" text-anchor="middle">20°N</text><line x1="24" y1="205.2" x2="28" y2="205.2" class="tk"/><line x1="383" y1="213.4" x2="387" y2="213.4" class="tk"/><text transform="translate(22.6,205.2) rotate(-90) scale(0.89,1)" class="tl" text-anchor="middle">30°N</text><text transform="translate(395,213.4) rotate(-90) scale(0.89,1)" class="tl" text-anchor="middle">30°N</text><line x1="24" y1="122.6" x2="28" y2="122.6" class="tk"/><line x1="383" y1="132.1" x2="387" y2="132.1" class="tk"/><text transform="translate(22.6,122.6) rotate(-90) scale(0.89,1)" class="tl" text-anchor="middle">40°N</text><text transform="translate(395,132.1) rotate(-90) scale(0.89,1)" class="tl" text-anchor="middle">40°N</text><line x1="24" y1="39.7" x2="28" y2="39.7" class="tk"/><line x1="383" y1="50.8" x2="387" y2="50.8" class="tk"/><text transform="translate(22.6,39.7) rotate(-90) scale(0.89,1)" class="tl" text-anchor="middle">50°N</text><text transform="translate(395,50.8) rotate(-90) scale(0.89,1)" class="tl" text-anchor="middle">50°N</text><text transform="translate(45.2,55.8) scale(0.88,1)" class="pl">A</text><text x="46" y="273.6" class="lg">Natural habitat area</text><text x="82.6" y="307.6" class="lv">-350 km<tspan dy="-4.5" class="sup">2</tspan></text><polygon points="64.1,284.8 72.9,284.8 76.5,281.2 67.7,281.2" fill="#0a2a00" stroke="#38a800" stroke-width="1.7" stroke-linejoin="round"/><polygon points="72.9,284.8 72.9,321.5 76.5,317.9 76.5,281.2" fill="#0a2a00" stroke="#38a800" stroke-width="1.7" stroke-linejoin="round"/><rect x="64.1" y="284.8" width="8.8" height="36.7" fill="#38a800" stroke="#38a800" stroke-width="1.7" stroke-linejoin="round"/><path d="M45.2,347.5 V353.5 H114.5 V347.5 M79.6,351 V353.5" fill="none" stroke="#222" stroke-width="1.3"/><text y="342.5" class="sc"><tspan x="42.2">0</tspan><tspan x="70.3">500</tspan><tspan x="100.8">1,000</tspan><tspan x="133.8">km</tspan></text></g><g transform="translate(390,383)"><g fill="none" stroke="#cdcdcd" stroke-width="0.8" clip-path="url(#clip)"><polyline points="-102.9,235.8 -96.2,239 -89.5,242.2 -82.8,245.3 -76,248.4 -69.2,251.4 -62.3,254.3 -55.4,257.1 -48.5,259.9 -41.6,262.6 -34.7,265.2 -27.7,267.7 -20.7,270.2 -13.6,272.6 -6.6,275 0.5,277.2 7.6,279.4 14.7,281.6 21.9,283.6 29,285.6 36.2,287.5 43.4,289.3 50.7,291.1 57.9,292.8 65.2,294.4 72.4,295.9 79.7,297.4 87,298.8 94.4,300.1 101.7,301.3 109,302.5 116.4,303.6 123.7,304.6 131.1,305.5 138.5,306.4 145.9,307.2 153.3,307.9 160.7,308.6 168.1,309.1 175.5,309.6 183,310 190.4,310.4 197.8,310.6 205.3,310.8 212.7,310.9 220.1,311 227.6,310.9 235,310.8 242.4,310.6 249.9,310.4 257.3,310 264.7,309.6 272.1,309.1 279.5,308.6 287,307.9 294.4,307.2 301.7,306.4 309.1,305.5 316.5,304.6 323.9,303.6 331.2,302.5 338.6,301.3 345.9,300.1 353.2,298.8 360.5,297.4 367.8,295.9 375.1,294.4 382.3,292.8 389.6,291.1 396.8,289.3 404,287.5 411.2,285.6 418.4,283.6 425.5,281.6 432.6,279.4 439.8,277.2 446.8,275 453.9,272.6 460.9,270.2 467.9,267.7 474.9,265.2 481.9,262.6 488.8,259.9 495.7,257.1 502.6,254.3 509.4,251.4 516.2,248.4 523,245.3 529.8,242.2 536.5,239 543.2,235.8"/><polyline points="-68.9,166.7 -62.9,169.6 -56.9,172.5 -50.9,175.3 -44.8,178 -38.7,180.6 -32.6,183.2 -26.5,185.8 -20.3,188.2 -14.1,190.7 -7.8,193 -1.6,195.3 4.7,197.5 11,199.7 17.3,201.8 23.6,203.8 30,205.8 36.3,207.7 42.7,209.5 49.2,211.3 55.6,213 62,214.6 68.5,216.2 75,217.7 81.5,219.1 88,220.5 94.5,221.8 101,223.1 107.6,224.2 114.1,225.3 120.7,226.4 127.3,227.4 133.9,228.3 140.5,229.1 147.1,229.9 153.7,230.6 160.3,231.2 167,231.8 173.6,232.3 180.2,232.8 186.9,233.1 193.5,233.4 200.2,233.7 206.8,233.8 213.5,233.9 220.1,234 226.8,233.9 233.4,233.8 240.1,233.7 246.7,233.4 253.4,233.1 260,232.8 266.7,232.3 273.3,231.8 279.9,231.2 286.5,230.6 293.2,229.9 299.8,229.1 306.4,228.3 313,227.4 319.5,226.4 326.1,225.3 332.7,224.2 339.2,223.1 345.8,221.8 352.3,220.5 358.8,219.1 365.3,217.7 371.8,216.2 378.2,214.6 384.7,213 391.1,211.3 397.5,209.5 403.9,207.7 410.3,205.8 416.6,203.8 423,201.8 429.3,199.7 435.6,197.5 441.9,195.3 448.1,193 454.3,190.7 460.5,188.2 466.7,185.8 472.9,183.2 479,180.6 485.1,178 491.2,175.3 497.2,172.5 503.2,169.6 509.2,166.7"/><polyline points="-34.3,96.4 -29.1,99 -23.8,101.5 -18.5,103.9 -13.1,106.3 -7.7,108.7 -2.3,110.9 3.1,113.2 8.5,115.4 14,117.5 19.4,119.5 24.9,121.6 30.5,123.5 36,125.4 41.6,127.3 47.1,129 52.7,130.8 58.3,132.4 64,134.1 69.6,135.6 75.3,137.1 81,138.6 86.6,139.9 92.4,141.3 98.1,142.5 103.8,143.8 109.5,144.9 115.3,146 121.1,147 126.8,148 132.6,148.9 138.4,149.8 144.2,150.6 150,151.3 155.8,152 161.7,152.6 167.5,153.2 173.3,153.7 179.2,154.2 185,154.5 190.9,154.9 196.7,155.1 202.6,155.3 208.4,155.5 214.3,155.6 220.1,155.6 226,155.6 231.8,155.5 237.7,155.3 243.5,155.1 249.4,154.9 255.2,154.5 261.1,154.2 266.9,153.7 272.8,153.2 278.6,152.6 284.4,152 290.2,151.3 296,150.6 301.8,149.8 307.6,148.9 313.4,148 319.2,147 325,146 330.7,144.9 336.5,143.8 342.2,142.5 347.9,141.3 353.6,139.9 359.3,138.6 365,137.1 370.6,135.6 376.3,134.1 381.9,132.4 387.5,130.8 393.1,129 398.7,127.3 404.3,125.4 409.8,123.5 415.3,121.6 420.8,119.5 426.3,117.5 431.8,115.4 437.2,113.2 442.6,110.9 448,108.7 453.4,106.3 458.7,103.9 464,101.5 469.3,99 474.6,96.4"/><polyline points="-0.1,26.9 4.4,29.1 9,31.3 13.6,33.4 18.2,35.5 22.9,37.5 27.5,39.5 32.2,41.4 36.9,43.3 41.7,45.2 46.4,46.9 51.2,48.7 55.9,50.4 60.7,52 65.6,53.6 70.4,55.2 75.2,56.7 80.1,58.1 85,59.5 89.8,60.9 94.7,62.2 99.7,63.4 104.6,64.6 109.5,65.8 114.5,66.8 119.4,67.9 124.4,68.9 129.4,69.8 134.4,70.7 139.4,71.6 144.4,72.4 149.4,73.1 154.4,73.8 159.4,74.5 164.5,75.1 169.5,75.6 174.6,76.1 179.6,76.5 184.7,76.9 189.7,77.2 194.8,77.5 199.9,77.8 204.9,77.9 210,78.1 215.1,78.1 220.1,78.2 225.2,78.1 230.3,78.1 235.3,77.9 240.4,77.8 245.5,77.5 250.5,77.2 255.6,76.9 260.6,76.5 265.7,76.1 270.7,75.6 275.8,75.1 280.8,74.5 285.8,73.8 290.9,73.1 295.9,72.4 300.9,71.6 305.9,70.7 310.9,69.8 315.9,68.9 320.8,67.9 325.8,66.8 330.7,65.8 335.7,64.6 340.6,63.4 345.5,62.2 350.4,60.9 355.3,59.5 360.2,58.1 365,56.7 369.9,55.2 374.7,53.6 379.5,52 384.3,50.4 389.1,48.7 393.8,46.9 398.6,45.2 403.3,43.3 408,41.4 412.7,39.5 417.4,37.5 422,35.5 426.6,33.4 431.3,31.3 435.8,29.1 440.4,26.9"/><line x1="-32.4" y1="381.7" x2="88.1" y2="-1.1"/><line x1="92.4" y1="410.7" x2="153.3" y2="14"/><line x1="220.1" y1="420.4" x2="220.1" y2="19.1"/><line x1="347.9" y1="410.7" x2="286.9" y2="14"/><line x1="472.6" y1="381.7" x2="352.2" y2="-1.1"/></g><rect x="36.5" y="263.8" width="113.1" height="93.7" fill="#fff"/><rect x="337.2" y="307.9" width="43" height="48.6" fill="#fff"/><g fill="none" stroke="#8a8a8a" stroke-width="2.4" stroke-linejoin="round"><polyline points="337.5,219.2 336.2,217.6 334.2,220.7 333.1,224.8 332.1,229 331.1,234.2 329,239.3 326.9,243.5 324.8,247.6 322.8,251.8 321.7,255.9 320.7,260 318.6,263.1 315.5,267.3 311.4,271.4 308.3,274.5 305.2,277.6"/></g><g fill="none" stroke="#4d4d4d" stroke-width="0.9" stroke-linejoin="round"><polyline points="131.3,76.2 131.9,79.4 132.5,81.6 133.9,83.3 134.8,85 136.5,85.9 139.7,87.2 142.3,89.1 143.6,92.3 144.9,94.9 145.1,96.9 145.5,98.8 145.1,101.5 144.2,104 143.7,106 142.9,107.9 144.9,109.8 147.2,110.3 149.4,111.1 151.3,111.7 153.3,111.7 155.3,112.2 157.2,113 158.9,114.2 160.4,115.6 161.9,117.3 163.6,118.9 166.9,120.2 168.2,123.4 168.8,126.6 170.1,129.9 172,131.8 174.3,132.4 176.6,131.8 179.1,132.7 181.7,133.1 183.9,133.4 186,134.2 188.2,134.4 190.4,134.5 192.5,133.7 194.7,133.7 197.2,134.8 199.9,135 200.9,137 203.1,137.6 204.9,139.6 207.6,140.2 210,141.8 212.8,141.5 214.8,141.7 216.7,141.5 219.3,142.8 221.2,142.3 223,141.7 224.4,140.2 226.6,139.6 228.2,138.3 230,137"/><polyline points="172,131.8 169.5,133.7 168.8,137 167.1,138.4 164.9,138.9 162.8,139.7 161,140.9 158.8,141.7 157.2,143.4 156,144.8 154.6,146 152.7,146.4 150.7,146.7 149.4,149.3 148.8,151.2 148.1,153.1 147.3,154.8 146.4,156.4 146.2,158.3 145.5,160"/><polyline points="175.9,132.4 175.9,135.2 177.2,137.6 177,139.8 178.5,141.5 179.1,143.4 179.2,145.4 181,147 181.7,149.3 184.3,148.6 187.6,148 190.8,148 192.1,150.6 190.8,153.1 189.5,155.7 190.7,157.1 192.1,158.3 193.4,160"/><polyline points="230,137.6 232.1,136.8 234.3,136.6 236.5,136.3 238.6,135.6 240.8,135.5 242.9,135 245.5,134.5 248.1,133.7 249.7,131.7 252,130.5 253.4,128.2 255.9,127.3 257.8,124.7 256.9,122.7 255.9,120.8 255.6,118.8 255.9,116.9 258.5,115 260.4,114.5 262.3,115 264.2,114.8 265.8,113.8 267.5,113 269.5,112.7 271.1,111.5 272.7,110.5 274.7,110.1 276.6,109.2 278,107.6 279.8,106.6 281.1,104 282.7,102.7 284.3,101.4 286.5,100.9 288.2,99.5 290.2,99.4 292.1,98.8 294.1,99 296,98.2 298.6,96.9 297.3,93.6 295.6,91.9 293.4,91 291.3,90.4 289.5,89.1 287.6,88.9 285.6,89.1 283.6,89.9 281.7,91 279.8,91.5 277.9,91.7 275.3,90.4 274.6,87.2 274.5,85 275.9,83.3 276.7,81.4 277.2,79.4 278.5,76.2"/><polyline points="323.8,60 323.8,62 323.1,63.9 323.5,66 322.5,67.8 322.6,69.8 321.8,71.6 321.9,74.4 320.6,76.8 320.8,79 319.3,80.7 318.4,82.4 316.7,83.3 315.2,84.4 314.1,85.9 312.4,87.1 311.5,89.1 312.8,91.7 315.4,92.3 316.7,94.3 316,97.5 314,98.3 312.8,100.1 309.6,101.4 310.9,104 312.8,106.6 313.6,108.5 314.1,110.5 315.4,113 317.3,114.3"/><polyline points="316.7,126 314.7,126.8 312.8,127.9 310.6,128.9 308.9,130.5 306.3,132.4 304.4,134.4"/><polyline points="316,97.5 318.2,98.5 320.6,98.8 322,100.2 323.9,100.8 325.7,101.4 327.9,101.2 330,101.4"/><polyline points="250.7,159.6 252.3,158.5 253.9,157.3 255.9,157 257.6,156.1 259,154.7 261,154.4 263.5,153.5 266.2,153.1 268,151.6 270.1,150.6 272.7,149.3 271.3,147.6 271.4,145.4 271.7,143.3 272.7,141.5 273.3,139.1 275.3,137.6 277.2,136.9 279.2,137 281.7,135 283.4,133.6 285.6,133.7 287.1,131.9 289.5,131.8 292.1,133.1 294.7,135 296,137.6 298.6,138.9 299.5,137.2 301.2,136.3 302.4,133.7 304.4,134.4"/><polyline points="307.6,145.4 308.6,143.8 310.2,142.8 312.4,142.3 314.1,140.9 316.1,140.9 318,141.5 319.3,144.1 318,146.7 316.6,147.9 315.4,149.3 315.2,151.4 314.1,153.1 315.4,155.7"/><polyline points="315.4,157 316.7,155.7 317.9,154.3 319.3,153.1 320.9,151.4 323.1,150.6 325.2,149.5 327,148 330,146.7"/><polyline points="330.8,60 331.4,62.6 332.6,64.3 334,65.8 336,66.1 337.9,66.5 339.8,66.9 341.7,67.1 343.8,67.4 345.6,68.4 347.4,69.6 349.5,70.3 350.4,72 352.1,72.9 353.4,75.5 356,77.5 358.6,76.8 360.8,75.9 362.4,74.2 364.2,72.7 366.3,71.6 367.5,70.3 368.9,69.1 371.5,67.8 372.8,69.7 373.1,72 372.8,74.2 372.9,76.9 372.1,79.4 371.4,82 371.5,84.6 370.3,87.1 370.9,89.8 369.4,91.9 367.6,93.6 365.4,94.6 363.7,96.2 362.2,97.3 361.2,98.8 361.8,101.4 363.7,104 364.4,106.6 363.7,109.2 363.1,111.7 363.7,114.3 362.4,116.9 360.5,115.6 358.6,115 357.3,116.9 356.3,118.9 355.3,120.8 353.9,122.3 352.1,123.4 349.5,124.7 347.6,126 344.3,127.3 343,129.2 342.4,130.5 341.1,132.4 339.2,135 337.9,137.6 336.5,138.8 335.3,140.2 334,141.5 332.5,142.6 331.2,143.9 330.1,145.4 328.8,147.6 326.9,149.3 325.1,150.1 323.6,151.2 321.3,151.9 319.8,153.8 317.3,154.3 315.9,156.4"/><polyline points="315.9,156.4 316.8,154.1 317.8,151.8 318.5,149.9 319.1,148 319,145.3 317.8,142.8 315.2,140.9 312.6,141.5 310.7,144.1 308.1,146 305.5,147.3"/><polyline points="305.5,147.3 302.9,145.4 301.6,144.1 300.3,142.8 300.9,140.2 301,137.6 302.2,136.2 302.9,134.4"/><polyline points="317.2,126 315.4,127 313.3,127.3 311.3,128.2 309.4,129.2 306.8,131.2 304.2,132.4 302.9,134.4"/><polyline points="321.7,60 322.5,62.5 322.3,65.2 322,67.7 321.7,70.3 321.1,72.2 321,74.2 320,76 320.4,78.1 318.5,80.7 317.2,82.3 315.9,83.9 314.9,85.8 313.3,87.2 312.2,88.7 311.3,90.4 313.3,92.3 315.9,93 317.8,94.3 317.2,96.2 315.1,97.3 313.3,98.8 312.1,100.2 310.7,101.4 310.1,103.3 312,105.3 313.3,107.9 313.9,111.1 315.9,113 317.8,113.7"/><polyline points="315.9,96.9 317.6,98.4 319.8,98.8 321.9,99.8 323.6,101.4 325.5,102.2 327.5,102.7 329.3,101.7 331.4,101.4 333.2,102.5 335.3,102.7 337.4,102.9 339.2,104 341.7,105.3 342.8,106.8 344.3,107.9 346.9,108.5 349.5,109.8 352.1,109.2 354.7,107.9 357.3,106.6 359.9,107.2 362.4,107.9 363.7,109.2"/><polyline points="326.9,119.5 328.8,120.8 330.9,121.9 332.7,123.4 334.1,125.3 335.3,127.3 336.3,128.9 337.2,130.6 337.9,132.4 339.2,135"/><polyline points="57.2,178.1 55.2,180.7 54.9,182.6 54.6,184.6 56.5,187.2 56.1,189.1 56.5,191 55.2,193 52.6,191.7 50.7,192.3 49.9,194.2 50.7,196.2 50.9,198.8 51.3,201.4 52.6,204.6 54,206 55.9,206.6 56.4,208.4 57.8,209.8 59.1,211.7 61,213 63.6,215 65.6,213 68.2,213 69.7,214.1 70.8,215.6 72.7,218.2 74.7,219.7 75.3,222.1 77,223 77.9,224.7 81.1,225.3 82,227 83,228.6 84.5,229.7 85.6,231.2 86.9,233.7 89.5,235 90.9,236.2 92.1,237.6 94.7,237.6 97.3,238.9 99.9,240.2 101.9,240.2 103.7,240.9 105.7,240.9 107.6,240.2 109.6,241.5 109.1,243.6 110.2,245.4 110.9,246.7 112,244.8 112.8,242.8 115.4,240.9 118,240.2 120.6,240.9 123.1,242.1 125.7,243.4 128.3,244.1 130,246"/><polyline points="57.2,178.1 59.8,178.8 61.6,178 63.6,178.1 64.9,176.2 66.2,174.2 68.8,172.9 70.8,173.3 72.7,174.2 74.8,174.4 76.6,175.5 79.2,174.2 81.7,173.6 84.3,175.5 86.9,177.5 88.9,177.6 90.8,178.1 93.4,177.5 95.3,177 97.3,176.8 99.3,177.1 101.2,177.5 104.4,176.2 106.3,174.9 108.9,174.6 111.5,174.5 113.7,174.3 115.9,174.3 118,174.9 119.9,175.6 121.8,176.2 123.6,177.3 125.1,178.8 127.5,179.2 130,179.4"/><polyline points="125.1,178.8 124.4,182 123.9,183.9 123.8,185.9 122.9,187.8 123.1,189.8 122.8,191.7 123.1,193.6 123.6,195.6 124.4,197.5 125.8,198.7 127,200.1 128.1,201.9 130,202.7"/><polyline points="146.8,157.5 148.6,158.7 150.7,158.8 152.4,160.2 154.6,160.7 155.5,162.4 157.2,163.3 158.7,165 161,165.2 162.9,165.9 164.9,166.5 166.8,167.1 168.8,167.2 171.4,165.2 172.7,163.5 172.7,161.3 175.3,160.1 176.9,161.8 179.2,162 181,162.8 183,162.6 185.6,163.3 187.1,164.4 188.2,165.9 190.8,167.8 193.4,169.1 196,171 198,171.4 199.9,172.3 200.7,174 202.4,174.9 204.4,177.5 205.6,179.3 206.3,181.4 207.3,183.2 207.6,185.3 206.5,187.1 206.3,189.2 204.9,191 203.7,193 201.8,195.6 199.9,198.2 197.3,199.5 194.7,200.2 194,202.1 196,204.7 198.6,206 200.5,207.3"/><polyline points="130,203.4 132.1,203.6 133.9,204.7 135.8,205.4 137.8,206 139.4,206.8 141.2,207.3 142.9,207.9 144.8,208.2 146.3,209.5 148.1,209.9 150,210.7 152,210.5 153.8,211.7 155.9,212.4 157.1,213.8 158.5,215 160,216.1 161,217.6 163.6,218.3 166.2,217 168.8,215 169.5,213.1 171.4,212.4 171.1,210.4 172,208.6 172.2,206 172.7,203.4 173.1,201.5 174.6,200.2 176.6,200.2 178.5,202.1 179,204.1 179.8,206 181.7,208.6 184.3,209.9 186.9,211.2 189.5,211.8 192.1,212.4 194.7,211.8 197.3,209.9 198.7,208.3 200.5,207.3"/><polyline points="172.7,211.2 173.1,213.4 174.6,215 176.4,216.8 177.9,218.9 179.3,221.3 179.2,224.1 179,226.3 179.9,228.4 179.8,230.6 180.6,232.4 180.2,234.4 180.5,236.2 179.9,238.2 180.5,240"/><polyline points="200.5,207.3 202.4,204.7 204.1,203.8 205,202.1 207.6,200.8"/><polyline points="194.7,160.7 195.8,162.2 197.3,163.3 199.9,164.6 202.4,163.3 205,162 207.6,160.7 210.2,160.1 212.8,160.1 214.7,160.7 215.4,163.3 214.1,165.9 212.1,168.5 211.5,171 212.4,172.7 214.1,173.6 216.7,174.9 219.3,174.9 220.6,176.2"/><polyline points="110,244.6 111.2,243.2 112.6,242 114.8,241.5 116.5,240.1 118.2,241.4 120.3,241.3 122.3,241.9 124.2,242.6 126.8,243.9 129.4,245.9 129.9,248.1 131.3,249.8 133.3,252.3 135.2,253.1 137.2,253 139.1,252.5 141,253 143.6,251.7 145.2,250.7 146.2,249.1 148.1,248 150.1,247.2 151.9,245.9 154,245.2 155.9,244.3 157.9,243.9 159.8,244.6 161.7,245.2 164.3,247.2 166.9,249.1 167.5,247.2 168.9,245.9 170.2,243.9 172.1,245.2 173.4,246.5 174.7,247.8 176,251 176.2,253.1 177.3,254.9 176.7,256.8 176.6,258.8 175.8,260.7 176,262.7 174.4,264 173.4,265.9 171.6,266.7 170.8,268.5 170,270.2 168.9,271.7 167.6,274.3 167.5,276.3 166.9,278.2 169.5,279.5 171.4,279 173.4,278.9 176,279.5 177.3,282.1 178.5,283.9 178.6,286 180.5,288.6 179.8,290.4 179.9,292.4 181.2,295 182.2,296.6 183.7,297.6 185.8,297.9 187.6,298.9 190.9,298.3 192.8,300.9 194.7,301.5 196,300.2 196.3,298.2 196.7,296.3 197.9,294.9 199.3,293.7 201.8,292.4 204.4,290.5 206.3,289.7 208.3,289.9 210,290.5"/><polyline points="178.6,220 178.6,222 179.2,223.9 179.8,225.8 179.9,227.8 180.7,230.3 180.5,232.9 180.3,234.9 179.9,236.8 180.6,238.8 179.9,240.7 178.6,242.6 177.3,244.6 175.3,246.5"/><polyline points="179.9,242 182.4,242.6 185,243.9 186.1,245.7 187.6,247.2 188.6,248.8 190.2,249.8 190.8,252.2 192.8,253.6 194.2,255.5 195.4,257.5 197.2,259.1 198,261.4 200.6,263.3 203.1,262.7 204.5,261.5 205.7,260.1 205.9,258.1 206.4,256.2 207.1,254.1 208.3,252.3 210,251"/><polyline points="221,232.9 221.9,234.8 221.7,236.8 223.3,238.4 223.6,240.7 225,241.9 226.2,243.3 228.8,244.6 230.6,243.4 232.7,243.3 233.8,241.4 235.9,240.7 238.5,240.1 241.1,242 243,243.9 245,245.9 247.6,247.8 249.5,249.8 248.9,253 250.2,255.6 250.8,258.8 250.2,261.4 251.4,264 253.6,263 256,262.7 258.6,262.4 261.2,262.7"/><polyline points="210.1,251 210.5,249.1 210.7,247.2 212.6,245.2 214.6,244.6 215.9,245.9 216.5,247.8 218.5,249.8 221,250.4 223.6,249.8 224.9,250.4"/><polyline points="210.7,254.9 211.3,256.9 212,258.8 213.5,259.9 214.6,261.4 215.9,264 217.3,265.7 217.2,267.9 217,269.8 216.5,271.7 217.3,273.6 217.2,275.6 218.9,276.5 219.8,278.2 221.8,278.5 223.6,279.5 225.5,280.2 227.5,280.8 226.2,283.4"/><polyline points="219.8,275.6 221.5,274.3 223.6,274.3 225.3,272.8 227.5,273 229.2,271.6 231.4,271.1 233.4,270.5 235.3,269.8 237,268.4 239.2,267.9 240.9,266.5 243,266.6 244.7,265.3 246.9,265.3 248.9,264.3 250.8,263.3"/><polyline points="261.2,262.7 262.4,265.3 263.9,267 264.4,269.2 266.3,271.7 268.1,272.5 268.9,274.3 270.2,276.9 269.6,279.5 267.6,282.1 266.3,284.7 265.4,286.4 263.7,287.3 262.2,288.4 261.2,289.9 259.8,291.1 258.6,292.4 257,293.4 256,295 254.7,297.6"/><polyline points="265,270.5 267,269.9 268.9,269.2 270.9,268.8 272.8,267.9 274.8,268.1 276.7,267.2 279.3,266.6"/><polyline points="210.1,290.6 212,289.9 214,289.3 215.9,288.6 217.9,288.1 219.8,287.3 223,286 224.9,284.7 227.5,283.4 228.8,285.3 229.6,287.9 231.4,289.9 231.6,292.2 233.3,293.7 234.3,296.2 236.6,297.6 239.1,298.5 241.7,298.9 243.9,298.9 245.6,297.6 248.2,298.2 250.8,298.3 252.8,298.4 254.7,298.9"/><polyline points="221.3,185 223.1,187.7 224.9,189.1 226.7,190.4 229.4,192.2 232.1,194 234,194.2 235.8,193.6 237.6,192.2"/><polyline points="229.4,193.1 229.4,195 229,196.8 228.6,198.7 229.4,200.4 228.5,203.1 226.7,205.8 225.4,208.5 224.5,211.2 223.6,212.1"/><polyline points="205,200.4 206.7,201.1 208.6,201.3 210.3,202.3 211.3,204 214,204.9 215.4,206.7 215.7,208.5 215.9,210.3 217.7,212.1 220.4,213.1 223.6,212.1"/><polyline points="223.6,212.1 226.7,211.7 228.5,212.1 230.3,212.1 232.2,213 234,214 236.7,215.3 239.4,216.2 242.1,216.7 244.8,217.6 247.5,218.9 249.3,220.3"/><polyline points="242.1,217.1 241.2,219.4 240.3,222.1 238.5,224.8 236.7,227.1 234.9,229.3 233.1,232.1 231.2,232.5 229.4,231.6 227.6,230.7 224.9,230.2 223.1,232.1 222.2,234.8 221.7,237.5 223.1,239.3 224.9,241.1 226.7,242.9 227.6,244.7"/><polyline points="249.3,220.3 251.2,222.1 253,223.9 252.1,226.6 249.3,228.4 247.5,228.9 245.7,229.3 243,229.8 242.6,232.1 243,234.8 244.8,236.6 246.6,238.4 247.5,241.1 247.5,243 248.4,244.7 249.3,246.4 249.3,248.3 250,250.5 249.2,252.8 249.8,255"/><polyline points="248.4,208.5 250.2,208.3 252.1,208.5 254.8,207.6 257.5,207.2"/><polyline points="249.3,208.5 250.2,211.2 251.2,214 249.8,215.8 249.3,218.5 249.3,220.3"/><polyline points="253.9,194 254.8,196.8 257.5,195 259,193.5 261.1,193.1 263,192.2 265,191.3"/><polyline points="254.8,196.8 255.4,198.6 255.7,200.4 257.5,203.1 258.4,204.9 259.3,206.7 261.1,209.4 262.9,211.2 265,213.1"/><polyline points="247.5,235.7 249.2,234.7 251.2,234.3 252.9,233.5 254.8,233 256.4,231.9 258.4,232.1 260.2,231.6 262,232.1 265,232.5"/><polyline points="281.6,190.4 282.8,192.3 284.7,193.5 287.8,194.3 290.9,192.8 293.2,192 295.5,193.5 297.5,193.3 299.4,192.8 302.5,193.5 304.2,192.5 305.6,191.2 308,188.9 309.5,186.6 310.3,185"/><polyline points="308.7,189.7 311.1,191.2 314.2,192.8 316.5,195.1 317.8,196.5 318.8,198.2 320.4,201.3 321.9,204.4 323.6,205.8 325,207.5 327.4,209.1 328.9,211.4 329.4,213.3 329.7,215.3 330.5,217.6 333.6,218.4 335.9,217.6 337.5,219.2"/><polyline points="295.5,195.1 296.6,196.7 297.9,198.2 301,199.8 303.3,202.1 304.8,205.2 307.2,206.7 308,208.3 307.6,210.6 308.7,213.7 310.3,216.1 312.6,217.6 315.7,217.6 318,218.4 320.4,219.2 322.7,219.2 325,216.8 325.4,214.7 326.6,213 326.6,210.6 327.4,209.1"/><polyline points="322.7,219.2 325,221.5 328.1,223 330.5,221.5 333.6,220.7"/><polyline points="315.7,217.6 315,219.6 314.2,221.5 313.7,223.6 312.6,225.4 311.1,228.5 309.5,231.6 308,233.1 306.4,232.4"/><polyline points="306.4,232.4 303.3,230.8 300.2,230.8 297.1,231.6 294,231.6 291.6,230.8 289.8,231.9 287.8,232.4 286.3,233.7 284.7,234.7 282.3,236.2 280,237.8"/><polyline points="307.2,233.1 308,236.2 309.5,239.3 311.1,242.5 312.6,245"/><polyline points="291.6,195.1 290.1,196.6 287.8,198.2 286.2,200.5 284.7,203.6 283.1,206.7 284.7,209.8 287.8,211.4 290.1,213.7 290.1,216.1 287.8,217.6 285.4,218.4 282.3,217.6 280,216.8"/><polyline points="287.8,218.4 288.5,220.3 290.1,221.5 291.1,223.4 291.6,225.4 292,227.3 292.4,229.3 293.2,231.6"/><polyline points="260,301.2 261.4,299.6 263.5,298.9 265.4,298.4 267,297.2 269.2,296 271.6,295.4 274,295 276.3,294.2 278.4,293.5 279.8,291.9 281.9,291.3 283.3,289.6 285.6,288.4 287.9,287.3 290.2,286.5 292.6,286.1 294.4,285.7 296.1,284.9 298.1,285.1 299.6,283.8 301.7,283.1 303.1,281.4 304.5,279.8 305.4,277.9"/><polyline points="305.4,277.9 305.4,275.4 304.2,273.3 301.9,271 300.3,270 298.4,269.8 296.1,268.6 294.9,267.5 295.6,265.8 296.1,264 296.8,262.3 297.3,260.5 298.2,258.9 298.4,257 299.8,255.5 299.6,253.5 300.4,251.8 300.7,250"/><polyline points="286.8,272.7 288.3,271.5 290.3,271.5 293.8,271 296.1,269.8"/><polyline points="260,261.6 262.3,261.1 263.4,262.6 264.7,264 264.1,266.3 263.5,268.2 262.3,269.8 263.5,272.1 265.2,272.7 267,273.3 267.6,275.4 269.3,276.8 269,278.7 268.1,280.3 267.1,282.2 265.8,283.8 264.9,285.7 263.5,287.3 262.7,289.2 261.2,290.7 260,291.9"/><polyline points="254.2,298.3 255.2,301.4 255.7,304.5 257.3,307.6 259.3,309.2 261.4,309.2 260.9,306.6 259.9,304.5 259.3,301.4 260.4,299.3 263.5,297.8 264,299"/><polyline points="288.3,340.7 289.7,339 291.4,337.6 294.5,336.1 296.6,337.1 295.1,339.7 292.5,341.8 289.4,342.3 288.3,340.7"/><polyline points="269.7,335.5 271.8,334.5 272.8,336.6 271.2,338.1 269.7,337.6"/><polyline points="275.4,331.4 276.4,333.5 278,335.5 277.5,338.1 275.9,338.7"/><polyline points="278.5,333.5 280,333"/><polyline points="247.5,315 249.4,313.4 251.3,311.9 253.2,311.4 255,310.6 257.5,310.2 260,310 263.1,310.6 264.4,312.5 262.5,315 261.4,316.7 261.3,318.8 260,320.6 258.1,322.5 255,323.1 253.1,323.2 251.3,322.5 248.8,321.3 246.9,318.8 247.7,317 247.5,315"/><polyline points="278.5,76.2 281.5,76 284.1,75.9 286.8,76 288.4,74.8 290.3,74.3 291.4,72.7 292,70.8 292.4,68.5 292.7,66.1 292.9,63.8 293.4,61.6 293.6,59.4 294.3,57.2 294.6,55 293.8,51.5 295.2,50 295.5,48 298.1,46.3 300.8,44.5 302.5,43.7 304.3,43.6 307.8,42.8 310.4,43.1 313,43.6 315.7,43.7 318.3,44.5 320,45.8 321.8,47.1 322.9,49 324.4,50.6 326.2,52.5 327,55 328.8,56.3 329.6,58.4 330.5,60.3"/><polyline points="298.1,51.5 300.8,53.3 302.4,52.3 304.3,52.4 306.3,53.4 307.8,55 309.5,57.6 313,56.8 315.6,55.8 318.3,55.9 320.9,57.6 322,59.7 322.6,62"/><polyline points="340.5,308 342,309.8 344.1,311.2 346.3,311.6 348.5,310.9 350.7,309.8 352.8,309.1 355,308.7 357.9,308.3 360.1,308"/><polyline points="348.5,310.9 349.2,312.7 349.6,314.1"/><polyline points="352.8,309.4 351,311.2 349.9,313.1 349.6,314.1"/><polyline points="346.7,316 348.5,314.9 350.3,314.9 351.2,316.3 350.1,318.1 347.8,318.6 346.2,317.6 346.7,316"/><polyline points="352.5,322.1 353.2,323.6 353.9,324.7 355,324.3"/><polyline points="358.6,324.7 360.1,323.9 361.5,323.6"/><polyline points="355,340.2 356.5,338.1 357.2,339.5 355.7,341.7 355,342.4"/><polyline points="360.8,334.4 361.5,336.6 363,337.3 364.4,335.9 365.9,335.2"/><polyline points="358.6,341.7 360.1,340.2 361.5,341 363,341.7"/><polyline points="349.2,343.5 351,342.8 352.8,342"/><polyline points="215,175.6 217.3,175.2 219.7,174.4 222,173.6 224.3,173.2"/><polyline points="224.3,173.2 224.7,170.5 225.3,168.6 225.1,166.6 225.9,163.5 227.4,161.2 229.4,160.4 230.9,161.2 231.3,163.5 230.5,165.9 230.1,168.2 230.9,169.8 232.9,170.1 235.2,171.3 237.1,172.5 239.1,173.2 241,173.2 242.6,171.7 243.3,169.8 244.5,167.4 246.1,165.1 247.6,162.8 249.2,161.2 250.7,159.7 253,158.9 255.4,158.1 257.3,157.3 258.9,156.2 260,155"/><polyline points="216.6,175.2 218.9,177.5 220.4,178.8 221.2,180.6 222.4,182.4 222.8,184.5 223.5,187.6 225.9,189.9 228.2,191.9 229.4,193"/><polyline points="232.1,175.2 229.8,177.5 229,180.6 229.4,183.7 230.5,186.1 231.3,188.4 230.5,190.7 229.4,193"/><polyline points="233.6,175.2 234.4,178.3 236.3,179.5 238.3,180.6 240.1,181.7 241.8,183 242.6,185.3"/><polyline points="241.8,192.3 239.8,192.3 237.5,193 235.2,194.2 232.9,194.6 230.5,193.8 229.4,193"/><polyline points="258.5,156.6 257.3,158.2 256.1,159.7 254.6,162.8 253.7,164.6 253.8,166.6 253,169 253.4,172.1 254.6,175.2 253.8,178.3 253.7,180.3 253,182.2 253.5,184.1 253.4,186.1 254,188.1 253,189.9 253,191.9 252.7,193.8 253,196.9 254.6,199.3 256.1,201.6 257.7,204.7 259.3,207.8 260.8,210.1 263.1,212.5 265.5,213.2 267.5,212.9 269.3,213.6 271.3,213.3 273.2,214 275,214.4"/><polyline points="272.5,161.2 270.9,164.3 271.7,167.4 272.8,170.5 272.7,172.9 273.2,175.2 272.1,177 272.5,179.1 271.7,181.4 273.2,184.5 272.8,187.6 271.7,189.2 269.3,190.7 267,191.5 264.7,192.3 262.4,193 260,194.2 257.7,195.4 254.6,196.9"/><polyline points="280,182.6 282.3,181.8 283.5,179.5 284.7,176.4 286.2,173.3 287.8,171 290.1,168.6 292.4,167.5 294.8,166.3 295.9,164.8 297.9,164.4 300.2,164.4 302.5,164.8 304.1,165.9 304.8,167.5 304.5,169 305.6,170.2 307.2,171 308.7,170.6 310.3,169 311.8,167.1 313.4,165.5 314.2,164"/><polyline points="314.2,164 315.7,165.1 318,165.9 320.4,166.3 322.3,165.9 324.3,166.3 326.6,167.1 326.6,169 325.8,170.2 324.3,171 321.9,171.7 319.6,172.9 317.3,174.8 315.7,176.4 314.2,178.7 312.6,181.1 311.1,183.4 309.9,185.7 308.7,188 308,189.6"/><polyline points="283.1,179.5 282.7,181.1 283.9,183.4 284.7,184.9 287,183.4 287.8,183 286.6,184.7 284.7,185.7 283.1,188 281.6,190.4 282.3,191.5 284.7,193.5 286.2,194.6 288.5,195 290.9,194.6 291.6,193.5 292.4,192.3 294,191.9 296.3,192.7 298.6,193.5 301,192.7 303.3,191.9 305.6,190.4 308,189.6"/><polyline points="289.3,157.8 289.7,160.1 290.9,161.6 293.2,162 295.5,162.4 295.5,164 295.9,164.8"/><polyline points="314.2,164 314.5,161.6 314.2,160.1"/><polyline points="55.7,178.8 54.9,176.5 54.9,174.1 53.8,171.9 54.2,169.5 52.2,168 50.3,166.4 48.8,164.8 47.3,163.1 45.6,161.7 44.8,159.4 44.1,157 42.8,155.5 41.7,153.9 40.1,151.7 37.9,150.1 39.9,149.4 41,147.7 42.5,144.6 42.1,142.3 41.7,140 39.9,139.1 38.6,137.6 37.2,136 37.1,133.8 37.8,131.8 38.6,129.9 39.7,127.9 41.7,126.8 44.9,126 48,125.7 51.1,126.8 52.6,128.3 54.5,127.5 56.5,126.8 58.4,126.1 59.6,124.4 61.4,125.5 63.5,125.2 65.5,124.8 67.4,124.1 69.8,124 72,122.9 74,122.3 76.2,122.6 78.2,122.1 81.3,120.6 81.8,118.5 82.9,116.7 84.5,115.2 86,113.6 85.2,111.3 85.7,108.9 85.4,106.6 85.7,104.3 85.7,102.2 84.7,100.4 86.9,99.8 89.1,99.6 91.1,98.7 93.2,98.7 95.3,98.8 98.4,100.4 100,97.3 101.5,94.2 101.9,91.8 103.8,90.3 105.4,87.2 108.5,88.7 111.6,90.3 113.6,89.5 115.5,90.6 117.8,88.7 118.6,85.6 120.1,82.5 121.7,80.2 123.6,79.6 125.6,79.4 127.1,77.1 129.5,76.3"/><polyline points="126.4,178.8 129.5,177.2 131.6,175.9 134.1,175.7 134.7,173.7 136.4,172.6 135.7,169.5 134.1,166.4 133.6,164.5 133.3,162.5 134.1,160.1 136.4,159.3 138.8,159.4 141.2,159 143.4,157.8 145.5,157.7 147,156.3"/><polyline points="335.5,261 338.4,262 338.8,264.9 338.6,267.2 338.1,269.4 337.8,272 337.5,274.6 337.5,277.8 336.6,279.7 335.9,281.7 334.6,285 333.9,287.2 332,285 330.7,283.2 329.1,281.7 328.7,279.9 327.4,278.5 328.3,276.6 327.4,274.6 328.6,273.1 329.2,271.4 329.1,269.4 330.2,267.8 330.7,266 331.3,264.2 333.6,262 335.5,261"/><polyline points="270,212.9 272.1,213.5 274.1,212.9 277.2,214.5 278.7,215.8 280.4,216.6 283.5,218.1 286.6,218.6 289.2,219.2"/><polyline points="315.5,245.5 317.6,244.5 319.7,245.5 321.8,246.6 323.8,247.1"/><polyline points="304.2,244.5 302.8,245.8 302.1,247.6 301.4,249.7 301.1,251.8 300,254.9 299,258 298,261.1 296.9,264.2 295.6,266.1 295.9,268.3 296.9,271.4"/><polyline points="270,232.1 273.1,233.1 276.2,234.2 277.9,235.6 279.3,237.3 280.4,240.4 279.8,243.5 279.3,246.6 278.3,248.7"/><polyline points="270,231.1 272.1,230.7 274.1,231.1 276.1,232 278.3,232.4 280.4,233.1 283,233 285.5,232.1 288.2,232.2 290.7,231.1 293.8,230.5"/><polyline points="286.6,270.4 288.7,270.7 290.7,271.4 293.8,270.4 295.9,268.8 298,269.4 299.3,270.7 301.1,271.4 302.1,272.9 303.1,274.5 304.7,275.7 305.2,277.6 306.2,280"/><polyline points="337.5,219.2 336.2,217.6 334.2,220.7 333.1,224.8 332.1,229 331.1,234.2 329,239.3 326.9,243.5 324.8,247.6 322.8,251.8 321.7,255.9 320.7,260 318.6,263.1 315.5,267.3 311.4,271.4 308.3,274.5 305.2,277.6"/></g><rect x="337.2" y="307.9" width="43" height="48.6" fill="none" stroke="#222" stroke-width="1.2"/><g stroke="#1a1a1a" stroke-width="1.6" stroke-linecap="round"><line x1="337.8" y1="298.0" x2="342.5" y2="289.3"/><line x1="328.5" y1="320.2" x2="331.4" y2="310.9"/><line x1="327.9" y1="333.0" x2="328.2" y2="341.7"/><line x1="345.6" y1="266.3" x2="346.2" y2="275.6"/><line x1="252.6" y1="339.2" x2="258.8" y2="347.5"/><line x1="374.5" y1="309.1" x2="373.3" y2="311.4"/><line x1="371.6" y1="314.9" x2="371.0" y2="319.6"/><line x1="370.4" y1="321.9" x2="370.8" y2="325.4"/><line x1="372.2" y1="330.1" x2="370.4" y2="333.6"/><line x1="366.9" y1="340.5" x2="364.0" y2="342.9"/><line x1="356.5" y1="350.4" x2="358.8" y2="349.9"/><line x1="346.0" y1="343.5" x2="346.6" y2="346.4"/><line x1="350.6" y1="332.4" x2="351.2" y2="335.3"/><line x1="347.7" y1="323.7" x2="350.1" y2="326.6"/></g><g fill="#555"><circle cx="279.4" cy="312.5" r="0.75"/><circle cx="286.3" cy="314.4" r="0.75"/><circle cx="269.4" cy="331.3" r="0.75"/><circle cx="310" cy="333.5" r="0.75"/><circle cx="318.8" cy="340.6" r="0.75"/><circle cx="301.9" cy="351.9" r="0.75"/><circle cx="348.1" cy="255.4" r="0.75"/><circle cx="323.3" cy="278" r="0.75"/><circle cx="309.9" cy="333.6" r="0.75"/><circle cx="301.6" cy="351.7" r="0.75"/><circle cx="339.6" cy="285.7" r="0.75"/><circle cx="338.8" cy="280.7" r="0.75"/></g><polygon points="335.8,70.8 341.6,70.8 343.9,68.5 338.1,68.5" fill="#780000" stroke="#ff0000" stroke-width="1.3" stroke-linejoin="round"/><polygon points="341.6,70.8 341.6,80.8 343.9,78.5 343.9,68.5" fill="#780000" stroke="#ff0000" stroke-width="1.3" stroke-linejoin="round"/><rect x="335.8" y="70.8" width="5.9" height="10.1" fill="#ff0000" stroke="#ff0000" stroke-width="1.3" stroke-linejoin="round"/><polygon points="334.4,107.3 340.3,107.3 342.6,105 336.8,105" fill="#780000" stroke="#ff0000" stroke-width="1.3" stroke-linejoin="round"/><polygon points="340.3,107.3 340.3,113.6 342.6,111.3 342.6,105" fill="#780000" stroke="#ff0000" stroke-width="1.3" stroke-linejoin="round"/><rect x="334.4" y="107.3" width="5.9" height="6.3" fill="#ff0000" stroke="#ff0000" stroke-width="1.3" stroke-linejoin="round"/><polygon points="262.7,95 268.6,95 270.9,92.8 265,92.8" fill="#780000" stroke="#ff0000" stroke-width="1.3" stroke-linejoin="round"/><polygon points="268.6,95 268.6,120.8 270.9,118.5 270.9,92.8" fill="#780000" stroke="#ff0000" stroke-width="1.3" stroke-linejoin="round"/><rect x="262.7" y="95" width="5.9" height="25.8" fill="#ff0000" stroke="#ff0000" stroke-width="1.3" stroke-linejoin="round"/><polygon points="102.5,134.8 108.5,134.8 110.8,132.5 104.8,132.5" fill="#780000" stroke="#ff0000" stroke-width="1.3" stroke-linejoin="round"/><polygon points="108.5,134.8 108.5,134.8 110.8,132.5 110.8,132.5" fill="#780000" stroke="#ff0000" stroke-width="1.3" stroke-linejoin="round"/><polygon points="317.7,95.2 323.6,95.2 325.9,92.9 320,92.9" fill="#780000" stroke="#ff0000" stroke-width="1.3" stroke-linejoin="round"/><polygon points="323.6,95.2 323.6,135.5 325.9,133.2 325.9,92.9" fill="#780000" stroke="#ff0000" stroke-width="1.3" stroke-linejoin="round"/><rect x="317.7" y="95.2" width="5.9" height="40.3" fill="#ff0000" stroke="#ff0000" stroke-width="1.3" stroke-linejoin="round"/><polygon points="282.4,109 288.3,109 290.6,106.7 284.8,106.7" fill="#780000" stroke="#ff0000" stroke-width="1.3" stroke-linejoin="round"/><polygon points="288.3,109 288.3,154.5 290.6,152.2 290.6,106.7" fill="#780000" stroke="#ff0000" stroke-width="1.3" stroke-linejoin="round"/><rect x="282.4" y="109" width="5.9" height="45.5" fill="#ff0000" stroke="#ff0000" stroke-width="1.3" stroke-linejoin="round"/><polygon points="291.4,155.8 297.3,155.8 299.6,153.5 293.8,153.5" fill="#780000" stroke="#ff0000" stroke-width="1.3" stroke-linejoin="round"/><polygon points="297.3,155.8 297.3,155.8 299.6,153.5 299.6,153.5" fill="#780000" stroke="#ff0000" stroke-width="1.3" stroke-linejoin="round"/><polygon points="191.7,161.7 197.6,161.7 199.9,159.3 194,159.3" fill="#780000" stroke="#ff0000" stroke-width="1.3" stroke-linejoin="round"/><polygon points="197.6,161.7 197.6,170.8 199.9,168.5 199.9,159.3" fill="#780000" stroke="#ff0000" stroke-width="1.3" stroke-linejoin="round"/><rect x="191.7" y="161.7" width="5.9" height="9.2" fill="#ff0000" stroke="#ff0000" stroke-width="1.3" stroke-linejoin="round"/><polygon points="260.9,146 266.8,146 269.1,143.7 263.2,143.7" fill="#780000" stroke="#ff0000" stroke-width="1.3" stroke-linejoin="round"/><polygon points="266.8,146 266.8,172.8 269.1,170.5 269.1,143.7" fill="#780000" stroke="#ff0000" stroke-width="1.3" stroke-linejoin="round"/><rect x="260.9" y="146" width="5.9" height="26.8" fill="#ff0000" stroke="#ff0000" stroke-width="1.3" stroke-linejoin="round"/><polygon points="224.7,176 230.6,176 232.9,173.7 227,173.7" fill="#780000" stroke="#ff0000" stroke-width="1.3" stroke-linejoin="round"/><polygon points="230.6,176 230.6,176 232.9,173.7 232.9,173.7" fill="#780000" stroke="#ff0000" stroke-width="1.3" stroke-linejoin="round"/><polygon points="297.8,154.9 303.6,154.9 305.9,152.6 300.1,152.6" fill="#780000" stroke="#ff0000" stroke-width="1.3" stroke-linejoin="round"/><polygon points="303.6,154.9 303.6,178 305.9,175.7 305.9,152.6" fill="#780000" stroke="#ff0000" stroke-width="1.3" stroke-linejoin="round"/><rect x="297.8" y="154.9" width="5.9" height="23.1" fill="#ff0000" stroke="#ff0000" stroke-width="1.3" stroke-linejoin="round"/><polygon points="162.5,186.2 168.4,186.2 170.7,183.8 164.8,183.8" fill="#780000" stroke="#ff0000" stroke-width="1.3" stroke-linejoin="round"/><polygon points="168.4,186.2 168.4,186.2 170.7,183.8 170.7,183.8" fill="#780000" stroke="#ff0000" stroke-width="1.3" stroke-linejoin="round"/><polygon points="241.2,183.7 247.1,183.7 249.4,181.4 243.5,181.4" fill="#780000" stroke="#ff0000" stroke-width="1.3" stroke-linejoin="round"/><polygon points="247.1,183.7 247.1,192 249.4,189.7 249.4,181.4" fill="#780000" stroke="#ff0000" stroke-width="1.3" stroke-linejoin="round"/><rect x="241.2" y="183.7" width="5.9" height="8.3" fill="#ff0000" stroke="#ff0000" stroke-width="1.3" stroke-linejoin="round"/><polygon points="271.7,170.4 277.6,170.4 279.9,168.1 274,168.1" fill="#780000" stroke="#ff0000" stroke-width="1.3" stroke-linejoin="round"/><polygon points="277.6,170.4 277.6,200.5 279.9,198.2 279.9,168.1" fill="#780000" stroke="#ff0000" stroke-width="1.3" stroke-linejoin="round"/><rect x="271.7" y="170.4" width="5.9" height="30.1" fill="#ff0000" stroke="#ff0000" stroke-width="1.3" stroke-linejoin="round"/><polygon points="309.8,180.8 315.6,180.8 317.9,178.5 312.1,178.5" fill="#780000" stroke="#ff0000" stroke-width="1.3" stroke-linejoin="round"/><polygon points="315.6,180.8 315.6,203.2 317.9,200.8 317.9,178.5" fill="#780000" stroke="#ff0000" stroke-width="1.3" stroke-linejoin="round"/><rect x="309.8" y="180.8" width="5.9" height="22.3" fill="#ff0000" stroke="#ff0000" stroke-width="1.3" stroke-linejoin="round"/><polygon points="296.7,183.7 302.6,183.7 304.9,181.3 299,181.3" fill="#780000" stroke="#ff0000" stroke-width="1.3" stroke-linejoin="round"/><polygon points="302.6,183.7 302.6,214.3 304.9,212 304.9,181.3" fill="#780000" stroke="#ff0000" stroke-width="1.3" stroke-linejoin="round"/><rect x="296.7" y="183.7" width="5.9" height="30.7" fill="#ff0000" stroke="#ff0000" stroke-width="1.3" stroke-linejoin="round"/><polygon points="264.8,211.6 270.6,211.6 272.9,209.2 267.1,209.2" fill="#780000" stroke="#ff0000" stroke-width="1.3" stroke-linejoin="round"/><polygon points="270.6,211.6 270.6,223.7 272.9,221.3 272.9,209.2" fill="#780000" stroke="#ff0000" stroke-width="1.3" stroke-linejoin="round"/><rect x="264.8" y="211.6" width="5.9" height="12.1" fill="#ff0000" stroke="#ff0000" stroke-width="1.3" stroke-linejoin="round"/><polygon points="202.2,227.8 208.1,227.8 210.4,225.5 204.5,225.5" fill="#780000" stroke="#ff0000" stroke-width="1.3" stroke-linejoin="round"/><polygon points="208.1,227.8 208.1,227.8 210.4,225.5 210.4,225.5" fill="#780000" stroke="#ff0000" stroke-width="1.3" stroke-linejoin="round"/><polygon points="318.1,222.8 323.9,222.8 326.2,220.4 320.4,220.4" fill="#780000" stroke="#ff0000" stroke-width="1.3" stroke-linejoin="round"/><polygon points="323.9,222.8 323.9,231.9 326.2,229.6 326.2,220.4" fill="#780000" stroke="#ff0000" stroke-width="1.3" stroke-linejoin="round"/><rect x="318.1" y="222.8" width="5.9" height="9.2" fill="#ff0000" stroke="#ff0000" stroke-width="1.3" stroke-linejoin="round"/><polygon points="289.9,247.9 295.8,247.9 298.1,245.6 292.2,245.6" fill="#780000" stroke="#ff0000" stroke-width="1.3" stroke-linejoin="round"/><polygon points="295.8,247.9 295.8,247.9 298.1,245.6 298.1,245.6" fill="#780000" stroke="#ff0000" stroke-width="1.3" stroke-linejoin="round"/><polygon points="262.9,246.3 268.8,246.3 271.1,244 265.2,244" fill="#780000" stroke="#ff0000" stroke-width="1.3" stroke-linejoin="round"/><polygon points="268.8,246.3 268.8,250 271.1,247.7 271.1,244" fill="#780000" stroke="#ff0000" stroke-width="1.3" stroke-linejoin="round"/><rect x="262.9" y="246.3" width="5.9" height="3.7" fill="#ff0000" stroke="#ff0000" stroke-width="1.3" stroke-linejoin="round"/><polygon points="230.6,257.8 236.5,257.8 238.8,255.4 232.9,255.4" fill="#780000" stroke="#ff0000" stroke-width="1.3" stroke-linejoin="round"/><polygon points="236.5,257.8 236.5,257.8 238.8,255.4 238.8,255.4" fill="#780000" stroke="#ff0000" stroke-width="1.3" stroke-linejoin="round"/><polygon points="306.7,225.7 312.6,225.7 314.9,223.4 309,223.4" fill="#780000" stroke="#ff0000" stroke-width="1.3" stroke-linejoin="round"/><polygon points="312.6,225.7 312.6,257.9 314.9,255.6 314.9,223.4" fill="#780000" stroke="#ff0000" stroke-width="1.3" stroke-linejoin="round"/><rect x="306.7" y="225.7" width="5.9" height="32.2" fill="#ff0000" stroke="#ff0000" stroke-width="1.3" stroke-linejoin="round"/><polygon points="192.1,266.8 198,266.8 200.3,264.4 194.4,264.4" fill="#780000" stroke="#ff0000" stroke-width="1.3" stroke-linejoin="round"/><polygon points="198,266.8 198,271.8 200.3,269.4 200.3,264.4" fill="#780000" stroke="#ff0000" stroke-width="1.3" stroke-linejoin="round"/><rect x="192.1" y="266.8" width="5.9" height="5" fill="#ff0000" stroke="#ff0000" stroke-width="1.3" stroke-linejoin="round"/><polygon points="244,280.7 249.9,280.7 252.2,278.4 246.3,278.4" fill="#780000" stroke="#ff0000" stroke-width="1.3" stroke-linejoin="round"/><polygon points="249.9,280.7 249.9,280.7 252.2,278.4 252.2,278.4" fill="#780000" stroke="#ff0000" stroke-width="1.3" stroke-linejoin="round"/><polygon points="277.2,253.6 283.1,253.6 285.4,251.3 279.5,251.3" fill="#780000" stroke="#ff0000" stroke-width="1.3" stroke-linejoin="round"/><polygon points="283.1,253.6 283.1,282.2 285.4,279.9 285.4,251.3" fill="#780000" stroke="#ff0000" stroke-width="1.3" stroke-linejoin="round"/><rect x="277.2" y="253.6" width="5.9" height="28.6" fill="#ff0000" stroke="#ff0000" stroke-width="1.3" stroke-linejoin="round"/><polygon points="258.4,325.9 264.3,325.9 266.6,323.6 260.8,323.6" fill="#780000" stroke="#ff0000" stroke-width="1.3" stroke-linejoin="round"/><polygon points="264.3,325.9 264.3,326.1 266.6,323.8 266.6,323.6" fill="#780000" stroke="#ff0000" stroke-width="1.3" stroke-linejoin="round"/><rect x="28" y="28" width="355" height="334" fill="none" stroke="#000" stroke-width="2"/><line x1="78.9" y1="24" x2="78.9" y2="28" class="tk"/><text transform="translate(78.9,23) scale(0.89,1)" class="tl" text-anchor="middle">75°E</text><line x1="151.2" y1="24" x2="151.2" y2="28" class="tk"/><text transform="translate(151.2,23) scale(0.89,1)" class="tl" text-anchor="middle">90°E</text><line x1="220.1" y1="24" x2="220.1" y2="28" class="tk"/><text transform="translate(220.1,23) scale(0.89,1)" class="tl" text-anchor="middle">105°E</text><line x1="289.1" y1="24" x2="289.1" y2="28" class="tk"/><text transform="translate(289.1,23) scale(0.89,1)" class="tl" text-anchor="middle">120°E</text><line x1="361.3" y1="24" x2="361.3" y2="28" class="tk"/><text transform="translate(361.3,23) scale(0.89,1)" class="tl" text-anchor="middle">135°E</text><line x1="99.9" y1="362" x2="99.9" y2="366" class="tk"/><text transform="translate(99.9,374) scale(0.89,1)" class="tl" text-anchor="middle">90°E</text><line x1="220.1" y1="362" x2="220.1" y2="366" class="tk"/><text transform="translate(220.1,374) scale(0.89,1)" class="tl" text-anchor="middle">105°E</text><line x1="340.4" y1="362" x2="340.4" y2="366" class="tk"/><text transform="translate(340.4,374) scale(0.89,1)" class="tl" text-anchor="middle">120°E</text><line x1="24" y1="285.3" x2="28" y2="285.3" class="tk"/><line x1="383" y1="292.6" x2="387" y2="292.6" class="tk"/><text transform="translate(22.6,285.3) rotate(-90) scale(0.89,1)" class="tl" text-anchor="middle">20°N</text><text transform="translate(395,292.6) rotate(-90) scale(0.89,1)" class="tl" text-anchor="middle">20°N</text><line x1="24" y1="205.2" x2="28" y2="205.2" class="tk"/><line x1="383" y1="213.4" x2="387" y2="213.4" class="tk"/><text transform="translate(22.6,205.2) rotate(-90) scale(0.89,1)" class="tl" text-anchor="middle">30°N</text><text transform="translate(395,213.4) rotate(-90) scale(0.89,1)" class="tl" text-anchor="middle">30°N</text><line x1="24" y1="122.6" x2="28" y2="122.6" class="tk"/><line x1="383" y1="132.1" x2="387" y2="132.1" class="tk"/><text transform="translate(22.6,122.6) rotate(-90) scale(0.89,1)" class="tl" text-anchor="middle">40°N</text><text transform="translate(395,132.1) rotate(-90) scale(0.89,1)" class="tl" text-anchor="middle">40°N</text><line x1="24" y1="39.7" x2="28" y2="39.7" class="tk"/><line x1="383" y1="50.8" x2="387" y2="50.8" class="tk"/><text transform="translate(22.6,39.7) rotate(-90) scale(0.89,1)" class="tl" text-anchor="middle">50°N</text><text transform="translate(395,50.8) rotate(-90) scale(0.89,1)" class="tl" text-anchor="middle">50°N</text><text transform="translate(45.2,55.8) scale(0.88,1)" class="pl">D</text><text x="45.6" y="275.6" class="lg">Grain Production</text><text x="66.8" y="306.3" class="lv">-91( 10<tspan dy="-4.5" class="sup">2</tspan><tspan dy="4.5"> t )</tspan></text><polygon points="50.3,290.7 56.2,290.7 58.5,288.4 52.6,288.4" fill="#780000" stroke="#ff0000" stroke-width="1.3" stroke-linejoin="round"/><polygon points="56.2,290.7 56.2,313 58.5,310.7 58.5,288.4" fill="#780000" stroke="#ff0000" stroke-width="1.3" stroke-linejoin="round"/><rect x="50.3" y="290.7" width="5.9" height="22.3" fill="#ff0000" stroke="#ff0000" stroke-width="1.3" stroke-linejoin="round"/><path d="M45.2,347.5 V353.5 H114.5 V347.5 M79.6,351 V353.5" fill="none" stroke="#222" stroke-width="1.3"/><text y="342.5" class="sc"><tspan x="42.2">0</tspan><tspan x="70.3">500</tspan><tspan x="100.8">1,000</tspan><tspan x="133.8">km</tspan></text></g>
</svg></body></html>
